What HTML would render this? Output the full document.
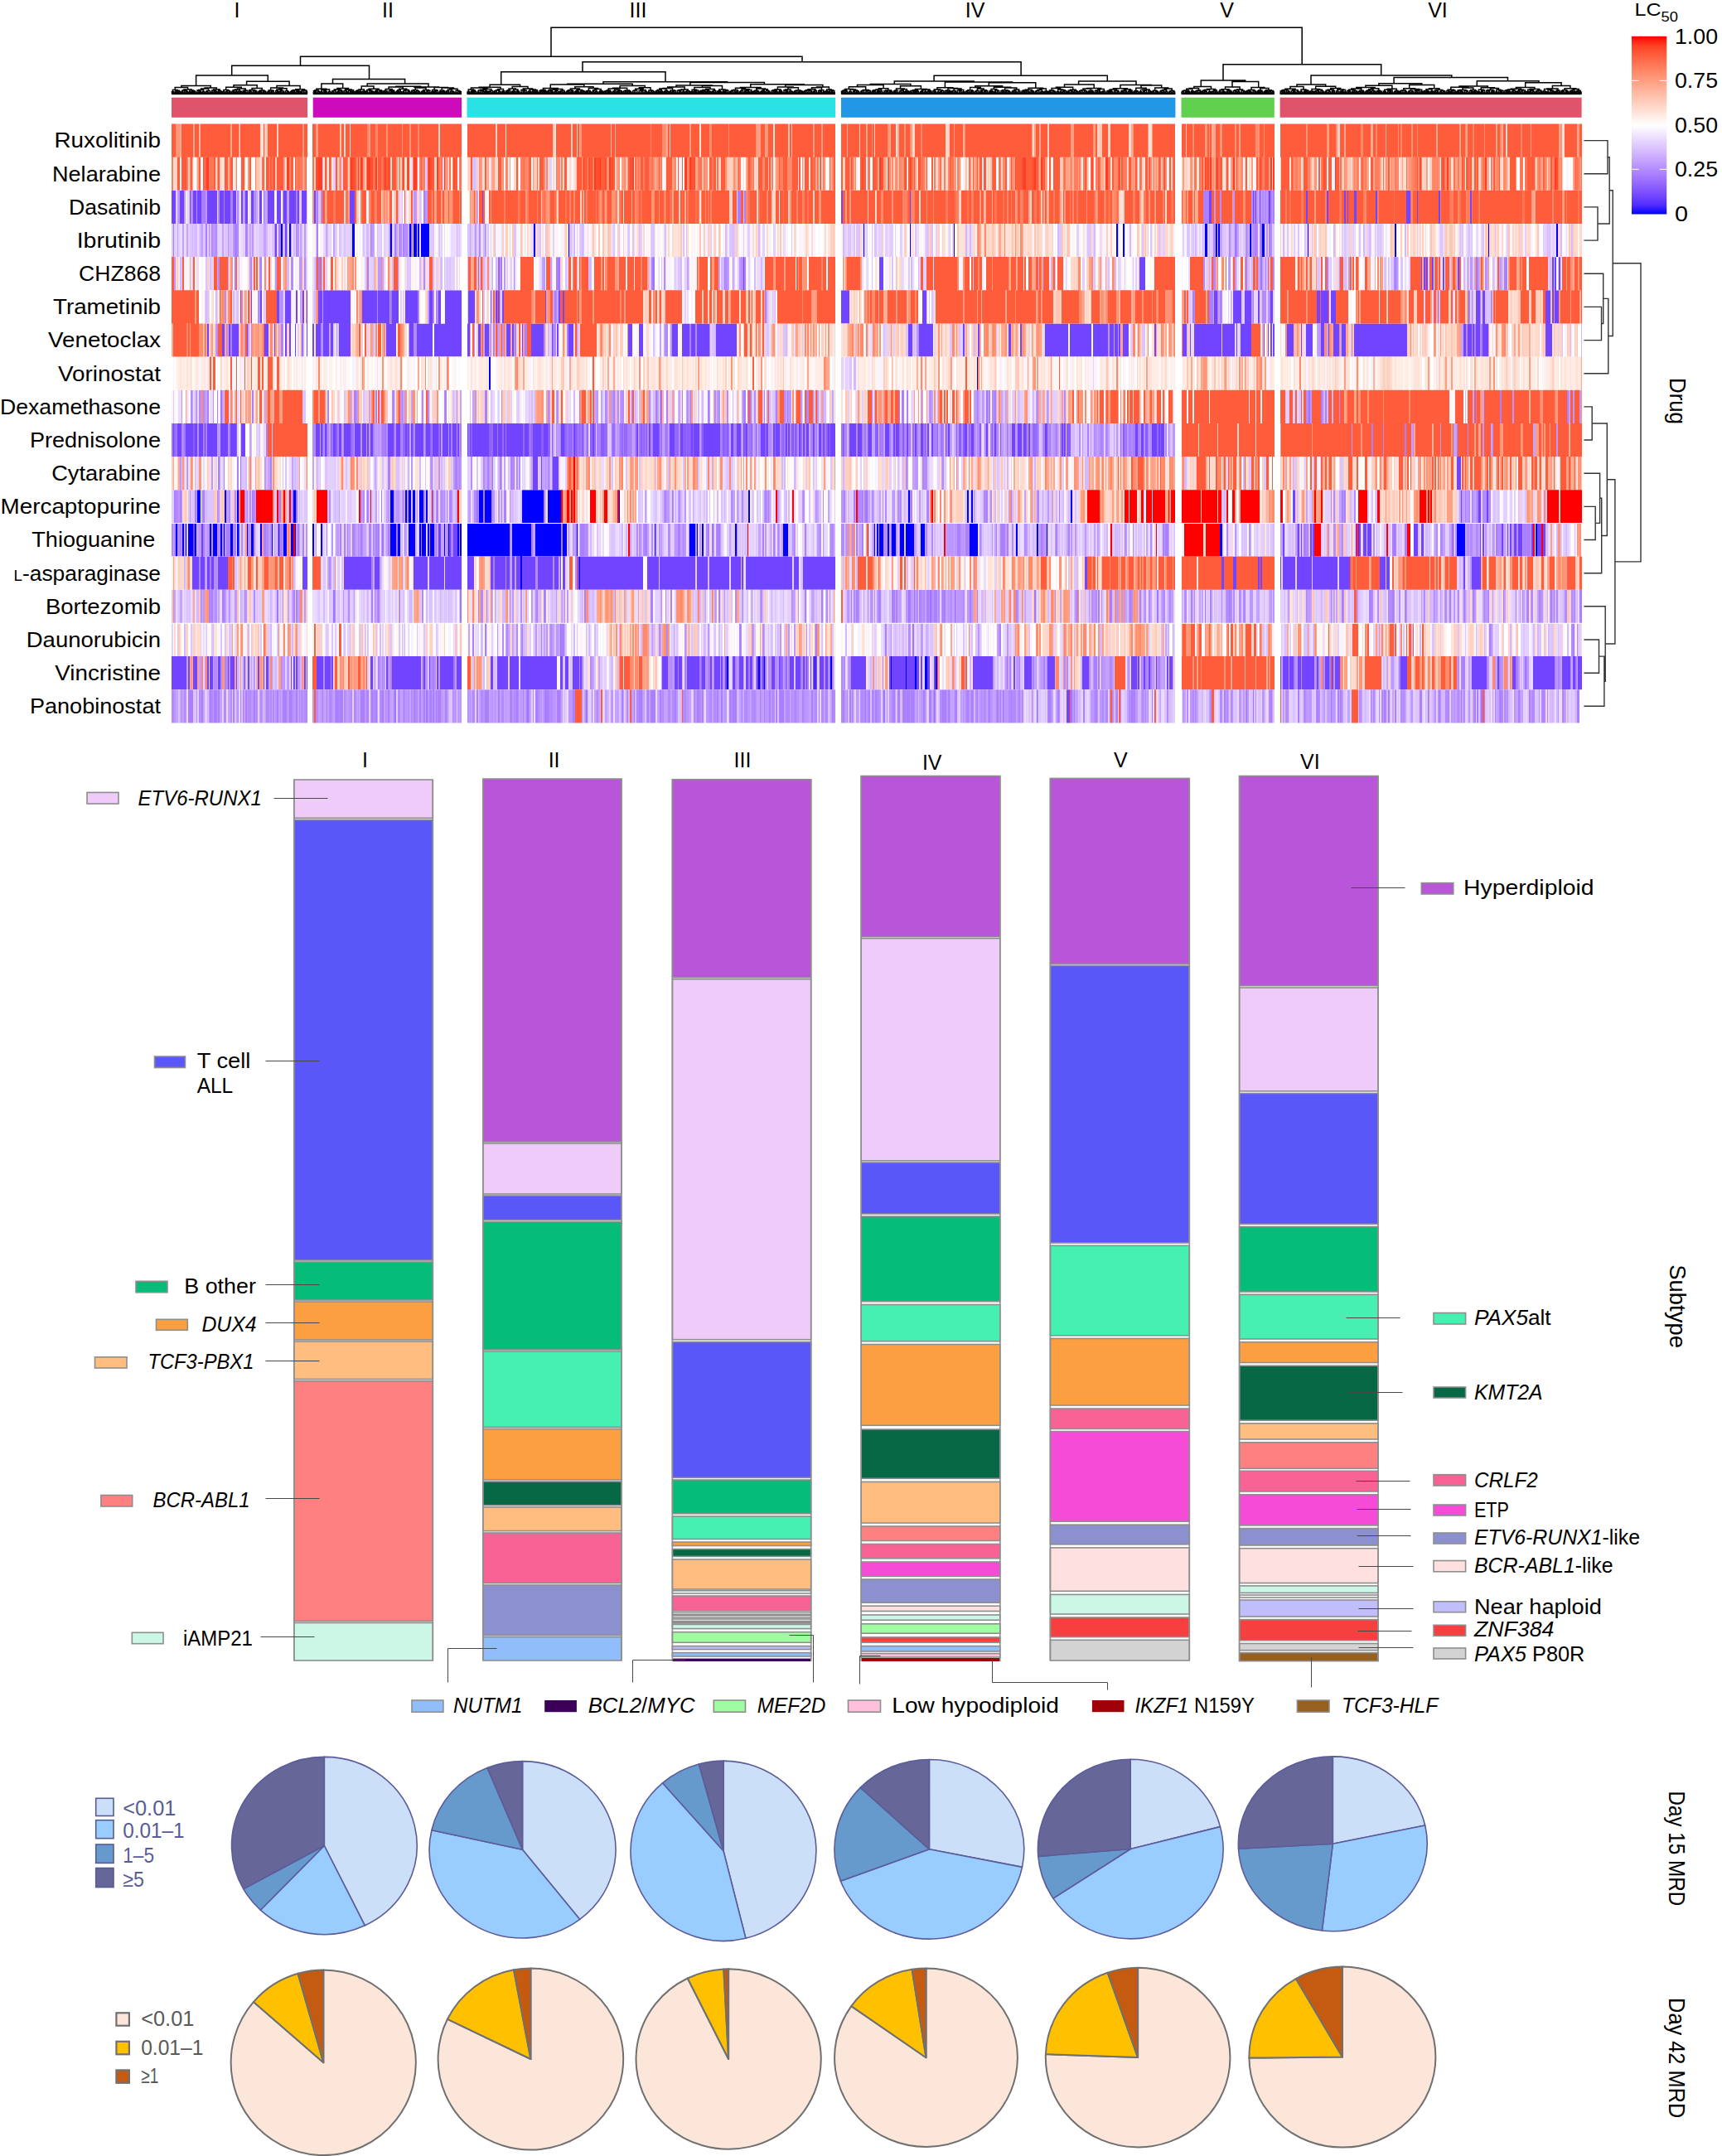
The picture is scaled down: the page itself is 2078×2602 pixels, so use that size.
<!DOCTYPE html>
<html lang="en"><head><meta charset="utf-8"><title>Drug response clusters</title>
<style>html,body{margin:0;padding:0;background:#fff}svg{display:block}text{font-family:'Liberation Sans', sans-serif}</style></head><body>
<svg width="2078" height="2602" viewBox="0 0 2078 2602">
<rect width="2078" height="2602" fill="#fff"/>
<defs><filter id="hb" x="200" y="140" width="1716" height="740" filterUnits="userSpaceOnUse"><feGaussianBlur stdDeviation="0.55 0"/></filter></defs><g fill="none" stroke-width="40.16" filter="url(#hb)">
<path stroke="#0000FF" d="M339 290.1h2m8 0h2m74 0h3m43 0h2m21 0h2m3 0h4m1 0h2m2 0h10m126 0h2m40 0h1m355 0h1m55 0h1m52 0h1m195 0h2m6 0h2m97 0h3m10 0h2m1 0h2m36 0h2m13 0h3m52 0h1m104 0h2m111 0h1m81 0h2M590 450.7h2m587 0h1M238 611.3h4m29 0h2m13 0h2m66 0h3m114 0h4m14 0h2m2 0h3m2 0h3m5 0h5m3 0h2m62 0h5m2 0h8m37 0h26m5 0h16m70 0h1m155 0h2m191 0h2m69 0h2m3 0h2m118 0h2M212 651.5h2m6 0h2m2 0h1m2 0h6m2 0h2m16 0h2m2 0h5m4 0h2m2 0h1m7 0h3m5 0h4m8 0h1m4 0h3m8 0h2m12 0h1m7 0h1m5 0h4m5 0h3m2 0h1m20 0h2m8 0h2m82 0h7m2 0h3m10 0h8m5 0h2m1 0h5m2 0h2m1 0h5m12 0h1m4 0h1m10 0h2m1 0h2m7 0h51m3 0h23m5 0h31m2 0h5m12 0h1m93 0h1m41 0h7m2 0h1m5 0h2m38 0h2m56 0h6m104 0h1m2 0h2m1 0h5m5 0h2m3 0h5m5 0h5m2 0h10m8 0h5m54 0h10m46 0h2m23 0h2m10 0h1m208 0h3m283 0h10m85 0h2M628 691.7h2m69 0h1M877 812.1h2m36 0h2m5 0h1m60 0h1m18 0h2m71 0h1m17 0h1m10 0h2m10 0h3m10 0h2"/>
<path stroke="#7145FF" d="M207 249.9h5m5 0h5m7 0h1m3 0h4m1 0h5m7 0h12m3 0h5m1 0h7m3 0h4m6 0h2m3 0h3m4 0h3m7 0h3m7 0h8m3 0h5m3 0h4m3 0h8m2 0h2m3 0h6m9 0h2m41 0h6m154 0h1m432 0h2m81 0h1m360 0h3m50 0h1m2 0h1m4 0h1m10 0h2m43 0h2m23 0h2m19 0h2m2 0h1m7 0h3m23 0h2m35 0h5m8 0h1m25 0h2m36 0h2M332 290.1h2m10 0h2M897 330.2h1m163 0h5m309 0h7m333 0h1m2 0h2m1 0h2m5 0h2m11 0h2m16 0h2m112 0h2m1 0h2m3 0h2M290 370.4h1m12 0h1m10 0h2m18 0h3m7 0h7m6 0h2m6 0h2m3 0h1m13 0h5m1 0h33m14 0h18m1 0h14m3 0h8m8 0h15m14 0h4m7 0h3m5 0h20m8 0h8m19 0h1m5 0h2m1 0h2m3 0h2m50 0h1m15 0h2m3 0h2m334 0h10m88 0h5m347 0h4m19 0h10m4 0h8m8 0h2m13 0h3m53 0h4m1 0h9m3 0h6m169 0h5m3 0h3m73 0h6m2 0h2m1 0h5M250 410.5h2m16 0h3m5 0h2m2 0h8m10 0h1m20 0h5m7 0h1m12 0h2m3 0h2m5 0h1m7 0h1m5 0h1m6 0h2m2 0h6m3 0h7m2 0h3m7 0h14m43 0h12m16 0h5m4 0h19m2 0h33m7 0h3m10 0h3m5 0h5m21 0h5m2 0h2m10 0h1m10 0h15m10 0h1m5 0h2m12 0h6m66 0h5m8 0h5m35 0h7m5 0h9m2 0h5m2 0h15m8 0h25m207 0h5m8 0h17m36 0h2m16 0h2m35 0h3m11 0h2m28 0h28m2 0h26m2 0h18m2 0h5m1 0h4m1 0h2m3 0h7m31 0h2m32 0h5m4 0h1m4 0h33m1 0h15m2 0h1m4 0h13m15 0h1m4 0h1m2 0h2m1 0h2m15 0h8m9 0h1m5 0h8m10 0h4m5 0h1m5 0h7m3 0h5m10 0h64m68 0h3m2 0h5m1 0h2m2 0h5m3 0h7m69 0h8M209 531.0h1m4 0h5m5 0h9m2 0h3m2 0h5m2 0h1m2 0h12m4 0h9m3 0h7m6 0h5m85 0h5m1 0h2m3 0h2m8 0h3m4 0h3m3 0h8m5 0h7m2 0h5m1 0h2m2 0h3m18 0h7m3 0h5m6 0h2m2 0h1m2 0h2m3 0h10m3 0h5m3 0h7m2 0h1m2 0h7m1 0h2m2 0h5m1 0h2m10 0h1m2 0h1m2 0h20m5 0h5m1 0h5m2 0h2m1 0h20m2 0h5m5 0h10m3 0h5m16 0h4m11 0h2m21 0h2m51 0h2m13 0h2m3 0h7m13 0h6m7 0h3m10 0h2m1 0h7m5 0h20m13 0h3m4 0h5m3 0h1m2 0h2m16 0h5m2 0h2m6 0h2m1 0h5m7 0h2m1 0h2m7 0h1m3 0h2m3 0h2m2 0h3m5 0h2m5 0h3m2 0h1m5 0h2m1 0h6m17 0h8m2 0h5m8 0h4m16 0h5m5 0h2m1 0h4m9 0h2m8 0h2m5 0h3m5 0h2m3 0h2m15 0h1m2 0h2m18 0h3m5 0h3m15 0h2m8 0h2m19 0h4m3 0h5m2 0h3m3 0h2m18 0h3m17 0h2m1 0h2m84 0h3m4 0h3m10 0h6m2 0h2m1 0h4M643 571.2h6m4 0h1m13 0h7m1084 0h5M1560 611.3h3m200 0h1m20 0h3m7 0h2M233 651.5h2m8 0h2m284 0h3m10 0h2m3 0h5m996 0h2m16 0h2m2 0h1m10 0h2m1 0h2m51 0h2m1 0h2m3 0h4m1 0h5m51 0h5m4 0h3m35 0h1m32 0h1m2 0h2m21 0h2m5 0h1m2 0h2m3 0h3m2 0h5m11 0h2m5 0h5m2 0h3M232 691.7h8m2 0h5m3 0h3m2 0h3m5 0h12m90 0h6m44 0h33m4 0h6m41 0h17m2 0h18m1 0h20m7 0h8m20 0h3m2 0h13m1 0h4m3 0h3m2 0h5m2 0h16m3 0h18m2 0h5m2 0h1m2 0h3m15 0h2m1 0h76m5 0h14m1 0h43m2 0h13m2 0h24m2 0h12m1 0h2m3 0h56m2 0h6m5 0h39m301 0h3m162 0h3m11 0h4m26 0h2m1 0h2m22 0h1m2 0h15m2 0h18m1 0h30m2 0h13m36 0h7m1 0h4m89 0h2m8 0h11M207 812.1h18m2 0h2m4 0h5m12 0h2m1 0h4m6 0h3m9 0h1m2 0h5m2 0h1m9 0h1m3 0h2m10 0h2m5 0h1m2 0h3m27 0h1m2 0h2m1 0h2m8 0h2m1 0h1m11 0h8m2 0h7m1 0h2m45 0h3m16 0h2m5 0h35m3 0h2m5 0h1m8 0h2m2 0h16m4 0h6m35 0h3m5 0h13m2 0h11m2 0h44m4 0h3m3 0h4m5 0h8m1 0h2m97 0h7m8 0h4m1 0h4m6 0h15m3 0h4m6 0h2m3 0h7m1 0h2m3 0h2m7 0h3m5 0h5m3 0h3m2 0h3m5 0h2m5 0h2m9 0h4m5 0h1m12 0h5m2 0h6m3 0h2m2 0h1m4 0h1m2 0h2m1 0h2m3 0h5m2 0h3m28 0h18m28 0h2m1 0h17m1 0h10m2 0h3m2 0h2m6 0h3m5 0h2m45 0h24m25 0h2m11 0h9m19 0h9m33 0h8m51 0h7m1 0h2m5 0h2m4 0h2m7 0h1m12 0h2m1 0h4m130 0h1m2 0h7m1 0h5m5 0h4m1 0h15m3 0h2m8 0h5m3 0h2m2 0h6m73 0h8m78 0h18m13 0h2m16 0h4m21 0h26m9 0h10m3 0h3m3 0h5M1287 852.3h4"/>
<path stroke="#8A5DFF" d="M233 531.0h2m50 0h1m113 0h1m5 0h2m84 0h2m75 0h2m20 0h2m61 0h3m5 0h2m3 0h1m14 0h1m12 0h2m6 0h2m5 0h1m2 0h2m11 0h4m44 0h2m5 0h1m14 0h1m28 0h4m1 0h2m1 0h2m13 0h2m23 0h2m3 0h2m19 0h2m7 0h1m4 0h1m10 0h2m30 0h3m36 0h2m1 0h2m18 0h2m28 0h1m8 0h4m29 0h2m63 0h1m2 0h3m2 0h2m5 0h1m12 0h2m13 0h1m9 0h1m79 0h5m63 0h2m25 0h3m15 0h1M917 812.1h1m23 0h2"/>
<path stroke="#9569FF" d="M601 330.2h2m2 0h1M210 531.0h2m177 0h1m4 0h1m28 0h2m50 0h1m10 0h3m9 0h1m20 0h2m8 0h2m61 0h3m11 0h2m23 0h2m5 0h1m2 0h2m20 0h1m18 0h2m2 0h5m5 0h1m2 0h1m14 0h1m2 0h2m10 0h4m7 0h2m8 0h2m1 0h4m19 0h2m20 0h1m4 0h1m10 0h5m9 0h1m2 0h1m4 0h1m37 0h3m58 0h1m7 0h3m20 0h2m33 0h1m99 0h2m13 0h2m13 0h1m4 0h1m101 0h2m6 0h5m101 0h1m43 0h2M846 812.1h1m96 0h2m3 0h2"/>
<path stroke="#A074FF" d="M318 249.9h1M496 290.1h2m992 0h2m23 0h1m5 0h2M674 330.2h2m112 0h2m731 0h2M471 370.4h2m986 0h1M266 490.9h2m207 0h1m714 0h2m387 0h2M207 531.0h2m3 0h2m8 0h2m176 0h2m23 0h2m38 0h1m47 0h1m51 0h2m33 0h1m9 0h1m28 0h2m43 0h2m11 0h2m1 0h2m2 0h1m33 0h2m8 0h2m21 0h2m2 0h1m2 0h2m66 0h1m32 0h1m23 0h4m39 0h2m10 0h2m55 0h2m26 0h2m16 0h2m2 0h1m19 0h1m12 0h1m15 0h2m54 0h2m79 0h2m30 0h1m74 0h2M290 571.2h1M357 611.3h2m101 0h1m114 0h2m468 0h2M461 651.5h2m15 0h2m379 0h2m821 0h1M334 731.8h2m66 0h2m151 0h2m539 0h2m5 0h1m18 0h2m124 0h2m89 0h1m56 0h2m56 0h1m359 0h1M676 772.0h1m424 0h2M547 812.1h2m1055 0h2m234 0h2M476 852.3h2m36 0h2m120 0h2m20 0h1m48 0h2m357 0h2m59 0h2m163 0h2m218 0h1m93 0h1m180 0h2"/>
<path stroke="#AA80FF" d="M243 249.9h5m22 0h1m7 0h3m76 0h2m23 0h2m127 0h2m377 0h4m4 0h2m552 0h7m54 0h2m15 0h1m2 0h2m1 0h2M209 290.1h1m38 0h2m33 0h3m10 0h2m38 0h3m43 0h2m63 0h1m22 0h1m5 0h2m8 0h2m1043 0h2M283 330.2h2m18 0h1m10 0h2m68 0h2m57 0h2m175 0h1m50 0h3m112 0h2m86 0h1m23 0h2m564 0h1m38 0h2m96 0h2m80 0h2m86 0h1m10 0h2m31 0h4M504 370.4h2m16 0h2m2 0h1m142 0h2m252 0h2m514 0h2m19 0h4m5 0h1m2 0h2m38 0h1m259 0h2m2 0h1M278 410.5h2m59 0h2m254 0h2m24 0h2m10 0h3m31 0h2m15 0h2m117 0h1m28 0h2m797 0h1m147 0h2m6 0h2M237 490.9h1m12 0h2m10 0h1m41 0h2m89 0h2m30 0h3m23 0h2m30 0h1m51 0h2m46 0h3m111 0h1m40 0h2m49 0h2m3 0h2m6 0h2m17 0h1m30 0h2m41 0h3m2 0h1m2 0h2m29 0h2m12 0h1m22 0h1m111 0h1m2 0h3m3 0h2m83 0h1m13 0h2m5 0h2m392 0h2m3 0h2m180 0h1m28 0h2m79 0h2M245 531.0h2m1 0h2m26 0h2m43 0h2m84 0h2m41 0h2m9 0h4m18 0h2m36 0h1m22 0h2m9 0h2m119 0h1m30 0h2m11 0h5m27 0h1m4 0h5m4 0h2m18 0h2m8 0h2m6 0h2m64 0h2m13 0h4m72 0h2m8 0h2m5 0h3m3 0h2m5 0h2m27 0h2m18 0h2m21 0h2m8 0h2m5 0h1m5 0h2m3 0h2m3 0h2m8 0h2m18 0h5m6 0h2m36 0h2m18 0h2m5 0h1m12 0h2m42 0h2m5 0h2m6 0h2m3 0h2m31 0h2m15 0h1m4 0h1m22 0h1m4 0h3m2 0h3m3 0h2m10 0h1m24 0h1m244 0h2m38 0h2m61 0h1M263 571.2h2m5 0h1m15 0h2m38 0h2m140 0h3m50 0h1m27 0h3m2 0h1m33 0h2m3 0h2m8 0h2m11 0h2m2 0h1m45 0h1m426 0h1m19 0h1M210 611.3h2m5 0h2m16 0h2m8 0h2m48 0h1m8 0h2m31 0h2m104 0h2m82 0h2m13 0h2m39 0h2m20 0h1m2 0h3m45 0h2m145 0h1m7 0h2m110 0h2m2 0h1m91 0h1m10 0h2m3 0h2m3 0h2m1 0h2m7 0h1m46 0h2m18 0h2m66 0h1m2 0h2m28 0h1m32 0h1m24 0h1m340 0h2m1 0h2m144 0h1m7 0h1m5 0h2M217 651.5h2m26 0h2m26 0h5m5 0h2m33 0h3m16 0h4m18 0h2m4 0h2m27 0h1m15 0h2m3 0h2m2 0h1m5 0h3m7 0h2m8 0h3m5 0h2m1 0h2m10 0h2m18 0h1m19 0h1m17 0h1m17 0h3m7 0h1m86 0h2m34 0h2m21 0h5m73 0h3m37 0h3m33 0h2m9 0h4m51 0h2m11 0h2m36 0h2m60 0h2m5 0h2m33 0h1m42 0h1m36 0h4m6 0h5m32 0h1m4 0h6m2 0h2m39 0h2m16 0h2m13 0h2m66 0h1m45 0h2m1 0h4m97 0h1m57 0h1m7 0h3m2 0h1m101 0h2m1 0h2m10 0h3m40 0h1m32 0h1m33 0h2m31 0h9M240 691.7h2m11 0h2m193 0h2m145 0h2M242 731.8h1m9 0h1m2 0h2m11 0h3m24 0h1m58 0h2m1 0h2m89 0h2m6 0h2m129 0h1m27 0h1m32 0h1m7 0h2m47 0h2m78 0h3m21 0h2m56 0h2m38 0h1m63 0h2m18 0h2m34 0h1m5 0h2m17 0h1m7 0h3m13 0h4m1 0h2m15 0h1m10 0h2m7 0h3m6 0h4m6 0h4m11 0h2m16 0h2m7 0h1m46 0h2m71 0h2m24 0h2m13 0h2m21 0h2m10 0h2m60 0h2m21 0h2m21 0h2m17 0h1m52 0h1m50 0h1m12 0h2m31 0h3m25 0h2m13 0h2m33 0h1m18 0h2m15 0h2m9 0h2m12 0h1m4 0h1m32 0h1m13 0h2m12 0h1m13 0h2m2 0h1m24 0h1m5 0h3M570 772.0h2m13 0h2m43 0h1m22 0h1m23 0h4m114 0h1m96 0h2m90 0h2m82 0h2m137 0h1m589 0h2m99 0h2M271 812.1h2m183 0h2m13 0h2m49 0h2m294 0h1m7 0h2m16 0h2m8 0h3m30 0h2m14 0h2m13 0h2m3 0h2m26 0h2m13 0h2m3 0h2m1 0h2m25 0h1m17 0h1m45 0h1m149 0h2m1 0h2m10 0h1m15 0h2m11 0h2m59 0h4m1 0h2m2 0h1m9 0h1m22 0h1m14 0h1m4 0h3m3 0h2m8 0h2m161 0h2m33 0h2m90 0h2m74 0h4m41 0h1m19 0h3m48 0h1m20 0h2M227 852.3h6m10 0h2m8 0h2m3 0h4m1 0h2m16 0h2m7 0h1m5 0h2m8 0h2m15 0h1m10 0h2m5 0h5m3 0h3m5 0h2m5 0h1m5 0h1m18 0h1m4 0h1m4 0h1m5 0h4m1 0h4m21 0h5m3 0h2m3 0h2m3 0h2m6 0h2m5 0h2m29 0h2m5 0h2m3 0h2m6 0h2m1 0h2m2 0h1m2 0h3m5 0h2m36 0h2m8 0h5m11 0h2m13 0h2m5 0h2m21 0h3m10 0h4m9 0h4m15 0h3m20 0h1m35 0h2m5 0h1m7 0h1m5 0h4m6 0h2m2 0h6m5 0h2m16 0h2m25 0h3m3 0h2m16 0h2m3 0h2m8 0h2m2 0h5m28 0h1m4 0h1m5 0h2m6 0h2m2 0h6m14 0h1m7 0h1m10 0h2m7 0h1m7 0h1m7 0h2m1 0h1m9 0h2m6 0h2m16 0h2m3 0h2m2 0h1m3 0h2m20 0h2m3 0h3m3 0h4m1 0h4m1 0h4m11 0h2m5 0h3m13 0h5m2 0h2m6 0h3m12 0h2m3 0h2m5 0h1m13 0h2m8 0h2m2 0h1m2 0h2m8 0h1m9 0h1m14 0h1m5 0h2m11 0h4m8 0h2m18 0h1m10 0h2m13 0h2m23 0h2m16 0h5m20 0h1m86 0h2m24 0h2m28 0h2m31 0h2m21 0h2m23 0h2m1 0h2m35 0h1m15 0h2m3 0h2m6 0h2m28 0h3m7 0h2m11 0h2m10 0h1m14 0h1m15 0h2m1 0h2m7 0h1m17 0h3m20 0h2m11 0h2m15 0h1m40 0h3"/>
<path stroke="#B38BFF" d="M230 249.9h3m30 0h2m21 0h2m7 0h1m10 0h3m32 0h1m45 0h2m1083 0h2m36 0h2m11 0h2m1 0h2M252 290.1h1m2 0h2m3 0h2m24 0h2m10 0h1m32 0h1m25 0h2m35 0h1m86 0h4m4 0h2m87 0h2m884 0h3m16 0h2m7 0h1m10 0h2m7 0h3m1 0h2m15 0h2M263 330.2h2m48 0h1m37 0h3m13 0h2m12 0h1m5 0h2m91 0h1m30 0h2m288 0h2m72 0h2m7 0h1m9 0h3m555 0h2m11 0h2m69 0h2m144 0h1m109 0h2M271 370.4h2m38 0h2m26 0h2m114 0h1m71 0h2m142 0h1m769 0h1m32 0h1m48 0h5m3 0h2m253 0h1m12 0h2M262 410.5h1m10 0h2m28 0h1m37 0h1m45 0h2m110 0h4m89 0h1m7 0h1m55 0h2m11 0h2m133 0h2m33 0h2m15 0h1m251 0h1m660 0h2m5 0h1m9 0h1M230 490.9h2m8 0h2m3 0h2m226 0h2m34 0h2m5 0h2m18 0h1m14 0h1m53 0h1m55 0h2m9 0h2m56 0h3m12 0h2m3 0h3m9 0h1m20 0h2m44 0h2m1 0h2m28 0h2m3 0h2m8 0h2m31 0h2m10 0h1m23 0h2m26 0h2m76 0h1m69 0h2m73 0h3m51 0h2m10 0h1m20 0h2m290 0h3m37 0h1M219 531.0h3m16 0h2m137 0h4m9 0h2m3 0h2m17 0h1m45 0h1m5 0h2m8 0h2m7 0h1m13 0h2m53 0h1m116 0h1m75 0h1m14 0h1m18 0h2m36 0h2m48 0h1m24 0h1m7 0h1m12 0h3m10 0h3m10 0h2m7 0h1m2 0h2m41 0h1m36 0h2m53 0h1m14 0h1m30 0h2m6 0h2m2 0h1m13 0h2m17 0h3m6 0h2m8 0h2m3 0h2m53 0h1m5 0h2m7 0h1m28 0h2m16 0h2m5 0h2m1 0h2m3 0h2m28 0h2m8 0h2m3 0h2m6 0h2m16 0h2m261 0h1m35 0h1m65 0h1m29 0h1M568 571.2h2m13 0h2m33 0h2m3 0h2m1 0h2m33 0h2m451 0h5m18 0h2M212 611.3h3m47 0h1m13 0h2m5 0h2m13 0h1m2 0h2m3 0h2m28 0h1m15 0h2m43 0h2m36 0h2m1 0h2m40 0h1m5 0h2m3 0h2m18 0h2m9 0h2m2 0h1m5 0h2m2 0h1m7 0h2m5 0h1m20 0h3m2 0h1m15 0h2m206 0h2m16 0h2m61 0h2m11 0h2m72 0h2m22 0h1m23 0h2m18 0h3m25 0h1m2 0h2m13 0h2m1 0h2m10 0h1m19 0h1m69 0h2m5 0h2m54 0h2m353 0h1m2 0h2m23 0h2m136 0h2m15 0h5m2 0h3M207 651.5h2m1 0h2m2 0h3m45 0h3m3 0h2m11 0h2m8 0h2m6 0h2m5 0h2m13 0h3m2 0h2m42 0h1m61 0h1m4 0h1m12 0h2m3 0h1m14 0h1m53 0h2m13 0h2m74 0h1m70 0h1m4 0h1m2 0h2m9 0h4m59 0h2m1 0h2m3 0h2m8 0h2m7 0h1m10 0h3m15 0h2m5 0h1m20 0h2m10 0h1m24 0h1m40 0h1m7 0h2m18 0h2m29 0h2m11 0h4m9 0h4m9 0h2m36 0h4m15 0h1m38 0h2m56 0h2m37 0h2m13 0h2m20 0h1m108 0h1m20 0h2m90 0h2m94 0h2m25 0h1m5 0h2m8 0h2m36 0h2m74 0h2m4 0h2m10 0h2m21 0h3m4 0h3m17 0h1m5 0h5m18 0h2M258 691.7h4m135 0h2m211 0h1m35 0h3m18 0h2m25 0h2M253 731.8h2m5 0h2m44 0h2m33 0h1m62 0h1m15 0h2m30 0h1m2 0h1m25 0h2m26 0h2m66 0h1m2 0h3m45 0h2m16 0h2m10 0h1m22 0h1m116 0h1m4 0h1m83 0h2m29 0h2m35 0h1m41 0h2m2 0h1m28 0h2m3 0h2m10 0h1m58 0h2m3 0h2m1 0h2m5 0h1m2 0h2m6 0h2m13 0h2m13 0h2m109 0h1m43 0h2m3 0h2m5 0h1m35 0h2m15 0h1m3 0h2m15 0h3m5 0h2m16 0h3m9 0h1m32 0h1m5 0h3m2 0h2m1 0h2m5 0h2m3 0h2m74 0h2m43 0h1m33 0h2m5 0h2m11 0h5m2 0h1m5 0h2m28 0h2m24 0h2m13 0h2m76 0h1m4 0h1m5 0h2m8 0h2m18 0h2m8 0h3m5 0h2M606 772.0h2m3 0h2m10 0h2m39 0h2m138 0h2m88 0h1m25 0h2m51 0h1m122 0h2m107 0h2m689 0h2m5 0h1M258 812.1h4m4 0h2m5 0h2m1 0h2m10 0h2m49 0h2m49 0h2m7 0h1m52 0h1m8 0h2m5 0h2m39 0h2m2 0h1m5 0h3m2 0h2m173 0h1m2 0h2m8 0h2m92 0h2m1 0h2m50 0h1m12 0h1m15 0h2m20 0h1m14 0h3m5 0h3m8 0h2m20 0h1m25 0h2m3 0h2m3 0h2m9 0h2m8 0h2m236 0h1m20 0h2m1 0h2m25 0h2m24 0h2m30 0h1m5 0h2m16 0h2m172 0h1m17 0h1m170 0h2m2 0h1m30 0h2m14 0h2m30 0h1m33 0h2m3 0h2M207 852.3h3m9 0h1m2 0h2m16 0h2m13 0h2m13 0h3m5 0h2m13 0h2m4 0h4m6 0h2m3 0h2m5 0h2m3 0h2m1 0h2m21 0h2m7 0h1m5 0h3m11 0h3m13 0h2m5 0h1m4 0h1m5 0h2m6 0h2m2 0h3m12 0h1m7 0h3m5 0h3m4 0h1m9 0h1m4 0h3m3 0h3m4 0h1m2 0h2m3 0h3m14 0h1m8 0h2m17 0h1m17 0h1m5 0h3m7 0h3m14 0h1m7 0h3m7 0h1m4 0h3m2 0h1m5 0h2m1 0h2m2 0h1m4 0h1m5 0h2m5 0h2m6 0h3m9 0h1m43 0h2m46 0h3m28 0h2m5 0h3m2 0h3m10 0h4m9 0h2m5 0h2m10 0h3m2 0h3m18 0h2m10 0h1m3 0h4m5 0h5m19 0h4m13 0h5m2 0h1m2 0h2m3 0h1m5 0h2m12 0h3m5 0h3m3 0h2m16 0h2m5 0h1m5 0h2m8 0h4m5 0h1m5 0h2m3 0h3m15 0h2m15 0h1m4 0h1m4 0h1m22 0h1m7 0h3m28 0h2m7 0h1m2 0h2m5 0h1m2 0h3m2 0h1m9 0h1m14 0h3m1 0h5m2 0h2m3 0h2m33 0h1m9 0h1m41 0h2m8 0h2m2 0h3m2 0h1m2 0h2m8 0h1m9 0h3m13 0h2m2 0h1m2 0h1m22 0h2m22 0h2m5 0h2m1 0h2m16 0h2m10 0h3m5 0h2m3 0h2m44 0h2m18 0h4m18 0h3m12 0h1m2 0h2m47 0h2m15 0h2m5 0h1m2 0h2m3 0h1m17 0h2m1 0h2m49 0h4m11 0h2m5 0h2m36 0h1m7 0h2m1 0h2m2 0h1m28 0h4m8 0h2m1 0h2m2 0h1m17 0h3"/>
<path stroke="#BC97FF" d="M215 249.9h2m5 0h2m13 0h1m10 0h2m96 0h1m152 0h4m10 0h3m949 0h2m21 0h2m26 0h2m3 0h2m2 0h1m2 0h2m5 0h1M257 290.1h3m15 0h1m5 0h2m21 0h2m40 0h1m12 0h2m6 0h2m79 0h2m38 0h1m2 0h2m80 0h2m10 0h2m918 0h2m3 0h2m8 0h1m7 0h2M210 330.2h2m68 0h1m20 0h2m29 0h2m27 0h3m92 0h4m143 0h2m3 0h2m46 0h2m219 0h2m13 0h2m589 0h2m5 0h2m34 0h2m88 0h1m10 0h2m56 0h2m87 0h3m33 0h2M313 370.4h1m23 0h2m131 0h1m1039 0h2m18 0h1M260 410.5h2m33 0h1m40 0h1m52 0h1m103 0h1m78 0h1m33 0h2m88 0h1m112 0h2m295 0h2m229 0h2m10 0h1m241 0h3M219 490.9h1m22 0h1m4 0h1m9 0h1m172 0h2m51 0h2m3 0h1m84 0h2m88 0h1m7 0h1m48 0h2m15 0h3m8 0h2m43 0h2m61 0h1m8 0h2m58 0h2m24 0h4m11 0h2m18 0h2m123 0h2m8 0h1m55 0h2m1 0h2m3 0h2m394 0h2m242 0h2m71 0h2m6 0h2M262 531.0h3m10 0h1m136 0h2m13 0h1m7 0h2m8 0h2m6 0h2m1 0h2m53 0h2m19 0h2m7 0h1m9 0h1m120 0h4m15 0h1m50 0h1m2 0h2m38 0h1m15 0h2m3 0h2m36 0h2m64 0h2m15 0h1m35 0h1m4 0h1m50 0h1m22 0h1m2 0h2m29 0h2m15 0h1m14 0h3m44 0h2m10 0h2m39 0h2m8 0h2m5 0h3m5 0h2m8 0h3m7 0h1m17 0h2m33 0h1m9 0h1m5 0h2m1 0h2m20 0h2m11 0h2m24 0h2m27 0h3m213 0h1m106 0h1m50 0h2m87 0h2M217 571.2h2m6 0h2m28 0h2m62 0h2m131 0h1m40 0h1m2 0h2m21 0h2m8 0h2m16 0h2m3 0h2m1 0h2m33 0h2m13 0h1m52 0h1m4 0h1m430 0h2m8 0h4M215 611.3h2m2 0h1m9 0h1m13 0h2m18 0h2m43 0h1m159 0h2m5 0h1m2 0h2m5 0h1m17 0h1m27 0h1m2 0h2m31 0h1m27 0h2m4 0h2m12 0h1m188 0h4m18 0h2m56 0h1m4 0h1m32 0h1m2 0h2m11 0h2m28 0h1m15 0h2m29 0h2m36 0h2m23 0h2m5 0h1m23 0h2m153 0h2m355 0h1m142 0h2m3 0h3m5 0h2m2 0h1M240 651.5h3m7 0h3m2 0h2m8 0h1m5 0h2m28 0h2m38 0h1m27 0h1m11 0h1m18 0h2m5 0h2m13 0h1m5 0h2m3 0h2m25 0h1m57 0h1m190 0h1m88 0h1m15 0h4m5 0h1m2 0h2m11 0h2m3 0h2m15 0h1m7 0h1m53 0h2m15 0h1m15 0h2m28 0h3m4 0h1m26 0h2m1 0h2m12 0h1m15 0h2m15 0h1m32 0h1m12 0h2m24 0h9m1 0h3m4 0h5m33 0h1m40 0h2m14 0h2m3 0h4m10 0h1m18 0h2m3 0h2m10 0h2m13 0h1m33 0h2m45 0h1m84 0h2m53 0h1m37 0h1m27 0h1m144 0h2m11 0h2m1 0h2m18 0h2m20 0h1m10 0h2m10 0h1M247 691.7h1m14 0h1m352 0h1m1158 0h2M245 731.8h2m11 0h2m11 0h2m3 0h2m5 0h3m10 0h2m63 0h1m5 0h2m45 0h1m12 0h1m169 0h1m20 0h2m21 0h2m28 0h1m12 0h2m176 0h2m10 0h1m20 0h2m20 0h1m38 0h2m5 0h1m58 0h3m25 0h2m3 0h1m2 0h2m25 0h1m7 0h3m3 0h2m3 0h2m7 0h1m12 0h1m9 0h1m7 0h3m4 0h1m3 0h7m5 0h3m2 0h2m123 0h2m20 0h3m25 0h3m3 0h2m2 0h1m4 0h1m9 0h1m7 0h2m28 0h1m4 0h1m63 0h1m17 0h1m10 0h4m21 0h2m1 0h2m41 0h2m56 0h2m58 0h1m40 0h1m4 0h1m10 0h2m12 0h1m10 0h2m11 0h4m5 0h1m45 0h1m12 0h2m36 0h2M600 772.0h1m27 0h2m16 0h2m11 0h2m5 0h1m4 0h3m122 0h2m28 0h2m26 0h2m52 0h2m31 0h2m8 0h2m5 0h2m115 0h1m22 0h1m12 0h2m67 0h2m33 0h2m582 0h2M242 812.1h1m50 0h2m11 0h2m20 0h1m13 0h2m3 0h2m10 0h3m96 0h2m3 0h2m49 0h2m13 0h2m18 0h2m163 0h1m93 0h1m2 0h2m15 0h1m22 0h3m18 0h2m64 0h2m77 0h2m4 0h2m173 0h2m13 0h2m11 0h4m20 0h1m5 0h2m61 0h1m10 0h4m8 0h2m41 0h1m4 0h3m7 0h1m4 0h1m149 0h1m7 0h3m20 0h2m3 0h2m5 0h1m10 0h2m69 0h2m114 0h1m7 0h1m7 0h2m18 0h2m9 0h2m33 0h2m15 0h1M210 852.3h2m12 0h1m12 0h1m4 0h1m9 0h1m4 0h1m4 0h1m23 0h2m10 0h1m4 0h3m2 0h1m15 0h2m6 0h2m3 0h2m7 0h3m5 0h3m5 0h2m1 0h2m10 0h2m8 0h2m11 0h2m15 0h2m1 0h3m9 0h1m7 0h2m5 0h1m18 0h2m2 0h1m18 0h4m16 0h2m5 0h2m3 0h1m2 0h2m6 0h2m5 0h2m6 0h4m1 0h2m1 0h2m8 0h3m15 0h2m7 0h3m15 0h1m7 0h2m8 0h2m21 0h3m9 0h1m3 0h4m15 0h5m14 0h2m12 0h1m17 0h3m22 0h1m12 0h1m4 0h1m17 0h1m17 0h2m10 0h3m8 0h2m5 0h1m5 0h4m8 0h1m9 0h3m18 0h2m5 0h3m7 0h1m5 0h2m3 0h5m28 0h2m3 0h2m8 0h5m5 0h2m23 0h1m12 0h1m13 0h2m7 0h1m2 0h2m14 0h2m2 0h1m4 0h1m2 0h3m30 0h2m3 0h3m2 0h2m24 0h2m2 0h1m12 0h1m2 0h2m5 0h3m10 0h2m1 0h2m8 0h3m7 0h2m6 0h4m77 0h2m20 0h4m4 0h1m2 0h3m40 0h3m4 0h1m2 0h2m45 0h2m7 0h3m48 0h1m7 0h3m2 0h2m3 0h2m8 0h1m7 0h3m22 0h2m26 0h2m1 0h4m15 0h1m4 0h1m3 0h4m8 0h2m21 0h2m25 0h1m22 0h1m10 0h2m26 0h2m2 0h1m2 0h1m12 0h2m1 0h2m2 0h1m13 0h2m3 0h2m7 0h1m30 0h2m8 0h2m5 0h1m22 0h1m22 0h1"/>
<path stroke="#C4A2FF" d="M214 249.9h1m73 0h2m3 0h2m14 0h2m8 0h4m24 0h2m32 0h1m98 0h1m94 0h2m941 0h2M214 290.1h1m5 0h2m3 0h2m15 0h3m23 0h2m31 0h2m15 0h3m30 0h1m10 0h2m38 0h2m46 0h2m26 0h2m87 0h1m904 0h3m18 0h2M262 330.2h1m12 0h1m12 0h2m171 0h2m191 0h2m8 0h2m163 0h2m36 0h2m10 0h1m602 0h1m35 0h3m2 0h2m254 0h2m3 0h2m8 0h2m13 0h1M341 370.4h1m20 0h2m25 0h1m126 0h2m149 0h2m3 0h2m790 0h1m5 0h2M299 410.5h2m64 0h2m30 0h2m184 0h2m5 0h2m9 0h2m17 0h1m175 0h2m3 0h2m541 0h1m244 0h2m10 0h2m14 0h2m144 0h3M232 490.9h1m15 0h2m18 0h2m49 0h2m102 0h2m20 0h2m39 0h2m8 0h2m57 0h2m13 0h2m145 0h3m5 0h2m86 0h1m5 0h2m7 0h1m66 0h2m51 0h2m31 0h2m10 0h1m10 0h2m49 0h1m68 0h2m49 0h2m10 0h1m4 0h1m15 0h2m3 0h2m35 0h1m13 0h2m330 0h2m179 0h2m10 0h2m102 0h2M265 531.0h1m35 0h2m83 0h1m10 0h2m43 0h1m9 0h1m2 0h1m2 0h2m34 0h2m171 0h2m36 0h2m36 0h2m18 0h3m4 0h1m28 0h2m79 0h2m13 0h2m11 0h2m3 0h2m16 0h2m43 0h2m5 0h1m2 0h2m35 0h2m27 0h4m10 0h2m7 0h1m42 0h1m13 0h2m13 0h2m3 0h2m23 0h2m13 0h1m17 0h2m1 0h2m5 0h1m19 0h1m27 0h3m5 0h2m46 0h1m12 0h2m5 0h1m8 0h2m348 0h2m49 0h4m41 0h2m49 0h3M265 571.2h1m57 0h3m26 0h2m23 0h2m206 0h3m20 0h2m31 0h2m11 0h4m1 0h2m440 0h3m32 0h1M237 611.3h1m35 0h3m20 0h2m53 0h1m57 0h1m27 0h1m4 0h1m10 0h2m11 0h2m8 0h2m3 0h2m56 0h2m24 0h2m211 0h2m38 0h1m17 0h1m48 0h2m3 0h2m36 0h2m56 0h2m11 0h2m31 0h1m14 0h3m11 0h2m13 0h2m97 0h2m40 0h1m18 0h2m20 0h1m10 0h2m305 0h2m5 0h1m32 0h3m142 0h2m3 0h2m11 0h2M209 651.5h1m9 0h1m2 0h2m14 0h2m7 0h3m74 0h2m5 0h1m2 0h2m21 0h2m2 0h1m43 0h2m13 0h2m8 0h2m6 0h4m10 0h1m13 0h2m21 0h2m36 0h2m3 0h4m1 0h2m77 0h2m25 0h3m46 0h2m66 0h2m11 0h2m6 0h2m8 0h2m3 0h2m23 0h2m57 0h2m33 0h3m17 0h1m7 0h2m56 0h1m4 0h1m31 0h2m20 0h1m12 0h2m6 0h2m21 0h2m35 0h1m9 0h1m12 0h1m19 0h1m15 0h2m11 0h2m72 0h2m31 0h2m3 0h2m35 0h1m20 0h2m25 0h1m97 0h2m36 0h2m15 0h2m51 0h3m112 0h2m8 0h3m5 0h2m17 0h1m8 0h4m3 0h2m16 0h2m11 0h2m7 0h1m22 0h1M248 691.7h2m145 0h2m2 0h1m50 0h2m6 0h2m156 0h2m3 0h2m51 0h2M210 731.8h2m5 0h3m23 0h2m12 0h1m5 0h2m25 0h1m56 0h2m3 0h2m5 0h2m92 0h2m138 0h2m82 0h2m172 0h1m12 0h1m93 0h2m19 0h4m49 0h1m9 0h1m37 0h1m2 0h2m1 0h2m13 0h2m13 0h2m13 0h1m9 0h3m5 0h2m3 0h1m19 0h1m53 0h2m6 0h2m41 0h2m33 0h2m42 0h2m28 0h2m11 0h2m10 0h2m11 0h1m20 0h2m1 0h2m64 0h4m11 0h2m45 0h1m2 0h2m26 0h2m1 0h2m101 0h1m15 0h4m54 0h2m24 0h2m17 0h1m3 0h2m15 0h2m13 0h1m2 0h2M565 772.0h2m43 0h1m2 0h2m3 0h2m36 0h2m5 0h1m3 0h2m5 0h2m5 0h1m104 0h2m25 0h1m108 0h1m190 0h1m4 0h1m84 0h2m201 0h2m2 0h1m4 0h1M225 812.1h2m13 0h2m5 0h1m9 0h1m4 0h1m40 0h1m20 0h2m15 0h1m4 0h1m113 0h1m9 0h1m244 0h2m5 0h2m74 0h1m14 0h1m45 0h2m8 0h1m9 0h1m9 0h1m7 0h1m10 0h2m20 0h1m14 0h1m4 0h1m294 0h1m2 0h2m4 0h2m2 0h1m2 0h2m71 0h5m21 0h2m39 0h4m10 0h1m130 0h2m45 0h1m79 0h2m3 0h2m78 0h1m13 0h2m31 0h2m12 0h1m18 0h2m43 0h2m11 0h2m5 0h1M212 852.3h3m2 0h2m1 0h2m23 0h2m18 0h3m7 0h3m7 0h1m2 0h2m23 0h1m2 0h2m1 0h2m7 0h1m2 0h1m4 0h1m2 0h2m18 0h2m23 0h3m3 0h4m1 0h2m5 0h2m15 0h1m10 0h2m1 0h2m20 0h1m7 0h2m6 0h4m8 0h3m8 0h2m2 0h1m5 0h2m2 0h1m4 0h1m20 0h3m17 0h1m13 0h2m8 0h2m10 0h2m3 0h2m1 0h3m2 0h2m3 0h2m1 0h4m11 0h2m2 0h1m8 0h2m13 0h2m15 0h1m5 0h2m23 0h2m13 0h2m3 0h2m6 0h3m9 0h5m5 0h1m2 0h2m6 0h2m11 0h2m5 0h2m8 0h3m5 0h5m3 0h2m20 0h3m25 0h2m6 0h3m2 0h2m18 0h2m11 0h2m6 0h4m3 0h2m8 0h1m15 0h2m5 0h2m9 0h4m8 0h3m15 0h2m6 0h2m16 0h2m5 0h1m7 0h2m18 0h1m24 0h1m23 0h2m3 0h2m13 0h2m21 0h5m8 0h2m2 0h1m15 0h2m8 0h2m6 0h4m6 0h2m2 0h1m13 0h2m3 0h2m36 0h2m3 0h2m21 0h4m31 0h2m11 0h2m13 0h2m21 0h2m15 0h1m28 0h2m10 0h1m2 0h2m13 0h1m19 0h1m2 0h1m52 0h1m42 0h1m17 0h2m3 0h2m1 0h2m5 0h1m4 0h1m9 0h3m26 0h2m2 0h1m20 0h2m13 0h2m5 0h1m27 0h1m22 0h1m2 0h2m3 0h2m1 0h2m35 0h1m3 0h4m20 0h3m3 0h3m9 0h1m40 0h2"/>
<path stroke="#D4B9FF" d="M572 209.7h1M232 290.1h1m2 0h3m38 0h4m8 0h2m31 0h2m19 0h2m10 0h2m8 0h1m77 0h3m106 0h1m31 0h2m12 0h1m94 0h2m8 0h2m99 0h1m71 0h2m7 0h1m30 0h2m100 0h2m99 0h1m46 0h2m3 0h2m104 0h2m42 0h2m41 0h2m77 0h2m15 0h1m25 0h2m1 0h2m58 0h2m59 0h2m34 0h2m5 0h2m41 0h2m170 0h1m2 0h1m12 0h2m11 0h2M217 330.2h2m127 0h3m124 0h2m31 0h2m14 0h2m8 0h2m44 0h2m3 0h2m8 0h2m3 0h2m96 0h1m13 0h4m107 0h2m47 0h4m36 0h2m6 0h2m179 0h2m7 0h1m144 0h1m14 0h1m76 0h2m158 0h3m2 0h2m3 0h1m12 0h2m1 0h2m89 0h2m48 0h1m85 0h1m7 0h2m33 0h1m10 0h2m56 0h1m4 0h1M248 370.4h2m10 0h2m19 0h2m96 0h2m222 0h2m320 0h2m8 0h1m549 0h2m246 0h2m1 0h2m54 0h2M405 410.5h2m43 0h2m209 0h2m199 0h2m84 0h2m82 0h1m70 0h1m71 0h2m718 0h1m12 0h1M1030 450.7h3M235 490.9h2m221 0h2m86 0h1m45 0h1m45 0h1m2 0h2m49 0h2m39 0h2m8 0h2m21 0h2m3 0h2m15 0h2m9 0h2m17 0h1m28 0h2m15 0h1m19 0h1m4 0h1m38 0h2m5 0h1m58 0h3m134 0h1m50 0h2m44 0h2m16 0h2m353 0h2m4 0h2m159 0h1M290 531.0h1m12 0h1m9 0h1m837 0h1m60 0h1m4 0h1m38 0h2m34 0h5m22 0h1m85 0h1m5 0h2M296 571.2h2m23 0h2m33 0h1m25 0h2m69 0h2m25 0h1m25 0h2m24 0h2m67 0h2m203 0h2m135 0h2m1 0h2m10 0h2m57 0h2m70 0h2m64 0h2m58 0h2m31 0h2m59 0h5m115 0h3m68 0h2M248 611.3h2m97 0h2m12 0h1m8 0h1m33 0h1m65 0h1m12 0h2m3 0h1m7 0h2m15 0h1m23 0h2m10 0h2m13 0h1m5 0h2m44 0h4m179 0h2m13 0h2m5 0h2m29 0h2m11 0h2m7 0h1m19 0h1m2 0h1m42 0h1m7 0h2m1 0h2m30 0h1m36 0h2m1 0h2m17 0h1m17 0h1m30 0h2m107 0h2m19 0h2m51 0h2m7 0h1m5 0h2m186 0h2m150 0h2m29 0h2M332 651.5h2m75 0h1m55 0h1m19 0h1m15 0h2m196 0h1m12 0h2m36 0h2m3 0h2m42 0h2m12 0h1m86 0h2m53 0h1m51 0h1m27 0h2m15 0h1m74 0h2m76 0h2m34 0h2m3 0h2m2 0h1m17 0h1m7 0h3m37 0h1m18 0h2m8 0h4m1 0h2m184 0h2m17 0h1m4 0h1m7 0h2m100 0h2m5 0h1m9 0h1m32 0h3m2 0h1m4 0h1m66 0h2m21 0h2m45 0h1m10 0h2m10 0h1M222 691.7h2m130 0h2m46 0h2m450 0h2m38 0h1m73 0h1m48 0h2m14 0h2m59 0h2m68 0h1m9 0h1m124 0h2m460 0h2m1 0h2m5 0h3M237 731.8h3m35 0h1m15 0h2m33 0h2m62 0h2m17 0h1m9 0h1m23 0h2m13 0h2m34 0h4m16 0h2m2 0h1m12 0h1m9 0h1m64 0h4m39 0h4m13 0h1m12 0h2m21 0h2m6 0h2m3 0h2m23 0h2m54 0h2m38 0h1m4 0h1m2 0h2m3 0h2m5 0h1m45 0h1m27 0h1m14 0h1m38 0h2m10 0h1m28 0h2m10 0h1m35 0h2m109 0h3m1 0h2m60 0h1m13 0h2m30 0h1m12 0h2m13 0h1m17 0h2m16 0h2m15 0h1m30 0h2m29 0h2m21 0h2m61 0h1m24 0h1m2 0h2m10 0h1m28 0h2m8 0h2m1 0h2m18 0h2m43 0h1m43 0h2m7 0h5m9 0h2m7 0h1m9 0h1m10 0h2m1 0h2m93 0h1m8 0h2m8 0h2m15 0h1M222 772.0h2m33 0h1m41 0h2m25 0h2m24 0h2m40 0h1m27 0h1m35 0h2m28 0h1m91 0h2m49 0h3m58 0h2m16 0h2m5 0h2m28 0h1m25 0h2m13 0h2m59 0h2m16 0h2m61 0h1m7 0h2m10 0h1m69 0h2m51 0h2m5 0h1m4 0h1m3 0h2m2 0h1m25 0h2m175 0h1m30 0h3m71 0h2m147 0h1m33 0h2m117 0h2m8 0h2m66 0h1m9 0h1m9 0h1m20 0h2m26 0h2m3 0h2m11 0h2m21 0h2M286 812.1h2m44 0h2m28 0h2m144 0h1m74 0h2m12 0h1m139 0h3m5 0h2m76 0h1m226 0h2m112 0h1m5 0h2m31 0h2m7 0h1m7 0h1m83 0h2m10 0h3m5 0h1m68 0h2m274 0h1m12 0h1m4 0h1m86 0h2m59 0h2M250 852.3h2m43 0h1m118 0h1m126 0h1m139 0h1m27 0h1m14 0h1m8 0h2m13 0h2m8 0h2m6 0h2m53 0h2m66 0h3m5 0h1m103 0h1m84 0h2m20 0h1m66 0h2m69 0h2m54 0h2m69 0h4m21 0h2m11 0h2m37 0h2m46 0h2m20 0h1m73 0h2m51 0h2m24 0h2m45 0h1m7 0h2m9 0h5m27 0h1m48 0h2m48 0h5m3 0h2m11 0h2m7 0h3"/>
<path stroke="#DCC4FF" d="M404 209.7h1m109 0h2m54 0h2m1 0h2m83 0h1M361 249.9h1m22 0h2m99 0h1m20 0h2m389 0h1M207 290.1h2m20 0h3m1 0h2m5 0h2m3 0h3m5 0h2m7 0h1m8 0h4m5 0h1m18 0h2m2 0h1m9 0h5m10 0h3m10 0h1m39 0h1m10 0h2m10 0h1m4 0h3m3 0h2m6 0h2m13 0h2m15 0h1m4 0h1m7 0h2m15 0h1m33 0h2m1 0h2m5 0h2m23 0h1m9 0h3m1 0h2m2 0h1m4 0h1m10 0h2m30 0h3m28 0h2m5 0h1m28 0h4m9 0h2m2 0h1m35 0h2m5 0h1m10 0h2m3 0h2m6 0h2m13 0h4m34 0h2m2 0h1m51 0h4m1 0h2m2 0h1m12 0h1m52 0h1m67 0h4m3 0h2m1 0h5m14 0h1m2 0h3m17 0h1m28 0h2m13 0h2m3 0h2m20 0h1m131 0h3m31 0h4m33 0h1m28 0h2m8 0h2m8 0h2m32 0h4m3 0h2m9 0h4m8 0h2m11 0h4m3 0h1m4 0h1m9 0h1m2 0h2m24 0h2m8 0h2m15 0h2m11 0h2m6 0h2m7 0h1m38 0h2m16 0h2m17 0h1m2 0h2m1 0h2m71 0h3m20 0h2m1 0h2m5 0h3m2 0h1m12 0h2m13 0h1m14 0h1m48 0h2M219 330.2h1m28 0h2m3 0h2m114 0h1m9 0h2m69 0h2m39 0h2m1 0h2m35 0h1m4 0h1m2 0h2m1 0h2m7 0h1m12 0h1m10 0h2m105 0h2m99 0h2m13 0h1m19 0h3m10 0h1m53 0h2m165 0h1m23 0h2m18 0h2m76 0h1m83 0h1m14 0h1m12 0h1m33 0h2m15 0h2m28 0h1m89 0h2m1 0h2m30 0h1m96 0h4m13 0h1m17 0h2m44 0h2m3 0h2m1 0h4m5 0h1m2 0h3m56 0h2m51 0h2m67 0h2m7 0h1M250 370.4h2m33 0h3m30 0h1m264 0h2m533 0h1m5 0h2m305 0h1m2 0h3m61 0h2m21 0h2m254 0h2m8 0h2m5 0h5M402 410.5h2m3 0h2m56 0h1m198 0h2m31 0h2m89 0h2m69 0h3m63 0h3m17 0h3m20 0h1m78 0h1m18 0h2m25 0h3m5 0h2m1 0h2m40 0h3m8 0h2m43 0h1m162 0h2m11 0h4m50 0h2m40 0h1m410 0h1M1025 450.7h3M270 490.9h1m17 0h2m75 0h4m46 0h2m21 0h2m107 0h2m18 0h1m57 0h1m18 0h2m114 0h2m3 0h1m19 0h1m4 0h1m51 0h2m76 0h2m11 0h2m54 0h2m10 0h1m182 0h1m25 0h3m10 0h2m5 0h1m25 0h2m11 0h2m8 0h2m2 0h1m271 0h1m5 0h2m5 0h2m28 0h1M328 531.0h1m335 0h2m69 0h3m284 0h1m37 0h1m38 0h2m20 0h3m15 0h2m43 0h1m2 0h1m17 0h2m47 0h2m30 0h1m12 0h2m6 0h5m2 0h2m1 0h2m20 0h1m9 0h1m63 0h2M219 571.2h1m15 0h2m54 0h5m7 0h1m37 0h1m2 0h2m8 0h2m1 0h4m25 0h1m5 0h3m9 0h1m12 0h2m42 0h2m15 0h2m33 0h1m10 0h3m9 0h1m7 0h2m29 0h2m5 0h1m9 0h1m20 0h2m24 0h2m10 0h2m11 0h2m72 0h2m15 0h2m14 0h2m51 0h2m16 0h2m33 0h3m2 0h2m76 0h1m12 0h1m7 0h2m19 0h2m79 0h2m34 0h2m20 0h1m56 0h2m3 0h2m7 0h1m294 0h3m15 0h3m33 0h4m19 0h2m31 0h4M227 611.3h2m1 0h5m12 0h1m2 0h8m27 0h1m13 0h2m31 0h2m30 0h1m2 0h2m26 0h2m5 0h2m1 0h4m10 0h1m2 0h1m22 0h2m1 0h2m2 0h1m12 0h1m35 0h2m15 0h3m25 0h3m54 0h2m16 0h2m5 0h2m28 0h1m111 0h3m2 0h1m4 0h1m9 0h3m5 0h1m9 0h3m12 0h1m7 0h3m10 0h2m3 0h2m5 0h1m4 0h1m8 0h2m26 0h5m4 0h3m3 0h2m2 0h1m2 0h2m8 0h1m15 0h2m28 0h2m10 0h3m36 0h1m22 0h2m6 0h2m34 0h2m17 0h1m51 0h2m3 0h2m2 0h1m10 0h2m6 0h2m30 0h1m20 0h2m2 0h1m10 0h3m2 0h3m12 0h2m8 0h1m5 0h2m91 0h1m83 0h3m104 0h2m28 0h1m38 0h2m3 0h2m145 0h3m2 0h2m23 0h2m6 0h2m23 0h2M237 651.5h1m57 0h1m12 0h1m53 0h3m24 0h1m27 0h2m23 0h1m5 0h2m13 0h2m18 0h2m199 0h2m34 0h2m15 0h5m23 0h3m78 0h1m23 0h2m10 0h2m1 0h2m3 0h4m1 0h2m1 0h2m12 0h1m5 0h2m8 0h2m11 0h2m8 0h4m26 0h2m73 0h2m25 0h2m21 0h2m1 0h2m8 0h5m7 0h1m2 0h2m49 0h2m5 0h1m2 0h2m28 0h1m4 0h1m9 0h1m7 0h2m3 0h1m10 0h2m15 0h2m1 0h3m7 0h2m3 0h2m5 0h3m2 0h3m18 0h2m8 0h2m5 0h1m3 0h2m15 0h2m1 0h5m2 0h2m8 0h1m25 0h2m74 0h1m5 0h7m11 0h2m7 0h1m4 0h1m2 0h3m14 0h1m5 0h4m11 0h2m6 0h2m13 0h2m2 0h1m25 0h2m23 0h1m10 0h2m2 0h1m7 0h1m15 0h4m19 0h2m10 0h2m23 0h1m5 0h2m38 0h2m21 0h2m46 0h2m16 0h2m3 0h2m10 0h1M283 691.7h3m104 0h2m17 0h1m2 0h2m46 0h1m9 0h1m324 0h1m101 0h1m68 0h2m133 0h2m186 0h2m5 0h3m373 0h1M207 731.8h2m6 0h2m8 0h5m2 0h1m29 0h1m10 0h2m3 0h2m13 0h2m14 0h2m2 0h1m14 0h1m3 0h2m3 0h2m45 0h2m11 0h2m1 0h2m5 0h2m6 0h4m3 0h1m2 0h2m11 0h2m2 0h1m4 0h1m22 0h1m15 0h2m5 0h1m12 0h2m11 0h3m2 0h2m6 0h2m2 0h3m3 0h4m3 0h2m3 0h1m33 0h2m26 0h2m5 0h2m6 0h2m11 0h2m18 0h2m1 0h4m29 0h2m10 0h3m32 0h1m7 0h2m18 0h1m2 0h2m59 0h2m16 0h2m13 0h2m3 0h2m3 0h2m8 0h2m26 0h2m9 0h2m2 0h1m33 0h2m7 0h1m9 0h1m4 0h1m26 0h2m6 0h2m8 0h2m8 0h2m3 0h2m8 0h2m1 0h4m38 0h1m88 0h1m4 0h5m13 0h1m10 0h2m5 0h7m8 0h1m38 0h2m10 0h2m6 0h2m16 0h2m46 0h2m13 0h3m2 0h3m26 0h2m5 0h3m12 0h1m7 0h2m6 0h4m1 0h4m1 0h4m8 0h1m4 0h1m5 0h2m35 0h1m52 0h1m4 0h1m4 0h1m17 0h3m12 0h3m5 0h3m15 0h2m10 0h3m13 0h2m11 0h5m3 0h5m10 0h2m23 0h2m3 0h2m11 0h2m10 0h1m4 0h1m27 0h1m17 0h2m3 0h2m6 0h2m20 0h1m17 0h1m2 0h3m15 0h2M214 772.0h1m15 0h2m23 0h2m9 0h2m3 0h2m3 0h4m5 0h1m17 0h1m10 0h2m7 0h1m10 0h2m64 0h2m2 0h1m10 0h2m10 0h1m5 0h2m2 0h1m2 0h2m1 0h2m8 0h2m15 0h3m8 0h2m2 0h1m7 0h1m9 0h1m7 0h2m13 0h1m24 0h1m30 0h1m32 0h1m4 0h3m11 0h2m8 0h2m3 0h4m1 0h2m2 0h1m10 0h2m11 0h2m12 0h1m10 0h2m74 0h2m5 0h1m7 0h1m17 0h2m16 0h2m6 0h2m7 0h1m10 0h2m46 0h2m15 0h1m3 0h2m2 0h1m10 0h2m28 0h2m13 0h2m11 0h2m60 0h2m3 0h2m5 0h2m1 0h2m5 0h1m17 0h3m7 0h2m4 0h4m36 0h2m8 0h2m3 0h3m2 0h2m34 0h2m3 0h2m16 0h2m165 0h2m113 0h3m2 0h2m21 0h2m20 0h5m1 0h2m45 0h1m35 0h2m1 0h2m15 0h1m10 0h2m33 0h3m28 0h2m7 0h1m69 0h2m17 0h3m11 0h4m5 0h1m23 0h2M296 812.1h3m2 0h2m1 0h2m23 0h3m24 0h1m93 0h2m64 0h2m52 0h2m15 0h1m7 0h2m1 0h2m79 0h3m5 0h4m26 0h2m5 0h3m198 0h2m31 0h2m28 0h1m66 0h3m2 0h1m91 0h2m46 0h2m6 0h2m15 0h1m5 0h4m18 0h1m27 0h2m92 0h2m293 0h2m11 0h2M215 852.3h2m16 0h4m46 0h2m6 0h2m249 0h4m31 0h1m55 0h1m113 0h1m30 0h2m38 0h3m58 0h1m58 0h2m59 0h2m22 0h2m5 0h2m18 0h2m16 0h2m11 0h2m5 0h1m40 0h2m1 0h2m21 0h2m84 0h2m7 0h1m3 0h2m5 0h2m20 0h1m17 0h1m12 0h2m9 0h2m30 0h3m45 0h3m2 0h1m2 0h3m30 0h4m5 0h4m16 0h2m6 0h2m3 0h5m9 0h1m5 0h4m1 0h2m3 0h2m6 0h2m8 0h2m8 0h2m7 0h1m4 0h3m5 0h2m1 0h2m11 0h2m7 0h1m5 0h2m20 0h3m15 0h1m5 0h2m3 0h2m25 0h1m9 0h1m9 0h1m2 0h2m6 0h5m8 0h2m3 0h2m46 0h2m8 0h2m6 0h2m3 0h2m15 0h1m7 0h3m18 0h2m7 0h5m18 0h1m20 0h2"/>
<path stroke="#E3D0FF" d="M389 209.7h1m12 0h2m8 0h2m99 0h1m20 0h2m127 0h3M212 249.9h2m13 0h2m33 0h1m22 0h1m25 0h2m49 0h2m6 0h1m15 0h1m111 0h1m9 0h1M210 290.1h4m1 0h2m10 0h2m21 0h2m11 0h2m1 0h2m2 0h1m22 0h3m10 0h2m1 0h4m11 0h2m8 0h2m20 0h1m4 0h1m7 0h1m25 0h2m2 0h1m5 0h2m7 0h1m2 0h6m22 0h2m9 0h4m3 0h3m7 0h3m17 0h1m9 0h1m17 0h1m10 0h2m18 0h2m16 0h2m3 0h2m15 0h1m50 0h1m5 0h2m16 0h2m27 0h1m2 0h1m57 0h1m15 0h2m10 0h1m15 0h2m54 0h2m38 0h1m5 0h2m15 0h3m10 0h3m83 0h3m23 0h2m13 0h5m3 0h3m2 0h2m1 0h2m2 0h1m5 0h3m27 0h2m11 0h2m168 0h3m17 0h1m65 0h1m14 0h1m2 0h3m21 0h2m8 0h2m8 0h2m8 0h2m1 0h2m7 0h1m9 0h3m13 0h2m5 0h1m32 0h1m25 0h2m13 0h2m10 0h1m30 0h2m3 0h2m1 0h2m3 0h2m16 0h2m2 0h1m9 0h1m2 0h2m41 0h1m52 0h1m10 0h2m11 0h2m45 0h1m5 0h2m20 0h5m6 0h3M232 330.2h1m22 0h2m47 0h2m35 0h1m28 0h1m21 0h3m45 0h2m3 0h5m43 0h1m14 0h1m4 0h1m12 0h3m8 0h2m2 0h1m2 0h5m36 0h2m3 0h2m8 0h1m10 0h2m3 0h2m35 0h1m30 0h2m99 0h1m9 0h1m18 0h2m10 0h3m61 0h2m11 0h2m142 0h1m40 0h1m20 0h2m3 0h4m188 0h3m10 0h1m9 0h1m5 0h2m12 0h3m5 0h1m12 0h2m83 0h2m30 0h1m20 0h2m83 0h1m9 0h3m8 0h2m84 0h2m21 0h2m10 0h1m2 0h1m33 0h2m3 0h2m35 0h1m53 0h2M247 370.4h1m71 0h2m21 0h2m7 0h1m25 0h2m104 0h2m1 0h2m76 0h1m28 0h2m231 0h2m99 0h1m3 0h4m186 0h1m4 0h1m310 0h2m43 0h1m17 0h2m13 0h1m4 0h1m7 0h2m6 0h2m180 0h2m8 0h2m23 0h1m20 0h2m95 0h2M359 410.5h2m76 0h1m5 0h2m165 0h1m246 0h2m64 0h2m127 0h1m15 0h3m2 0h2m3 0h2m47 0h2m30 0h3m7 0h1m89 0h2m229 0h2m3 0h2m383 0h1M1015 450.7h2m3 0h3M209 490.9h1m66 0h2m131 0h1m30 0h3m65 0h1m9 0h1m7 0h1m22 0h2m31 0h1m10 0h2m6 0h2m8 0h2m3 0h2m5 0h2m9 0h2m3 0h2m43 0h2m41 0h2m39 0h2m38 0h3m20 0h1m5 0h2m7 0h1m27 0h1m32 0h3m21 0h2m35 0h1m38 0h1m15 0h2m8 0h2m5 0h2m59 0h2m16 0h2m67 0h2m13 0h2m16 0h2m8 0h4m5 0h1m30 0h5m275 0h4m5 0h1m5 0h2M286 531.0h2m21 0h4m5 0h1m350 0h2m48 0h1m13 0h2m414 0h2m127 0h1m18 0h2m2 0h1m30 0h2m6 0h4m1 0h2m3 0h2M222 571.2h2m14 0h2m20 0h2m6 0h2m114 0h2m9 0h9m3 0h2m24 0h2m10 0h2m19 0h2m13 0h2m2 0h1m5 0h2m29 0h2m7 0h1m2 0h2m10 0h1m17 0h3m13 0h2m13 0h2m3 0h1m14 0h1m9 0h1m4 0h1m2 0h1m15 0h2m23 0h2m6 0h2m53 0h1m114 0h2m2 0h1m4 0h1m13 0h2m7 0h1m4 0h1m94 0h2m33 0h1m18 0h2m25 0h1m7 0h3m9 0h1m2 0h1m32 0h1m9 0h3m5 0h2m19 0h2m43 0h2m74 0h3m18 0h2m176 0h2m68 0h1m23 0h2m17 0h1M207 611.3h3m55 0h1m12 0h3m22 0h1m27 0h1m27 0h2m1 0h2m5 0h1m42 0h5m3 0h2m1 0h2m2 0h1m22 0h2m4 0h2m5 0h2m51 0h2m6 0h2m71 0h3m6 0h2m12 0h1m2 0h2m148 0h2m13 0h2m6 0h2m18 0h2m6 0h2m11 0h2m3 0h2m28 0h2m1 0h2m2 0h1m12 0h2m47 0h2m12 0h1m8 0h4m33 0h1m5 0h1m17 0h2m1 0h2m25 0h3m23 0h2m6 0h2m2 0h1m12 0h2m3 0h2m1 0h2m5 0h1m42 0h1m12 0h2m3 0h3m20 0h2m1 0h2m2 0h1m41 0h4m1 0h2m12 0h1m5 0h2m6 0h2m274 0h2m1 0h2m11 0h2m18 0h7m8 0h2m15 0h3m25 0h1m99 0h2m26 0h2m12 0h1m3 0h2m2 0h1m4 0h5m3 0h3m2 0h2m6 0h2m13 0h2m10 0h1M293 651.5h2m14 0h2m2 0h1m15 0h2m48 0h2m9 0h2m20 0h2m9 0h2m18 0h2m46 0h2m11 0h2m8 0h2m171 0h2m35 0h1m10 0h2m5 0h1m4 0h3m12 0h3m5 0h1m4 0h1m7 0h2m3 0h2m11 0h3m5 0h4m29 0h2m7 0h1m25 0h3m14 0h1m2 0h1m7 0h2m1 0h2m3 0h2m12 0h1m33 0h2m5 0h3m2 0h3m3 0h2m3 0h2m8 0h2m54 0h2m39 0h2m15 0h1m17 0h1m2 0h2m1 0h2m2 0h3m48 0h5m1 0h2m3 0h2m3 0h2m12 0h4m2 0h2m3 0h2m5 0h1m7 0h3m23 0h2m8 0h2m10 0h1m4 0h1m5 0h2m15 0h1m2 0h2m10 0h1m9 0h1m23 0h2m15 0h1m7 0h2m3 0h2m1 0h2m10 0h2m67 0h1m30 0h2m6 0h4m3 0h2m23 0h2m6 0h2m36 0h2m3 0h2m20 0h3m5 0h2m8 0h1m17 0h2m11 0h2m8 0h2m6 0h2m23 0h2m24 0h4m43 0h1m4 0h1m2 0h2m85 0h2m3 0h2M392 691.7h2m6 0h2m5 0h2m77 0h2m28 0h2m164 0h2m155 0h2m39 0h2m74 0h2m69 0h1m55 0h2m14 0h2m18 0h2m10 0h1m22 0h1m45 0h2m5 0h1m338 0h2m15 0h2m18 0h1m30 0h2m142 0h3m2 0h1m4 0h1M214 731.8h1m7 0h3m55 0h3m5 0h2m8 0h1m5 0h2m2 0h1m2 0h2m1 0h2m7 0h3m5 0h1m7 0h2m8 0h3m4 0h1m8 0h2m15 0h2m10 0h1m4 0h1m5 0h2m5 0h2m9 0h2m10 0h3m12 0h2m8 0h5m3 0h2m3 0h2m1 0h4m3 0h3m22 0h1m17 0h1m2 0h2m3 0h2m3 0h2m5 0h1m51 0h2m1 0h2m22 0h1m7 0h1m2 0h2m23 0h2m9 0h2m2 0h1m12 0h2m8 0h1m17 0h3m71 0h4m9 0h4m6 0h2m12 0h1m8 0h2m7 0h1m22 0h1m5 0h2m2 0h1m14 0h1m2 0h1m2 0h2m3 0h2m3 0h2m1 0h4m5 0h1m13 0h2m3 0h4m5 0h5m13 0h1m17 0h2m1 0h2m13 0h2m11 0h3m23 0h4m9 0h2m17 0h1m15 0h2m41 0h2m28 0h1m15 0h2m25 0h1m5 0h4m13 0h1m35 0h2m23 0h1m14 0h1m9 0h1m27 0h1m40 0h1m4 0h1m15 0h2m34 0h2m2 0h1m8 0h2m12 0h1m20 0h2m11 0h5m4 0h4m4 0h5m1 0h5m14 0h5m10 0h1m2 0h2m3 0h3m3 0h2m10 0h2m1 0h4m3 0h2m5 0h1m22 0h1m2 0h2m11 0h3m4 0h1m14 0h1m2 0h2m18 0h1m4 0h1m12 0h1m7 0h2m5 0h1m14 0h3m3 0h2m13 0h2m44 0h2m3 0h2m1 0h2m7 0h1m4 0h3m8 0h2m16 0h2m10 0h2m14 0h2m12 0h1M207 772.0h2m33 0h1m5 0h2m74 0h2m33 0h3m24 0h1m8 0h2m17 0h1m4 0h3m39 0h2m2 0h1m61 0h2m48 0h1m9 0h1m5 0h2m44 0h2m78 0h3m10 0h1m60 0h2m14 0h4m1 0h2m13 0h2m5 0h1m9 0h1m9 0h1m4 0h1m8 0h2m3 0h4m26 0h2m29 0h2m2 0h1m114 0h3m12 0h1m12 0h2m1 0h2m3 0h2m1 0h2m7 0h1m5 0h2m15 0h1m24 0h1m2 0h1m15 0h2m41 0h2m2 0h1m2 0h1m50 0h3m7 0h2m28 0h1m27 0h1m46 0h2m28 0h2m128 0h2m8 0h2m3 0h2m51 0h2m15 0h1m25 0h2m29 0h2m48 0h1m53 0h2m2 0h1m7 0h5m5 0h1m14 0h1m5 0h2m3 0h5m25 0h1m10 0h4m21 0h2M245 812.1h2m5 0h1m38 0h2m26 0h2m13 0h2m8 0h2m6 0h2m89 0h2m10 0h1m70 0h1m86 0h2m89 0h1m2 0h2m20 0h3m3 0h2m145 0h2m14 0h2m10 0h2m74 0h2m18 0h2m14 0h1m25 0h2m2 0h1m56 0h2m3 0h2m8 0h3m20 0h2m53 0h1m4 0h1m9 0h1m33 0h2m25 0h3m8 0h3m35 0h2m15 0h1m18 0h2m41 0h2m2 0h1m5 0h2m267 0h2m81 0h4m25 0h4m19 0h2m12 0h1m10 0h2M238 852.3h2m7 0h3m18 0h2m10 0h1m30 0h2m5 0h1m106 0h2m18 0h2m31 0h2m71 0h1m21 0h2m66 0h2m36 0h2m1 0h2m20 0h1m5 0h4m15 0h1m5 0h2m16 0h2m79 0h3m12 0h2m84 0h1m50 0h2m75 0h2m6 0h2m45 0h3m36 0h2m76 0h1m2 0h2m3 0h2m11 0h5m12 0h1m5 0h2m3 0h2m18 0h2m3 0h3m25 0h2m5 0h1m8 0h4m31 0h2m26 0h2m34 0h2m11 0h2m3 0h2m35 0h1m8 0h2m3 0h2m7 0h1m19 0h1m5 0h4m3 0h2m5 0h1m12 0h1m2 0h2m24 0h2m10 0h2m3 0h2m13 0h1m4 0h1m10 0h2m16 0h2m2 0h1m2 0h2m1 0h2m8 0h2m5 0h3m8 0h2m15 0h2m14 0h2m17 0h3m23 0h3m5 0h2m34 0h4m16 0h2m8 0h2m20 0h1m2 0h3m2 0h2"/>
<path stroke="#EBDCFF" d="M496 209.7h2m79 0h1m14 0h1M225 249.9h2m63 0h1m10 0h2m180 0h2m4 0h2m398 0h1M217 290.1h3m2 0h3m13 0h2m25 0h1m24 0h3m15 0h1m14 0h1m2 0h2m19 0h2m3 0h2m11 0h2m3 0h1m19 0h2m5 0h2m13 0h2m23 0h1m2 0h2m24 0h2m12 0h1m17 0h1m7 0h2m10 0h1m12 0h1m4 0h1m7 0h7m4 0h2m23 0h3m22 0h1m35 0h2m95 0h2m137 0h2m38 0h1m28 0h2m74 0h1m4 0h3m10 0h2m1 0h2m13 0h2m11 0h2m33 0h3m35 0h2m21 0h2m3 0h2m137 0h1m5 0h2m8 0h2m28 0h1m83 0h1m2 0h2m52 0h2m7 0h1m10 0h2m10 0h1m90 0h1m4 0h1m4 0h1m2 0h2m11 0h2m11 0h2m7 0h1m2 0h1m52 0h1m10 0h2m3 0h2m26 0h2m10 0h3m33 0h2m52 0h2m3 0h2m12 0h1M230 330.2h2m6 0h2m12 0h1m68 0h2m42 0h2m10 0h2m84 0h2m24 0h2m25 0h2m36 0h1m32 0h1m27 0h1m5 0h2m28 0h2m13 0h1m136 0h1m9 0h1m2 0h2m95 0h5m2 0h2m118 0h2m3 0h2m42 0h2m10 0h2m23 0h1m139 0h2m84 0h1m20 0h2m59 0h2m18 0h1m38 0h2m30 0h1m83 0h3m9 0h1m73 0h2m42 0h2m27 0h3m34 0h2m76 0h2M283 370.4h2m8 0h2m137 0h1m154 0h1m241 0h2m97 0h2m583 0h2m1 0h2m86 0h2m148 0h2m23 0h2M452 410.5h1m175 0h2m33 0h1m126 0h1m17 0h1m119 0h2m8 0h2m18 0h2m90 0h2m13 0h1m174 0h1m122 0h2m72 0h4m52 0h2m79 0h2M1017 450.7h2m4 0h2M215 490.9h4m6 0h2m6 0h2m3 0h2m13 0h4m29 0h2m188 0h2m117 0h2m3 0h1m9 0h1m15 0h2m8 0h2m5 0h1m43 0h2m40 0h1m56 0h2m33 0h2m89 0h1m17 0h1m57 0h1m64 0h2m10 0h1m33 0h2m25 0h1m2 0h2m87 0h2m21 0h2m2 0h1m2 0h2m11 0h2m302 0h1m5 0h2M319 531.0h2m389 0h2m473 0h2m6 0h2m109 0h2m102 0h2M227 571.2h2m16 0h2m6 0h2m11 0h2m81 0h3m15 0h2m36 0h2m8 0h2m2 0h3m28 0h2m3 0h1m4 0h1m2 0h2m21 0h2m79 0h1m29 0h1m23 0h2m8 0h2m86 0h1m5 0h4m62 0h2m64 0h2m13 0h3m10 0h2m25 0h1m17 0h1m14 0h1m47 0h1m2 0h1m46 0h2m21 0h2m10 0h2m31 0h2m9 0h4m49 0h2m25 0h1m7 0h2m34 0h2m184 0h2m7 0h1m116 0h2M346 611.3h1m18 0h2m32 0h3m8 0h2m13 0h2m1 0h2m74 0h2m23 0h2m37 0h2m55 0h3m31 0h2m124 0h3m5 0h2m44 0h3m4 0h3m2 0h1m28 0h2m33 0h2m16 0h2m23 0h2m3 0h1m17 0h2m19 0h2m18 0h1m40 0h2m1 0h2m2 0h5m5 0h1m7 0h1m14 0h1m4 0h1m7 0h2m51 0h1m9 0h3m10 0h1m22 0h2m9 0h2m48 0h2m18 0h1m2 0h3m78 0h2m97 0h1m118 0h1m55 0h1m103 0h1m15 0h2m61 0h3m12 0h1m7 0h2M225 651.5h2m58 0h1m4 0h1m20 0h2m54 0h2m23 0h2m5 0h1m4 0h1m9 0h1m43 0h2m26 0h2m15 0h1m185 0h2m6 0h2m11 0h2m2 0h3m5 0h2m3 0h2m14 0h4m6 0h2m2 0h1m27 0h1m7 0h2m9 0h2m22 0h3m18 0h2m5 0h3m3 0h2m8 0h2m10 0h1m18 0h2m2 0h1m2 0h2m10 0h1m2 0h2m4 0h2m3 0h2m38 0h3m17 0h3m20 0h1m28 0h2m130 0h2m49 0h4m31 0h2m3 0h2m10 0h1m17 0h1m2 0h2m8 0h2m1 0h2m8 0h2m1 0h2m7 0h1m12 0h1m2 0h2m3 0h2m10 0h1m5 0h2m6 0h2m8 0h2m2 0h1m10 0h2m62 0h2m6 0h4m6 0h2m20 0h1m2 0h2m11 0h2m18 0h2m43 0h2m8 0h1m22 0h2m11 0h2m11 0h2m10 0h3m8 0h2m12 0h1m20 0h2m11 0h2m59 0h2m15 0h1m63 0h3m2 0h3m17 0h2M286 691.7h2m68 0h1m30 0h3m71 0h2m5 0h2m66 0h1m147 0h2m212 0h2m64 0h2m59 0h2m48 0h1m45 0h1m58 0h2m5 0h3m579 0h2M212 731.8h2m6 0h2m8 0h2m3 0h2m28 0h3m35 0h1m15 0h4m6 0h2m5 0h1m40 0h5m4 0h4m2 0h2m16 0h2m16 0h2m3 0h2m5 0h2m3 0h2m19 0h2m3 0h2m15 0h1m2 0h2m23 0h2m9 0h2m18 0h2m2 0h1m16 0h2m30 0h1m12 0h2m11 0h2m2 0h1m12 0h1m53 0h2m5 0h1m47 0h1m5 0h2m6 0h4m1 0h2m10 0h2m5 0h1m4 0h1m56 0h2m44 0h2m8 0h2m15 0h2m1 0h2m3 0h2m3 0h3m5 0h4m16 0h2m5 0h1m2 0h2m5 0h1m15 0h2m1 0h2m36 0h2m23 0h1m4 0h3m15 0h3m74 0h2m15 0h2m6 0h2m1 0h4m1 0h2m21 0h2m12 0h1m15 0h2m41 0h2m15 0h1m15 0h2m3 0h3m48 0h2m6 0h2m23 0h2m14 0h2m10 0h2m6 0h2m5 0h1m4 0h1m28 0h2m56 0h2m8 0h2m61 0h2m19 0h4m1 0h2m8 0h2m11 0h2m8 0h2m5 0h2m1 0h2m8 0h2m6 0h2m40 0h1m7 0h2m21 0h5m8 0h2m5 0h1m17 0h2m6 0h2m18 0h2m52 0h2M232 772.0h1m12 0h2m104 0h1m40 0h2m11 0h2m79 0h2m25 0h1m33 0h2m24 0h4m61 0h1m4 0h1m4 0h1m12 0h2m26 0h2m21 0h2m31 0h2m24 0h2m12 0h1m32 0h1m28 0h2m3 0h2m15 0h1m30 0h3m20 0h4m1 0h2m38 0h1m58 0h1m25 0h2m8 0h3m10 0h2m21 0h2m3 0h2m8 0h2m5 0h1m43 0h2m17 0h1m7 0h1m17 0h3m8 0h2m56 0h2m235 0h2m8 0h2m20 0h2m31 0h2m13 0h2m13 0h1m170 0h2m18 0h2m33 0h1m10 0h2m15 0h2m11 0h2M308 812.1h1m40 0h2m18 0h1m75 0h2m6 0h2m10 0h1m116 0h1m43 0h2m58 0h1m18 0h2m20 0h2m95 0h2m54 0h2m94 0h2m1 0h2m39 0h2m49 0h2m40 0h1m8 0h2m13 0h2m66 0h2m3 0h2m9 0h2m12 0h1m58 0h2m62 0h2m307 0h2m3 0h1m4 0h1m83 0h2m74 0h1m9 0h3M225 852.3h2m46 0h2m181 0h2m186 0h2m38 0h2m29 0h2m10 0h2m11 0h2m49 0h2m58 0h1m25 0h2m110 0h2m41 0h1m4 0h1m93 0h1m104 0h2m2 0h1m7 0h2m3 0h1m9 0h1m7 0h2m8 0h2m3 0h1m19 0h1m5 0h2m35 0h1m36 0h2m3 0h2m2 0h3m3 0h4m21 0h1m4 0h1m2 0h2m18 0h1m12 0h3m23 0h2m33 0h2m35 0h1m86 0h2m8 0h2m1 0h2m51 0h2m5 0h1m50 0h1m4 0h1m17 0h2m24 0h2m15 0h1m22 0h2m9 0h2m3 0h4"/>
<path stroke="#F8F3FF" d="M243 209.7h2m45 0h1m213 0h2m46 0h2m54 0h2m59 0h2m18 0h2m110 0h2m16 0h4m72 0h2m66 0h1m2 0h2m77 0h2m74 0h1m40 0h2m21 0h2m15 0h1m12 0h2m156 0h2m33 0h2m73 0h2m15 0h2m11 0h2m74 0h2m2 0h1m15 0h2m127 0h1m58 0h2m91 0h1M299 249.9h2m15 0h2m13 0h1m101 0h2m7 0h3m140 0h2M377 290.1h4m6 0h2m41 0h2m92 0h2m1 0h2m13 0h2m46 0h2m6 0h2m1 0h4m3 0h2m13 0h2m1 0h2m6 0h2m20 0h2m8 0h1m9 0h3m18 0h2m6 0h4m1 0h4m5 0h1m12 0h1m9 0h1m5 0h2m3 0h4m23 0h1m12 0h2m28 0h1m13 0h2m8 0h2m2 0h3m10 0h1m7 0h2m21 0h2m3 0h2m3 0h2m3 0h2m16 0h2m13 0h2m3 0h3m13 0h2m2 0h1m7 0h2m3 0h3m4 0h1m64 0h2m34 0h2m3 0h2m18 0h2m11 0h2m7 0h1m40 0h2m67 0h2m11 0h2m12 0h1m17 0h1m10 0h2m2 0h1m2 0h2m19 0h5m4 0h1m4 0h1m5 0h2m8 0h2m3 0h2m49 0h2m8 0h1m2 0h2m5 0h1m9 0h1m104 0h2m3 0h2m2 0h1m2 0h2m5 0h1m2 0h1m27 0h2m1 0h2m51 0h2m14 0h2m22 0h1m37 0h1m32 0h1m17 0h1m23 0h2m2 0h1m9 0h1m13 0h2m7 0h3m7 0h1m30 0h2M215 330.2h2m5 0h2m1 0h2m54 0h2m8 0h2m30 0h1m25 0h2m5 0h5m48 0h1m4 0h1m2 0h2m19 0h2m61 0h2m115 0h2m29 0h2m38 0h2m102 0h2m4 0h2m3 0h5m15 0h2m8 0h2m3 0h2m48 0h1m10 0h2m3 0h2m151 0h2m8 0h5m7 0h1m10 0h2m10 0h1m55 0h3m23 0h3m95 0h1m3 0h2m33 0h2m6 0h2m26 0h2m5 0h2m1 0h2m56 0h1m58 0h2m13 0h2m94 0h2m28 0h1m13 0h2m2 0h3m7 0h5m14 0h2m23 0h2m97 0h2m5 0h1M263 370.4h2m43 0h1m7 0h2m34 0h5m66 0h2m2 0h1m60 0h1m17 0h2m28 0h1m287 0h2m2 0h1m5 0h2m94 0h1m544 0h4m4 0h2m144 0h2M352 410.5h2m7 0h1m7 0h1m9 0h2m97 0h2m258 0h2m25 0h1m2 0h2m6 0h4m3 0h2m14 0h2m18 0h2m73 0h1m58 0h2m51 0h1m78 0h1m40 0h1m103 0h1m290 0h2m25 0h2m165 0h1m7 0h2m72 0h4m1 0h2m16 0h2m7 0h1m28 0h2m28 0h3m5 0h2M240 450.7h2m6 0h2m30 0h5m6 0h4m64 0h2m4 0h2m10 0h4m33 0h1m2 0h2m6 0h5m22 0h3m3 0h2m20 0h1m12 0h3m3 0h2m21 0h2m13 0h2m15 0h1m15 0h2m26 0h2m6 0h2m31 0h2m20 0h2m21 0h3m56 0h2m111 0h1m60 0h1m9 0h1m3 0h2m15 0h2m14 0h2m17 0h1m20 0h2m27 0h2m15 0h2m9 0h4m10 0h1m9 0h1m7 0h1m20 0h2m35 0h1m40 0h1m12 0h2m1 0h2m2 0h1m10 0h2m13 0h2m39 0h2m3 0h2m5 0h3m17 0h1m2 0h5m1 0h4m16 0h2m13 0h2m6 0h2m3 0h2m41 0h2m72 0h2m43 0h3m43 0h3m20 0h2m18 0h2m10 0h1m23 0h2m45 0h1m32 0h1m35 0h1m37 0h1m53 0h2M207 490.9h2m1 0h2m40 0h1m12 0h1m15 0h2m12 0h1m103 0h1m5 0h2m3 0h2m2 0h1m53 0h3m48 0h2m76 0h1m20 0h2m11 0h3m22 0h3m38 0h2m15 0h1m80 0h1m7 0h1m22 0h2m13 0h1m7 0h5m26 0h2m5 0h2m3 0h2m29 0h2m33 0h2m37 0h2m7 0h1m99 0h2m39 0h2m10 0h1m35 0h2m46 0h2m52 0h2m15 0h2m3 0h1m12 0h2m19 0h2m22 0h1m38 0h2m14 0h2m73 0h1m246 0h2M288 531.0h2m26 0h2M247 571.2h1m33 0h2m2 0h1m20 0h2m10 0h1m28 0h2m16 0h2m23 0h2m64 0h2m114 0h1m33 0h2m3 0h2m21 0h2m41 0h4m31 0h2m87 0h3m45 0h2m47 0h2m3 0h2m8 0h2m48 0h1m4 0h1m28 0h2m7 0h1m45 0h1m3 0h4m26 0h2m41 0h2m56 0h1m30 0h2m18 0h2m18 0h1m14 0h3m13 0h2m1 0h2m180 0h1m95 0h3m10 0h1m5 0h4m59 0h2m54 0h3m93 0h1m73 0h2m23 0h1M417 611.3h2m13 0h1m7 0h2m158 0h1m10 0h4m82 0h2m6 0h2m88 0h1m17 0h1m15 0h2m3 0h2m26 0h2m23 0h2m42 0h2m12 0h1m14 0h1m30 0h2m3 0h1m9 0h1m97 0h2m31 0h2m5 0h2m64 0h2m29 0h2m43 0h1m206 0h2m142 0h2m160 0h2m11 0h2m6 0h2M384 651.5h2m339 0h2m25 0h1m290 0h2m292 0h2m24 0h2m62 0h2m50 0h1m8 0h2m7 0h1m12 0h2m193 0h1m29 0h1m116 0h1m42 0h1m5 0h2m5 0h1M229 691.7h1m175 0h2m3 0h2m661 0h2m3 0h2m9 0h2m177 0h1m5 0h2m26 0h2M395 731.8h2m116 0h1m8 0h2m28 0h2m105 0h2m25 0h1m9 0h1m91 0h2m23 0h1M243 772.0h2m51 0h2m15 0h1m15 0h2m8 0h2m3 0h2m21 0h3m47 0h2m28 0h1m12 0h1m14 0h1m15 0h2m3 0h3m5 0h4m1 0h2m11 0h2m5 0h3m9 0h3m2 0h1m5 0h2m10 0h1m7 0h1m19 0h1m2 0h2m6 0h2m95 0h2m22 0h1m2 0h2m79 0h1m14 0h1m33 0h4m19 0h2m3 0h2m2 0h3m6 0h2m12 0h1m32 0h1m7 0h2m26 0h2m6 0h2m2 0h1m25 0h1m3 0h2m10 0h3m9 0h3m82 0h2m7 0h1m4 0h1m8 0h7m28 0h2m6 0h2m2 0h1m75 0h1m71 0h2m15 0h1m74 0h2m8 0h2m39 0h2m41 0h2m7 0h1m37 0h1m23 0h2m8 0h4m31 0h3m32 0h1m38 0h2m25 0h1m10 0h4m1 0h2m39 0h2m7 0h1m5 0h2m18 0h2m39 0h2m5 0h2M672 812.1h2m59 0h2m5 0h2m51 0h2m372 0h2"/>
<path stroke="#FFFFFF" d="M217 209.7h2m16 0h2m44 0h2m3 0h4m8 0h1m4 0h5m233 0h1m74 0h4m6 0h2m13 0h2m23 0h1m81 0h2m15 0h1m33 0h2m97 0h2m88 0h1m8 0h2m36 0h2m13 0h2m18 0h1m51 0h2m30 0h1m5 0h2m41 0h2m12 0h1m46 0h2m3 0h2m35 0h1m7 0h2m189 0h2m5 0h1m94 0h2m22 0h1m20 0h2m69 0h2m107 0h2m4 0h2m46 0h4m3 0h2m1 0h2M224 249.9h1m114 0h2m132 0h2m34 0h2m53 0h1m12 0h1M384 290.1h2m46 0h1m2 0h2m15 0h1m8 0h2m63 0h1m7 0h2m1 0h2m2 0h1m45 0h1m25 0h2m16 0h2m20 0h1m20 0h2m15 0h1m28 0h2m2 0h3m16 0h2m5 0h2m10 0h1m15 0h2m11 0h2m5 0h1m10 0h2m20 0h3m2 0h1m2 0h2m5 0h1m18 0h2m3 0h2m7 0h1m12 0h2m29 0h2m6 0h2m7 0h1m10 0h4m1 0h2m3 0h3m14 0h1m5 0h4m1 0h5m3 0h2m51 0h2m26 0h2m3 0h2m11 0h2m5 0h1m9 0h1m12 0h1m7 0h2m5 0h1m5 0h2m3 0h3m80 0h1m22 0h1m12 0h2m1 0h2m10 0h1m5 0h2m3 0h2m5 0h2m18 0h1m20 0h2m6 0h2m3 0h2m7 0h5m3 0h2m9 0h2m3 0h2m17 0h1m20 0h1m17 0h1m121 0h2m16 0h2m12 0h1m2 0h3m5 0h2m21 0h2m5 0h1m25 0h2m3 0h2m8 0h2m1 0h2m3 0h2m20 0h1m7 0h2m52 0h4m10 0h1m23 0h2m33 0h2m6 0h4m23 0h3M240 330.2h3m2 0h3m45 0h5m18 0h2m10 0h3m8 0h2m13 0h2m77 0h2m31 0h2m17 0h3m15 0h1m30 0h2m19 0h2m35 0h1m2 0h3m25 0h3m18 0h2m2 0h1m9 0h1m20 0h3m32 0h1m75 0h3m3 0h2m13 0h2m10 0h1m30 0h3m12 0h1m37 0h3m50 0h1m13 0h2m21 0h2m16 0h2m2 0h1m22 0h3m3 0h4m1 0h3m4 0h1m5 0h2m7 0h1m2 0h2m13 0h1m4 0h1m5 0h4m49 0h2m11 0h2m16 0h2m48 0h3m43 0h2m3 0h3m17 0h2m28 0h1m7 0h2m11 0h5m17 0h6m2 0h1m36 0h4m1 0h2m36 0h2m8 0h2m81 0h2m66 0h1m10 0h2m16 0h2m2 0h1m4 0h1m7 0h1m10 0h2m3 0h2m68 0h3m25 0h1m7 0h2m41 0h3m33 0h2M240 370.4h3m10 0h2m3 0h2m38 0h1m10 0h2m50 0h1m63 0h2m54 0h2m25 0h5m21 0h2m44 0h2m3 0h2m236 0h1m7 0h3m2 0h3m201 0h2m69 0h2m6 0h2m1 0h2m356 0h2m145 0h2m2 0h5M351 410.5h1m2 0h2m48 0h1m33 0h2m51 0h2m75 0h2m3 0h2m50 0h1m50 0h1m55 0h1m14 0h1m4 0h1m2 0h2m9 0h2m2 0h1m15 0h2m5 0h3m10 0h2m87 0h2m92 0h2m51 0h1m17 0h1m2 0h2m105 0h2m12 0h3m71 0h1m58 0h2m43 0h1m23 0h4m25 0h1m110 0h2m22 0h1m37 0h1m122 0h2m13 0h4m3 0h2m87 0h2m62 0h2m10 0h2m4 0h4M207 450.7h2m1 0h2m20 0h1m27 0h2m1 0h2m21 0h2m53 0h1m2 0h2m6 0h2m15 0h2m18 0h1m5 0h2m5 0h3m2 0h3m9 0h1m2 0h3m20 0h2m3 0h2m13 0h1m20 0h5m7 0h1m2 0h2m3 0h2m6 0h2m11 0h2m2 0h1m10 0h4m5 0h3m1 0h2m38 0h3m22 0h1m20 0h2m38 0h1m27 0h1m2 0h2m5 0h5m26 0h2m8 0h2m11 0h3m35 0h2m28 0h1m17 0h2m26 0h2m14 0h2m2 0h1m2 0h2m8 0h2m3 0h2m1 0h2m33 0h1m7 0h2m29 0h2m69 0h2m3 0h2m11 0h2m6 0h2m33 0h2m16 0h2m33 0h1m15 0h2m5 0h2m9 0h2m27 0h1m12 0h1m17 0h2m6 0h2m6 0h2m7 0h3m15 0h3m12 0h1m13 0h2m3 0h4m8 0h2m38 0h1m4 0h1m26 0h2m71 0h1m42 0h3m27 0h1m40 0h2m11 0h2m8 0h2m62 0h2m8 0h4m42 0h2m30 0h1m2 0h2m15 0h1m9 0h1m22 0h3m21 0h2M212 490.9h2m6 0h4m5 0h1m30 0h2m107 0h2m26 0h2m13 0h2m23 0h1m66 0h4m5 0h1m15 0h5m5 0h2m23 0h3m23 0h2m6 0h2m3 0h2m15 0h3m7 0h1m50 0h1m7 0h3m32 0h1m45 0h1m45 0h2m26 0h2m11 0h2m10 0h1m12 0h2m16 0h2m53 0h1m13 0h2m12 0h1m15 0h2m16 0h3m8 0h4m61 0h1m4 0h1m10 0h2m3 0h2m25 0h1m2 0h2m14 0h2m7 0h1m2 0h2m43 0h1m2 0h1m75 0h1m10 0h2m2 0h1m38 0h2m6 0h2m18 0h2m21 0h2m5 0h2m339 0h2m2 0h1m12 0h2M296 531.0h5m3 0h2m2 0h1M243 571.2h2m17 0h1m8 0h4m8 0h2m3 0h2m8 0h1m40 0h2m1 0h2m18 0h3m22 0h3m57 0h3m25 0h1m13 0h2m3 0h2m3 0h2m7 0h1m2 0h2m3 0h2m55 0h2m2 0h1m20 0h2m10 0h1m17 0h2m6 0h2m114 0h1m75 0h1m22 0h1m13 0h2m50 0h3m8 0h2m18 0h2m3 0h2m1 0h2m8 0h2m10 0h1m9 0h3m39 0h2m3 0h2m3 0h2m8 0h2m1 0h3m25 0h2m13 0h3m9 0h1m18 0h2m15 0h2m6 0h2m3 0h3m7 0h2m28 0h1m23 0h2m17 0h1m43 0h2m5 0h1m228 0h3m10 0h2m1 0h2m40 0h1m33 0h4m23 0h3m2 0h3m15 0h2m16 0h2m18 0h2m13 0h1m164 0h1M242 611.3h1m187 0h2m26 0h2m81 0h1m168 0h2m36 0h2m2 0h1m15 0h2m11 0h4m72 0h4m49 0h3m5 0h2m15 0h1m7 0h2m16 0h2m10 0h3m18 0h2m1 0h2m5 0h2m126 0h2m2 0h1m70 0h1m174 0h1m100 0h2m7 0h1m55 0h3m7 0h2m76 0h1m20 0h2m28 0h1m14 0h1m107 0h2m7 0h1m9 0h1M386 651.5h1m8 0h4m3 0h2m315 0h1m9 0h4m142 0h2m86 0h3m17 0h1m7 0h2m6 0h2m41 0h1m286 0h1m35 0h2m15 0h1m112 0h2m8 0h2m5 0h1m146 0h1m42 0h3m23 0h2m155 0h1m10 0h2M359 691.7h2m3 0h1m29 0h1m180 0h2m100 0h2m12 0h1m84 0h2m288 0h2m78 0h1m18 0h2m2 0h1m14 0h1m86 0h3m2 0h2m3 0h2m4 0h2m388 0h3M432 731.8h1m32 0h1m23 0h2m7 0h1m12 0h2m82 0h2m41 0h3m53 0h2m105 0h2m51 0h2m28 0h3m16 0h2m22 0h1m46 0h2m18 0h2M209 772.0h1m2 0h2m5 0h3m5 0h3m17 0h1m4 0h1m9 0h1m5 0h2m11 0h2m18 0h2m13 0h2m14 0h2m31 0h2m23 0h2m7 0h1m7 0h2m3 0h2m16 0h3m9 0h1m2 0h2m29 0h2m2 0h1m8 0h2m3 0h2m3 0h4m21 0h2m11 0h4m3 0h2m32 0h2m3 0h2m12 0h3m5 0h1m19 0h1m15 0h2m41 0h2m1 0h2m2 0h1m2 0h2m3 0h1m4 0h1m4 0h1m4 0h3m5 0h2m1 0h2m2 0h1m142 0h2m10 0h1m2 0h2m6 0h2m18 0h2m16 0h2m21 0h2m36 0h2m10 0h1m10 0h2m3 0h1m7 0h5m15 0h2m8 0h3m68 0h1m5 0h2m3 0h4m6 0h2m13 0h2m5 0h1m10 0h2m1 0h2m7 0h1m2 0h2m6 0h2m25 0h1m10 0h4m26 0h2m46 0h1m86 0h4m35 0h2m12 0h1m10 0h4m4 0h2m33 0h2m35 0h1m2 0h2m11 0h2m16 0h2m49 0h2m3 0h2m8 0h2m35 0h1m13 0h2m35 0h1m2 0h5m28 0h2m28 0h1m5 0h4m13 0h3m12 0h1m19 0h1m20 0h3m4 0h1M585 812.1h2m132 0h1m66 0h2m7 0h1m338 0h2m491 0h2m10 0h1"/>
<path stroke="#FFF5F2" d="M233 209.7h2m7 0h1m53 0h2m21 0h2m33 0h2m14 0h1m24 0h2m83 0h1m63 0h2m67 0h2m71 0h1m4 0h1m124 0h2m6 0h2m68 0h1m38 0h2m64 0h2m32 0h2m2 0h1m14 0h1m66 0h2m5 0h1m40 0h2m151 0h2m193 0h1m85 0h2m165 0h1m61 0h2m59 0h2m2 0h1M332 249.9h2m152 0h2m3 0h2m72 0h2m20 0h3M386 290.1h1m2 0h1m10 0h2m5 0h2m19 0h2m3 0h2m18 0h2m84 0h2m52 0h2m5 0h1m15 0h2m7 0h1m12 0h1m25 0h2m3 0h5m5 0h2m13 0h2m64 0h2m4 0h2m7 0h1m5 0h4m10 0h3m1 0h2m3 0h2m2 0h1m17 0h2m6 0h2m5 0h3m15 0h2m13 0h1m19 0h1m3 0h2m7 0h1m10 0h2m7 0h1m2 0h1m5 0h2m28 0h2m1 0h2m44 0h2m15 0h1m14 0h3m16 0h2m13 0h2m2 0h1m23 0h4m29 0h2m58 0h1m80 0h1m10 0h3m25 0h2m1 0h2m10 0h2m3 0h2m8 0h1m9 0h1m32 0h1m150 0h2m7 0h1m9 0h1m2 0h2m42 0h2m3 0h2m17 0h1m5 0h2m11 0h2m30 0h1m4 0h1m7 0h2m16 0h2m1 0h2m10 0h2m21 0h3m7 0h2m16 0h2m23 0h1m12 0h2m28 0h1m38 0h2m11 0h2M224 330.2h1m2 0h2m6 0h2m6 0h2m45 0h1m7 0h1m19 0h1m70 0h1m5 0h4m3 0h2m6 0h2m15 0h1m2 0h3m2 0h3m27 0h1m17 0h2m11 0h5m3 0h2m43 0h2m1 0h2m52 0h2m2 0h1m2 0h2m11 0h2m18 0h2m19 0h4m44 0h2m12 0h1m25 0h2m8 0h1m43 0h2m21 0h2m2 0h3m41 0h4m3 0h2m13 0h1m9 0h1m9 0h1m160 0h2m9 0h2m139 0h1m38 0h2m28 0h2m18 0h1m7 0h2m6 0h2m11 0h4m15 0h1m15 0h2m1 0h2m38 0h1m40 0h2m3 0h2m16 0h2m101 0h1m8 0h2m25 0h2m61 0h1m32 0h1m12 0h1m75 0h1M243 370.4h4m57 0h4m51 0h2m6 0h2m59 0h2m55 0h1m38 0h2m6 0h2m56 0h2m344 0h2m97 0h2m71 0h3m368 0h1m7 0h1M342 410.5h2m13 0h2m8 0h2m86 0h1m4 0h1m61 0h2m147 0h1m5 0h2m58 0h1m15 0h2m8 0h2m20 0h1m5 0h2m5 0h1m19 0h1m2 0h2m113 0h2m13 0h2m33 0h2m9 0h2m44 0h2m162 0h1m35 0h2m44 0h2m79 0h2m10 0h1m25 0h2m121 0h2m2 0h1m10 0h2m36 0h4m137 0h1m17 0h1m103 0h1M209 450.7h1m2 0h2m19 0h2m27 0h1m2 0h1m2 0h2m6 0h2m54 0h2m22 0h1m4 0h3m33 0h2m1 0h2m10 0h2m6 0h2m11 0h2m5 0h3m4 0h3m6 0h2m2 0h1m2 0h2m1 0h2m7 0h1m20 0h2m5 0h1m20 0h2m8 0h2m10 0h5m14 0h3m7 0h2m16 0h2m5 0h1m17 0h2m13 0h1m4 0h1m7 0h2m8 0h2m14 0h2m36 0h2m20 0h1m2 0h3m9 0h1m22 0h1m50 0h2m34 0h2m3 0h3m12 0h2m5 0h1m4 0h1m40 0h1m2 0h2m15 0h3m5 0h3m17 0h5m23 0h1m12 0h1m8 0h2m15 0h2m9 0h5m4 0h1m17 0h2m1 0h2m31 0h2m10 0h1m4 0h1m12 0h2m37 0h4m21 0h2m20 0h3m5 0h2m8 0h1m17 0h7m18 0h1m4 0h1m43 0h2m3 0h2m5 0h1m19 0h1m20 0h3m25 0h1m33 0h2m45 0h1m20 0h2m25 0h1m14 0h1m35 0h1m25 0h4m4 0h2m2 0h1m2 0h2m11 0h2m31 0h2m5 0h2m16 0h2m11 0h2m35 0h1m8 0h2m74 0h2m5 0h3M214 490.9h1m12 0h2m29 0h2m3 0h2m38 0h1m7 0h2m81 0h1m9 0h1m50 0h1m15 0h2m18 0h2m8 0h2m8 0h2m21 0h2m6 0h2m24 0h2m58 0h2m39 0h2m8 0h2m13 0h3m25 0h2m29 0h2m46 0h2m11 0h2m8 0h2m33 0h2m18 0h1m5 0h2m7 0h1m191 0h2m3 0h2m3 0h2m6 0h2m10 0h2m56 0h1m137 0h2m92 0h2m31 0h2m18 0h1m55 0h1m5 0h2m228 0h2m16 0h2M306 531.0h2m6 0h2M210 571.2h4m10 0h1m8 0h2m13 0h2m7 0h1m22 0h1m23 0h2m10 0h2m18 0h1m9 0h1m32 0h2m117 0h1m10 0h2m3 0h2m23 0h2m29 0h2m6 0h2m58 0h1m37 0h1m4 0h1m47 0h1m10 0h2m11 0h2m10 0h1m4 0h1m52 0h1m23 0h2m38 0h2m6 0h2m5 0h1m5 0h2m10 0h2m3 0h2m4 0h2m18 0h2m2 0h1m8 0h2m13 0h2m2 0h1m2 0h2m11 0h3m26 0h2m7 0h1m9 0h3m26 0h2m21 0h2m8 0h2m15 0h1m15 0h2m86 0h1m25 0h2m36 0h2m202 0h2m31 0h2m35 0h2m9 0h2m61 0h2m10 0h1m108 0h1m32 0h1m33 0h2m15 0h1M455 611.3h1m5 0h2m237 0h2m7 0h1m40 0h2m24 0h2m50 0h1m25 0h2m8 0h1m2 0h3m7 0h2m26 0h2m43 0h1m2 0h2m16 0h2m5 0h3m94 0h1m25 0h2m94 0h1m4 0h1m32 0h1m4 0h1m43 0h2m196 0h1m2 0h2m165 0h2m49 0h3m119 0h2m3 0h2M382 651.5h2m333 0h2m14 0h2m139 0h1m85 0h1m5 0h2m64 0h1m358 0h2m22 0h1m10 0h1m50 0h2m186 0h2m69 0h2m138 0h2m20 0h2M207 691.7h2m3 0h2m143 0h2m2 0h3m99 0h5m26 0h4m79 0h1m108 0h1m5 0h2m84 0h3m284 0h1m14 0h3m35 0h1m10 0h2m3 0h2m24 0h2m5 0h2m16 0h2m3 0h2m77 0h2m12 0h1m20 0h2M430 731.8h2m43 0h1m4 0h1m211 0h2m105 0h2m7 0h1m2 0h2m52 0h2m97 0h2M237 772.0h1m12 0h2m1 0h2m8 0h3m4 0h1m4 0h1m17 0h3m32 0h1m2 0h1m5 0h2m7 0h1m17 0h1m12 0h2m2 0h1m7 0h1m7 0h2m3 0h2m24 0h2m18 0h2m6 0h2m5 0h2m13 0h2m3 0h2m23 0h1m7 0h2m14 0h4m18 0h1m12 0h3m18 0h4m16 0h2m16 0h2m58 0h1m10 0h2m3 0h2m1 0h2m23 0h2m87 0h4m1 0h2m18 0h2m18 0h3m12 0h1m2 0h2m13 0h1m15 0h2m28 0h2m29 0h2m39 0h2m8 0h2m11 0h2m3 0h4m11 0h2m89 0h2m13 0h1m10 0h2m10 0h1m5 0h4m34 0h4m8 0h3m10 0h2m54 0h2m8 0h2m81 0h1m73 0h1m55 0h1m29 0h1m25 0h5m3 0h4m13 0h1m4 0h3m15 0h1m2 0h2m41 0h2m8 0h2m14 0h2m2 0h1m28 0h2m48 0h2m31 0h2m31 0h3m38 0h2M674 812.1h2m56 0h1m52 0h1m10 0h2m338 0h1m2 0h2m14 0h2m12 0h1m451 0h1m4 0h1"/>
<path stroke="#FFECE5" d="M214 450.7h3m2 0h6m2 0h2m6 0h2m1 0h2m2 0h5m8 0h2m13 0h3m2 0h1m20 0h2m6 0h4m1 0h2m7 0h5m8 0h1m7 0h2m1 0h2m5 0h3m2 0h2m1 0h2m8 0h2m13 0h2m2 0h3m1 0h5m4 0h1m5 0h2m3 0h2m3 0h2m15 0h1m10 0h2m23 0h3m2 0h2m6 0h2m8 0h2m18 0h2m5 0h1m2 0h1m10 0h2m2 0h1m27 0h1m7 0h3m2 0h10m1 0h2m2 0h1m8 0h4m5 0h3m2 0h3m16 0h4m6 0h2m2 0h1m4 0h3m2 0h3m2 0h1m3 0h5m2 0h3m5 0h2m7 0h5m9 0h2m7 0h1m2 0h2m5 0h3m2 0h1m8 0h2m5 0h2m1 0h2m3 0h2m2 0h3m2 0h3m3 0h2m8 0h2m3 0h3m5 0h4m3 0h1m2 0h3m2 0h5m2 0h1m4 0h3m5 0h2m3 0h5m1 0h2m8 0h4m1 0h4m5 0h1m5 0h5m2 0h1m5 0h2m13 0h5m2 0h1m2 0h2m5 0h3m21 0h2m2 0h1m5 0h2m7 0h3m3 0h2m3 0h5m2 0h1m2 0h2m6 0h10m7 0h1m35 0h5m1 0h2m2 0h3m21 0h2m7 0h1m7 0h1m7 0h2m3 0h5m2 0h3m7 0h1m2 0h5m13 0h3m13 0h9m3 0h2m1 0h5m2 0h2m6 0h2m6 0h2m2 0h1m9 0h1m9 0h4m9 0h3m8 0h2m2 0h1m8 0h2m2 0h1m2 0h2m6 0h2m12 0h1m10 0h2m6 0h2m5 0h2m1 0h2m13 0h2m1 0h4m28 0h1m2 0h3m5 0h2m3 0h2m2 0h1m2 0h1m4 0h8m5 0h2m3 0h2m3 0h2m1 0h2m9 0h5m7 0h3m15 0h3m7 0h3m2 0h2m14 0h2m3 0h2m5 0h2m6 0h4m23 0h3m7 0h1m2 0h7m1 0h2m5 0h5m3 0h3m7 0h2m3 0h2m1 0h2m2 0h5m5 0h1m12 0h3m20 0h1m10 0h2m2 0h1m7 0h3m15 0h3m2 0h8m2 0h5m3 0h3m7 0h3m5 0h2m7 0h1m7 0h3m7 0h1m4 0h8m3 0h2m18 0h3m4 0h1m4 0h1m4 0h1m8 0h2m2 0h1m7 0h2m11 0h3m2 0h5m3 0h5m12 0h5m6 0h4m5 0h3m2 0h5m1 0h5m3 0h2M1063 691.7h2m31 0h2m15 0h3m6 0h2m15 0h2m1 0h2m8 0h2m5 0h1m2 0h2m8 0h2m8 0h2m13 0h3m8 0h2m8 0h2"/>
<path stroke="#FFE2D8" d="M316 169.6h2m97 0h2m193 0h1m58 0h2m173 0h2m87 0h2m120 0h1m25 0h2m58 0h1m244 0h2m429 0h2m66 0h3M209 209.7h1m58 0h2m44 0h2m74 0h2m8 0h2m69 0h2m16 0h2m3 0h2m30 0h1m63 0h2m8 0h1m48 0h2m33 0h2m6 0h2m48 0h1m60 0h1m50 0h2m33 0h1m7 0h1m98 0h1m97 0h2m41 0h2m20 0h1m30 0h2m76 0h1m71 0h2m38 0h2m28 0h1m23 0h2m8 0h3m28 0h4m29 0h2m25 0h1m20 0h2m25 0h1m56 0h2m25 0h2m19 0h2m5 0h2m54 0h2m59 0h2m53 0h1M415 249.9h2m328 0h2m5 0h1m91 0h2m94 0h1m218 0h1m192 0h3M633 290.1h1m5 0h2m13 0h2m28 0h2m28 0h1m2 0h2m10 0h3m5 0h1m30 0h2m20 0h1m22 0h5m1 0h2m69 0h2m79 0h2m1 0h2m18 0h2m3 0h3m97 0h4m36 0h2m16 0h7m21 0h2m16 0h2m8 0h4m1 0h2m3 0h2m5 0h1m7 0h2m5 0h1m4 0h1m15 0h3m38 0h2m74 0h2m5 0h1m159 0h1m30 0h2m33 0h1m22 0h1m37 0h1m25 0h2m3 0h2m1 0h2m18 0h2m15 0h1m4 0h1m5 0h2m40 0h1m25 0h2m1 0h2m10 0h1m10 0h2M308 330.2h1m2 0h2m94 0h2m79 0h1m25 0h2m8 0h2m171 0h2m357 0h2m15 0h2m503 0h1m4 0h1M255 370.4h2m23 0h1m505 0h2m5 0h2m64 0h2m3 0h1m14 0h1m145 0h2m1 0h2m2 0h1m5 0h2m87 0h2m180 0h2m3 0h2m504 0h2m3 0h2M257 410.5h1m169 0h1m231 0h2m13 0h2m6 0h2m36 0h2m23 0h2m142 0h3m10 0h1m5 0h2m30 0h1m32 0h1m20 0h2m5 0h1m2 0h2m9 0h2m3 0h2m26 0h2m87 0h4m1 0h4m33 0h1m23 0h2m43 0h2m133 0h2m5 0h1m7 0h3m4 0h1m167 0h1m129 0h2m31 0h2m1 0h2m63 0h1m4 0h3m23 0h2m13 0h2m21 0h2M217 450.7h2m6 0h2m2 0h3m5 0h1m9 0h1m2 0h3m20 0h2m13 0h3m10 0h2m5 0h1m5 0h2m13 0h2m6 0h2m7 0h3m15 0h1m16 0h1m48 0h2m3 0h2m18 0h1m15 0h2m3 0h4m5 0h1m22 0h3m5 0h2m1 0h2m5 0h1m41 0h2m17 0h1m17 0h1m2 0h2m3 0h2m13 0h3m12 0h1m5 0h4m11 0h2m23 0h2m8 0h6m2 0h2m21 0h2m10 0h1m12 0h2m9 0h2m12 0h1m5 0h5m8 0h2m13 0h4m6 0h2m2 0h3m5 0h1m7 0h2m5 0h1m13 0h2m5 0h2m5 0h1m5 0h2m5 0h3m5 0h2m20 0h3m10 0h1m2 0h2m1 0h4m8 0h2m52 0h1m27 0h2m5 0h1m10 0h3m25 0h2m6 0h2m3 0h2m2 0h1m14 0h1m12 0h1m2 0h2m6 0h2m3 0h2m10 0h1m9 0h1m4 0h1m5 0h2m5 0h2m11 0h2m1 0h2m2 0h1m12 0h2m16 0h2m21 0h2m1 0h2m3 0h4m18 0h3m10 0h2m3 0h2m23 0h1m4 0h1m2 0h2m3 0h3m4 0h1m2 0h1m22 0h2m3 0h2m4 0h4m11 0h2m2 0h1m28 0h3m9 0h3m13 0h3m10 0h2m6 0h2m2 0h1m2 0h2m5 0h1m14 0h1m10 0h3m7 0h2m11 0h2m13 0h2m11 0h2m3 0h2m10 0h2m5 0h1m2 0h2m1 0h2m1 0h4m3 0h2m5 0h1m2 0h5m7 0h1m8 0h2m2 0h1m9 0h1m5 0h2m5 0h1m10 0h2m21 0h7m7 0h1m4 0h1m7 0h2m6 0h2m3 0h2m1 0h2m10 0h3m2 0h2m1 0h2m3 0h2m5 0h3m3 0h4m1 0h4m3 0h2m4 0h2m5 0h2m1 0h2m3 0h2m7 0h5m4 0h2m7 0h1m22 0h3m2 0h1m4 0h1m2 0h2m3 0h2m5 0h1m5 0h3m2 0h2M306 490.9h2m8 0h2m223 0h1m2 0h2m8 0h1m23 0h2m106 0h1m60 0h1m88 0h1m178 0h2m8 0h2m11 0h2m5 0h2m90 0h2m148 0h2m104 0h2M237 571.2h1m14 0h1m23 0h2m36 0h2m18 0h2m1 0h2m89 0h2m7 0h1m2 0h2m16 0h2m5 0h1m17 0h2m16 0h5m12 0h1m18 0h2m160 0h3m3 0h2m13 0h2m8 0h2m13 0h2m29 0h2m3 0h4m14 0h2m8 0h2m10 0h2m21 0h2m46 0h2m21 0h2m5 0h1m4 0h1m12 0h1m9 0h1m10 0h2m6 0h2m20 0h2m39 0h1m28 0h2m84 0h2m21 0h2m13 0h2m8 0h2m16 0h2m2 0h1m7 0h1m10 0h2m21 0h2m15 0h2m29 0h2m11 0h2m5 0h2m6 0h2m8 0h2m16 0h2m17 0h1m12 0h1m10 0h5m23 0h2m21 0h2m34 0h2m8 0h2m48 0h3m17 0h1m76 0h2m31 0h5m45 0h2m9 0h2m56 0h2m39 0h2m10 0h2m6 0h2m16 0h2M225 611.3h2m154 0h1m325 0h2m13 0h2m11 0h3m17 0h2m372 0h3m19 0h1m10 0h2m69 0h2m76 0h1m33 0h2m25 0h1m96 0h1m51 0h2m2 0h1m42 0h2m54 0h2m64 0h2m61 0h1M1520 651.5h1m5 0h2m104 0h2M214 691.7h1m9 0h1m68 0h2m11 0h2m28 0h1m5 0h2m127 0h2m7 0h1m7 0h1m83 0h1m12 0h2m445 0h1m38 0h2m25 0h1m10 0h2m68 0h1m12 0h5m6 0h2m8 0h5m2 0h1m19 0h1m43 0h2m8 0h2m5 0h1m25 0h2m115 0h2m236 0h1m111 0h2m21 0h3m37 0h1m7 0h2m9 0h2M342 731.8h4m221 0h1m5 0h4m28 0h1m48 0h2m7 0h1m18 0h2m3 0h2m172 0h1m50 0h1m47 0h1m284 0h1m56 0h2m252 0h4m6 0h2m5 0h1m85 0h1m103 0h1m18 0h2m21 0h2m13 0h2m46 0h2M217 772.0h2m39 0h4m44 0h2m130 0h2m12 0h1m13 0h2m5 0h2m43 0h1m82 0h2m130 0h2m17 0h1m2 0h2m5 0h1m2 0h1m233 0h2m6 0h1m32 0h2m97 0h2m112 0h1m40 0h2m6 0h2m2 0h1m25 0h2m11 0h2m11 0h2m22 0h1m5 0h2m6 0h2m2 0h1m111 0h1m85 0h1m7 0h1m63 0h2m36 0h2m11 0h5m7 0h2m6 0h2m8 0h2m18 0h1m17 0h2m62 0h2M709 812.1h3m71 0h2m260 0h2m19 0h2m78 0h1m7 0h1m4 0h1m141 0h3m327 0h1m12 0h1m75 0h1"/>
<path stroke="#FFD9CB" d="M314 169.6h2m106 0h1m106 0h2m506 0h1m63 0h3m38 0h2m102 0h2m89 0h3m23 0h2m23 0h2m226 0h1M210 209.7h2m54 0h2m2 0h1m12 0h2m10 0h1m48 0h2m142 0h1m75 0h1m17 0h3m2 0h1m10 0h2m20 0h3m2 0h1m35 0h2m4 0h2m7 0h1m2 0h2m6 0h2m175 0h1m4 0h1m40 0h2m1 0h2m54 0h2m5 0h2m39 0h2m56 0h1m30 0h2m21 0h2m10 0h3m20 0h1m28 0h2m195 0h1m35 0h1m2 0h2m1 0h2m5 0h2m129 0h1m122 0h2m21 0h2m35 0h1m32 0h1m33 0h2M493 249.9h3m8 0h2m376 0h2m29 0h2m18 0h3m45 0h2m64 0h1m8 0h2m51 0h2m132 0h2m161 0h2M630 290.1h1m5 0h2m8 0h2m15 0h1m17 0h1m27 0h1m55 0h1m10 0h2m28 0h2m3 0h2m5 0h1m10 0h2m25 0h1m4 0h1m7 0h1m38 0h2m3 0h2m10 0h2m11 0h2m5 0h1m12 0h3m18 0h2m15 0h1m10 0h1m30 0h2m81 0h1m9 0h1m5 0h2m25 0h1m4 0h1m4 0h3m7 0h1m5 0h2m1 0h4m3 0h2m8 0h2m5 0h1m2 0h1m15 0h2m2 0h5m9 0h4m3 0h2m1 0h2m3 0h2m13 0h2m43 0h1m47 0h1m15 0h2m6 0h2m3 0h4m1 0h2m2 0h1m142 0h2m19 0h2m3 0h2m5 0h2m1 0h5m83 0h1m30 0h2m5 0h1m7 0h2m16 0h2m49 0h4m1 0h2m1 0h2m5 0h2m11 0h2m10 0h1m5 0h4m34 0h2m12 0h1m4 0h4m2 0h3M212 330.2h2m23 0h1m19 0h1m28 0h2m11 0h2m25 0h2m3 0h1m83 0h2m54 0h2m8 0h2m26 0h2m18 0h2m146 0h2m406 0h3m204 0h4m1 0h2m12 0h1m272 0h4m24 0h2M257 370.4h1m255 0h1m59 0h2m13 0h2m15 0h1m170 0h2m3 0h2m16 0h2m73 0h1m17 0h2m8 0h1m15 0h2m113 0h2m7 0h1m228 0h3m38 0h2m350 0h1m33 0h2m48 0h1m78 0h5m25 0h1m2 0h2M258 410.5h2m41 0h2m26 0h2m16 0h2m74 0h2m17 0h1m2 0h2m41 0h3m102 0h2m97 0h2m5 0h1m22 0h2m5 0h1m12 0h1m37 0h3m127 0h2m6 0h2m2 0h1m7 0h1m10 0h4m5 0h1m15 0h2m1 0h2m12 0h1m18 0h2m13 0h3m60 0h1m5 0h2m1 0h4m36 0h3m2 0h2m31 0h2m3 0h2m41 0h2m11 0h2m8 0h2m132 0h1m4 0h1m13 0h2m3 0h2m147 0h1m81 0h2m77 0h4m3 0h2m6 0h2m12 0h1m5 0h2m3 0h2m1 0h2m2 0h1m2 0h2m43 0h1m5 0h2m15 0h1m5 0h2m2 0h1m8 0h2m3 0h2m2 0h6m2 0h2m14 0h4m1 0h2m18 0h2M266 450.7h2m358 0h2m124 0h1m51 0h2m33 0h2m5 0h1m43 0h2m23 0h2m135 0h1m15 0h3m73 0h2m226 0h1m33 0h2m62 0h2m8 0h2m101 0h3m26 0h2m53 0h2m8 0h3m96 0h1m42 0h1m5 0h2m28 0h2M402 490.9h2m48 0h1m68 0h1m30 0h2m21 0h2m11 0h2m25 0h1m58 0h3m5 0h2m23 0h2m48 0h1m81 0h2m29 0h2m160 0h1m9 0h1m183 0h2m7 0h1m30 0h2m8 0h2m89 0h1M1446 531.0h1m46 0h2m20 0h1M258 571.2h2m18 0h2m29 0h2m17 0h1m3 0h2m75 0h1m32 0h1m259 0h2m18 0h2m9 0h2m8 0h2m12 0h3m15 0h1m2 0h3m4 0h5m28 0h3m11 0h4m10 0h1m20 0h2m67 0h4m1 0h2m28 0h2m1 0h2m51 0h1m35 0h2m6 0h2m61 0h2m13 0h2m42 0h2m12 0h1m18 0h2m3 0h5m14 0h1m81 0h2m10 0h1m8 0h2m7 0h1m23 0h2m49 0h2m21 0h7m20 0h1m17 0h2m39 0h2m18 0h2m39 0h2m7 0h1m5 0h5m7 0h3m27 0h1m12 0h1m19 0h1m5 0h2m11 0h2m2 0h1m33 0h4m14 0h2m35 0h1m10 0h2m5 0h2m8 0h1m7 0h2m13 0h3m10 0h2M220 611.3h2m155 0h2m320 0h1m2 0h3m15 0h2m3 0h2m6 0h2m27 0h1m378 0h3m5 0h2m1 0h2m140 0h2m13 0h2m24 0h4m13 0h1m2 0h2m16 0h2m74 0h1m70 0h1m57 0h1m17 0h2m9 0h2m17 0h1m38 0h5m8 0h2m3 0h2m13 0h2m41 0h2m1 0h2m8 0h2m97 0h2M1454 651.5h1m32 0h1m119 0h2M210 691.7h2m5 0h5m8 0h2m64 0h3m9 0h1m42 0h1m62 0h1m83 0h1m74 0h2m12 0h3m455 0h2m21 0h3m22 0h1m17 0h2m113 0h2m8 0h2m69 0h2m16 0h2m69 0h2m337 0h1m3 0h2m79 0h2m10 0h2m3 0h3m2 0h1m7 0h3m10 0h2M299 731.8h2m264 0h2m23 0h2m11 0h2m15 0h3m51 0h2m15 0h1m35 0h2m14 0h2m5 0h2m5 0h1m23 0h2m87 0h2m89 0h2m44 0h1m184 0h1m61 0h2m18 0h2m2 0h1m292 0h2m38 0h1m162 0h2m36 0h2m31 0h2m16 0h2M210 772.0h2m12 0h1m10 0h2m1 0h4m31 0h2m8 0h2m3 0h2m19 0h2m30 0h1m12 0h2m6 0h2m6 0h1m52 0h2m30 0h1m180 0h2m100 0h2m2 0h1m15 0h2m31 0h2m39 0h2m84 0h2m40 0h1m2 0h1m7 0h2m5 0h3m20 0h1m40 0h1m215 0h5m1 0h2m8 0h2m25 0h1m38 0h4m9 0h4m3 0h2m28 0h3m5 0h2m62 0h2m1 0h2m25 0h1m7 0h2m58 0h1m48 0h2m1 0h2m13 0h4m13 0h1m28 0h2m23 0h2m10 0h1m24 0h3m1 0h2m20 0h3m8 0h2m3 0h2m5 0h2m34 0h2m30 0h1m23 0h2m22 0h1m7 0h1M407 812.1h2m10 0h1m300 0h2m20 0h1m9 0h1m12 0h1m22 0h2m257 0h1m15 0h2m76 0h1m30 0h2m125 0h2m331 0h5m66 0h3"/>
<path stroke="#FFCFBF" d="M319 169.6h2m13 0h2m262 0h2m89 0h2m5 0h1m111 0h1m335 0h2m118 0h2m58 0h3m35 0h1m68 0h1m182 0h2M212 209.7h2m13 0h2m8 0h1m22 0h2m3 0h1m47 0h1m65 0h2m26 0h2m11 0h2m61 0h2m80 0h2m8 0h2m20 0h1m96 0h2m59 0h2m110 0h2m10 0h5m28 0h1m17 0h1m4 0h1m55 0h2m85 0h2m51 0h1m40 0h2m34 0h2m69 0h2m23 0h2m6 0h2m46 0h2m16 0h2m33 0h2m16 0h1m70 0h1m4 0h1m63 0h2m11 0h2m33 0h3m48 0h2m5 0h1m12 0h2m26 0h3m4 0h3m48 0h3m5 0h2m15 0h1m8 0h2m7 0h1m33 0h2m30 0h1M432 249.9h1m27 0h1m14 0h1m5 0h2m20 0h1m149 0h1m18 0h2m26 0h2m117 0h2m59 0h2m49 0h2m18 0h2m204 0h2m28 0h1m93 0h2m67 0h2m3 0h2m20 0h3M595 290.1h2m9 0h2m3 0h2m2 0h1m32 0h1m12 0h2m19 0h2m61 0h2m5 0h1m17 0h1m78 0h2m3 0h2m6 0h2m23 0h2m23 0h1m60 0h1m28 0h4m59 0h1m25 0h3m38 0h2m15 0h2m36 0h1m4 0h1m15 0h2m18 0h2m21 0h3m81 0h2m3 0h2m31 0h2m5 0h2m14 0h2m15 0h2m130 0h1m83 0h2m18 0h1m30 0h2m8 0h2m10 0h1m2 0h3m8 0h2m12 0h1m12 0h1m10 0h2m51 0h2m20 0h1m2 0h2m1 0h2m43 0h1m17 0h2M250 330.2h2m24 0h2m134 0h2m39 0h3m220 0h1m619 0h1m2 0h2m11 0h2M252 370.4h1m9 0h1m10 0h2m13 0h2m224 0h2m62 0h2m17 0h1m180 0h3m17 0h1m48 0h2m5 0h2m16 0h2m34 0h2m117 0h1m2 0h2m247 0h2m30 0h1m4 0h1m356 0h2m31 0h4m59 0h2m30 0h1m20 0h3m20 0h3m5 0h4M252 410.5h1m71 0h2m8 0h2m26 0h2m61 0h2m8 0h2m138 0h2m20 0h1m25 0h2m105 0h2m8 0h2m6 0h4m145 0h1m5 0h2m8 0h2m20 0h1m19 0h1m7 0h3m10 0h2m1 0h2m10 0h3m13 0h1m29 0h1m33 0h2m3 0h2m3 0h2m69 0h2m10 0h1m28 0h2m10 0h2m16 0h2m16 0h2m191 0h2m92 0h2m38 0h2m1 0h2m56 0h2m67 0h4m8 0h1m5 0h4m28 0h1m5 0h2m61 0h2m6 0h2m11 0h5m20 0h2m18 0h2m6 0h4M298 450.7h3m324 0h1m51 0h2m17 0h3m28 0h2m36 0h1m10 0h2m97 0h2m68 0h1m120 0h2m59 0h2m17 0h1m53 0h2m23 0h3m91 0h1m154 0h1m7 0h1m9 0h1m10 0h4m6 0h2m96 0h1m57 0h3m1 0h4m59 0h2m79 0h2m8 0h2m44 0h2M291 490.9h4m23 0h1m88 0h2m8 0h2m6 0h2m6 0h4m6 0h2m49 0h2m26 0h4m54 0h2m1 0h2m23 0h2m54 0h2m89 0h2m21 0h2m26 0h2m105 0h2m87 0h2m18 0h1m4 0h1m9 0h1m5 0h2m101 0h1m10 0h2m119 0h1m83 0h1m22 0h1m9 0h1m19 0h1M1469 531.0h1M207 571.2h2m5 0h1m14 0h1m20 0h2m23 0h1m23 0h2m12 0h1m17 0h1m49 0h1m28 0h2m2 0h1m7 0h1m9 0h1m5 0h2m31 0h2m3 0h2m10 0h1m53 0h2m170 0h3m7 0h1m48 0h2m23 0h1m12 0h3m2 0h2m13 0h1m30 0h2m43 0h1m96 0h2m9 0h2m3 0h5m8 0h2m10 0h2m13 0h1m7 0h2m95 0h2m7 0h1m2 0h2m5 0h1m3 0h4m28 0h1m7 0h2m21 0h5m10 0h2m1 0h2m33 0h2m10 0h1m33 0h2m8 0h2m36 0h2m36 0h1m2 0h2m1 0h2m35 0h1m12 0h1m30 0h2m40 0h1m45 0h1m9 0h1m10 0h2m21 0h4m8 0h2m9 0h2m2 0h1m10 0h2m10 0h3m22 0h1m8 0h2m36 0h2m10 0h2m10 0h1m12 0h1m9 0h1m13 0h2m36 0h2m23 0h2M222 611.3h2m36 0h2m4 0h2m2 0h1m283 0h3m162 0h1m18 0h2m13 0h2m3 0h2m5 0h1m360 0h1m27 0h8m36 0h2m3 0h2m8 0h2m8 0h2m13 0h2m31 0h2m29 0h2m30 0h1m4 0h3m8 0h2m10 0h1m160 0h2m1 0h2m42 0h1m3 0h2m36 0h2m13 0h2m41 0h2m1 0h2m2 0h1m2 0h2m3 0h2m6 0h4m3 0h2m31 0h3m3 0h2m15 0h2m76 0h1m46 0h2M1452 651.5h2M215 691.7h2m74 0h2m18 0h5m177 0h1m525 0h1m38 0h2m25 0h1m18 0h2m2 0h1m46 0h2m45 0h1m2 0h2m31 0h2m6 0h5m40 0h1m30 0h2m81 0h1m279 0h2m38 0h1m86 0h2m44 0h2m41 0h5M346 731.8h1m22 0h1m213 0h4m66 0h1m91 0h2m13 0h2m3 0h1m7 0h2m1 0h2m48 0h2m52 0h2m41 0h2m262 0h1m58 0h2m15 0h1m12 0h2m3 0h2m300 0h1m17 0h2m11 0h2m107 0h2m46 0h1m27 0h2m16 0h2m33 0h1m40 0h2M225 772.0h2m6 0h2m69 0h2m2 0h1m12 0h2m59 0h4m1 0h2m36 0h2m41 0h2m44 0h2m3 0h3m14 0h1m79 0h2m135 0h2m84 0h2m62 0h2m50 0h1m5 0h2m6 0h2m26 0h2m29 0h2m22 0h1m74 0h2m101 0h1m9 0h1m22 0h1m23 0h2m28 0h3m17 0h2m5 0h1m2 0h2m3 0h1m9 0h1m30 0h2m72 0h2m19 0h2m12 0h1m7 0h2m58 0h1m33 0h2m53 0h1m9 0h1m48 0h3m10 0h2m21 0h5m15 0h3m9 0h3m23 0h2m10 0h1m50 0h1m9 0h1M402 812.1h2m5 0h1m7 0h2m154 0h2m13 0h4m198 0h1m267 0h2m1 0h2m79 0h2m13 0h2m138 0h2m330 0h2m14 0h2m28 0h2m44 0h2m3 0h2m5 0h2m16 0h2"/>
<path stroke="#FFC6B2" d="M321 169.6h2m87 0h2m255 0h2m68 0h1m213 0h2m2 0h1m371 0h3M275 209.7h1m33 0h4m19 0h2m106 0h2m82 0h2m41 0h1m76 0h4m199 0h2m28 0h2m5 0h1m42 0h1m91 0h1m40 0h1m22 0h2m51 0h1m28 0h2m25 0h1m2 0h2m84 0h2m46 0h1m2 0h2m51 0h1m15 0h2m142 0h1m80 0h5M430 249.9h2m44 0h2m226 0h1m551 0h2m5 0h1M610 290.1h1m7 0h2m8 0h2m29 0h2m54 0h2m5 0h2m3 0h2m4 0h4m84 0h2m21 0h2m21 0h2m72 0h2m63 0h1m115 0h2m31 0h2m40 0h3m21 0h2m3 0h2m20 0h2m13 0h1m17 0h2m4 0h4m25 0h1m55 0h1m9 0h1m203 0h2m5 0h1m5 0h2m10 0h1m66 0h2m18 0h2m26 0h2m16 0h2m3 0h4m39 0h4m24 0h2m33 0h2m36 0h2M214 330.2h1m190 0h2m63 0h1m610 0h2m242 0h2m238 0h1m8 0h2M801 370.4h2m97 0h2m3 0h2m3 0h2m362 0h5m470 0h2m7 0h1m9 0h1m63 0h3m23 0h2M245 410.5h2m6 0h2m91 0h1m81 0h2m2 0h1m225 0h1m22 0h1m45 0h2m4 0h2m8 0h2m211 0h2m64 0h1m7 0h2m51 0h2m3 0h1m52 0h1m13 0h2m17 0h1m2 0h2m16 0h2m49 0h2m127 0h2m186 0h2m67 0h2m71 0h1m14 0h1m23 0h2m5 0h2m66 0h1m17 0h1m24 0h1m12 0h1m24 0h1m2 0h1M679 450.7h2m100 0h2m40 0h1m252 0h2m150 0h2m105 0h2m95 0h2m10 0h2m19 0h2m276 0h1M298 490.9h1m9 0h1m91 0h2m17 0h1m27 0h1m17 0h3m25 0h1m83 0h1m28 0h2m5 0h2m260 0h2m13 0h2m128 0h2m130 0h2m132 0h1m38 0h2m48 0h2m28 0h1M311 571.2h2m56 0h1m65 0h2m6 0h2m28 0h2m52 0h2m12 0h1m162 0h1m12 0h2m13 0h1m9 0h1m61 0h2m58 0h1m25 0h2m84 0h2m47 0h2m15 0h1m27 0h1m9 0h1m10 0h2m107 0h2m6 0h2m68 0h1m68 0h2m164 0h2m30 0h1m55 0h2m72 0h2m71 0h3m40 0h1m33 0h2m81 0h1M224 611.3h1m33 0h2m8 0h2m11 0h2m96 0h2m343 0h1m506 0h2m99 0h2m10 0h1m30 0h2m153 0h1m20 0h2m3 0h2m117 0h2m5 0h1m45 0h2m6 0h3m4 0h1m103 0h1M1612 651.5h2m7 0h3M590 691.7h2m423 0h2m38 0h3m58 0h2m107 0h1m28 0h2m7 0h3m40 0h1m376 0h2m56 0h2m62 0h2m46 0h4M240 731.8h2m44 0h2m13 0h2m67 0h1m201 0h1m156 0h1m18 0h2m30 0h1m53 0h2m11 0h2m412 0h2m44 0h2m275 0h2m13 0h2m21 0h2m41 0h2m224 0h2M215 772.0h2m81 0h1m12 0h2m122 0h2m13 0h2m97 0h2m4 0h2m178 0h2m3 0h2m8 0h2m5 0h1m79 0h2m2 0h1m287 0h2m107 0h2m57 0h2m35 0h3m12 0h1m7 0h1m10 0h2m25 0h1m76 0h2m89 0h2m59 0h2m204 0h2m31 0h2M415 812.1h2m151 0h2m173 0h2m46 0h2m351 0h2"/>
<path stroke="#FFB299" d="M240 169.6h2m457 0h1m1203 0h1M743 209.7h2m45 0h1m503 0h2M465 249.9h1m2 0h2m718 0h2m7 0h1m241 0h2M862 370.4h2m204 0h2m280 0h2m13 0h2m326 0h2M313 410.5h1m23 0h2m694 0h2m190 0h1m30 0h2m303 0h2M1106 450.7h2m549 0h2M1845 490.9h2M1728 531.0h2m163 0h2M1179 571.2h1m716 0h2M740 611.3h2m506 0h2m278 0h2m25 0h1m9 0h1M225 691.7h2m900 0h2m678 0h2M1373 731.8h2M356 772.0h1m1113 0h2M1814 812.1h1"/>
<path stroke="#FFA88D" d="M217 169.6h2m14 0h2m43 0h2m462 0h1m61 0h2m111 0h1m104 0h1m22 0h2m26 0h2m8 0h2m77 0h2m90 0h2m109 0h2m95 0h5m28 0h2m125 0h2m30 0h3m15 0h1m60 0h2m26 0h2m6 0h2m34 0h2m5 0h2m33 0h1m33 0h2M232 209.7h1m132 0h2m88 0h1m132 0h2m3 0h2m10 0h1m205 0h2m26 0h3m45 0h2m11 0h2m82 0h2m16 0h2m26 0h2m36 0h2m46 0h2m57 0h2m3 0h2m36 0h2m34 0h2m7 0h1m22 0h1m2 0h2m39 0h2m20 0h1m19 0h1m20 0h2m1 0h2m67 0h2m12 0h1m2 0h1m7 0h2m3 0h2m84 0h2m33 0h1m33 0h2m5 0h2m6 0h2m15 0h1m9 0h1m5 0h2m61 0h2m31 0h3m63 0h2m8 0h1m27 0h2M461 249.9h2m58 0h1m46 0h2m192 0h1m48 0h2m13 0h2m397 0h1m15 0h2m16 0h2m3 0h2m13 0h2m94 0h2m65 0h4m404 0h3M1182 290.1h2m21 0h3M229 330.2h1m112 0h2m76 0h3m145 0h4m173 0h2m34 0h2m152 0h1m32 0h1m249 0h2m6 0h2m17 0h3m68 0h1m142 0h1m7 0h2m104 0h1m5 0h2m69 0h4m5 0h1m56 0h2m33 0h2m33 0h1m2 0h2m39 0h2m66 0h2M296 370.4h2m3 0h2m78 0h1m51 0h2m209 0h2m144 0h1m246 0h1m22 0h1m5 0h2m2 0h1m23 0h2m83 0h1m4 0h1m28 0h2m35 0h1m55 0h3m18 0h2m3 0h2m92 0h1m28 0h2m183 0h2m55 0h1m197 0h1m10 0h2M207 410.5h2m20 0h1m41 0h2m20 0h2m11 0h2m6 0h2m114 0h2m29 0h2m23 0h2m79 0h1m48 0h2m289 0h1m23 0h2m28 0h2m21 0h2m37 0h2m31 0h2m78 0h1m28 0h2m15 0h2m24 0h5m7 0h1m15 0h2m12 0h1m101 0h1m53 0h2m2 0h1m2 0h2m108 0h2m41 0h2m56 0h2m132 0h3m66 0h2m16 0h2M438 450.7h2m64 0h2m125 0h2m33 0h1m20 0h2m44 0h2m5 0h2m54 0h2m176 0h2m21 0h4m115 0h2m66 0h1m252 0h2m11 0h2m25 0h2m19 0h2m18 0h2m259 0h2m127 0h1M280 490.9h1m2 0h2m24 0h2m18 0h2m61 0h2m84 0h2m23 0h1m142 0h2m61 0h3m30 0h1m30 0h2m5 0h1m80 0h1m10 0h2m184 0h2m11 0h4m3 0h2m75 0h2m45 0h1m4 0h1m7 0h2m37 0h2m2 0h3m31 0h2m23 0h2m20 0h1m42 0h3m5 0h1m231 0h2m10 0h2M1706 531.0h2m71 0h2m3 0h2M209 571.2h1m5 0h2m15 0h1m75 0h1m454 0h2m28 0h2m31 0h2m11 0h2m18 0h2m33 0h1m256 0h1m10 0h3m7 0h2m8 0h2m39 0h2m16 0h2m20 0h3m2 0h1m2 0h2m28 0h1m15 0h3m9 0h1m7 0h2m3 0h2m14 0h2m12 0h1m15 0h2m3 0h2m21 0h2m8 0h1m28 0h2m18 0h2m83 0h1m35 0h3m10 0h2m48 0h1m9 0h1m3 0h2m48 0h2m1 0h2m13 0h2m23 0h2m51 0h1m48 0h3M339 611.3h2m338 0h3m60 0h3m21 0h2m475 0h2m61 0h1m22 0h1m17 0h2m57 0h2m87 0h2m92 0h2m120 0h2m12 0h1m4 0h1m17 0h1m93 0h1M346 651.5h1m678 0h2m587 0h2M295 691.7h1m20 0h2m155 0h2m14 0h2m531 0h3m36 0h2m63 0h1m10 0h2m2 0h1m2 0h2m85 0h4m18 0h1m38 0h2m35 0h1m22 0h1m5 0h2m8 0h2m13 0h2m246 0h1m20 0h2m33 0h1m60 0h1m38 0h2m7 0h1m12 0h1m57 0h1m10 0h2m3 0h2M233 731.8h2m264 0h4m1 0h2m214 0h4m1 0h2m8 0h2m87 0h2m6 0h2m56 0h2m285 0h2m21 0h2m8 0h2m5 0h1m40 0h1m12 0h2m10 0h1m53 0h2m13 0h1M760 772.0h2m6 0h2m58 0h1m45 0h1m42 0h1m30 0h2m16 0h2m34 0h2m143 0h2m77 0h2m61 0h3m22 0h3m46 0h2m12 0h1m2 0h2m3 0h1m17 0h2m39 0h2m9 0h2m17 0h1m58 0h2m18 0h2m94 0h1m25 0h2M229 812.1h1m2 0h1m76 0h2m2 0h1m2 0h2m18 0h1m85 0h1m2 0h2m10 0h1m2 0h2m135 0h1m2 0h2m188 0h1m4 0h1m2 0h2m493 0h1m12 0h1m198 0h2m15 0h1m12 0h1m12 0h2m176 0h2m23 0h2m3 0h2m15 0h1m70 0h1"/>
<path stroke="#FF9E81" d="M214 169.6h1m150 0h2m14 0h3m61 0h2m385 0h2m79 0h4m6 0h2m56 0h2m8 0h2m106 0h2m50 0h1m93 0h1m2 0h2m42 0h4m24 0h2m63 0h1m4 0h1m124 0h1m9 0h1m75 0h3m300 0h2M238 209.7h2m102 0h2m50 0h1m14 0h1m129 0h2m39 0h2m13 0h2m18 0h1m27 0h1m65 0h1m40 0h3m4 0h1m33 0h2m58 0h1m55 0h1m28 0h2m166 0h2m26 0h2m17 0h1m71 0h2m62 0h2m12 0h1m63 0h2m1 0h2m57 0h2m7 0h1m12 0h1m35 0h2m23 0h2m19 0h2m91 0h2m6 0h2m2 0h1m36 0h2m5 0h2m20 0h1m18 0h2m13 0h2m18 0h3m4 0h1m53 0h2m33 0h1m15 0h2M392 249.9h2m26 0h2m102 0h3m5 0h2m3 0h4m29 0h2m1 0h2m17 0h1m68 0h2m61 0h1m5 0h2m63 0h1m224 0h2m3 0h2m155 0h2m127 0h1m10 0h2m69 0h2m34 0h2m56 0h1m98 0h2m260 0h2m36 0h2M1233 290.1h2M364 330.2h1m54 0h1m3 0h2m17 0h1m9 0h1m272 0h2m132 0h2m85 0h2m15 0h1m53 0h2m19 0h2m157 0h1m50 0h2m19 0h2m43 0h2m11 0h2m5 0h1m9 0h1m294 0h1m27 0h2m127 0h1m35 0h2m56 0h1m4 0h1M235 370.4h2m127 0h1m4 0h1m289 0h2m38 0h1m15 0h2m36 0h2m40 0h1m84 0h2m40 0h1m56 0h7m95 0h2m251 0h1m12 0h2m18 0h3m57 0h2m124 0h2m137 0h1m33 0h2M248 410.5h2m5 0h2m18 0h1m14 0h1m18 0h2m21 0h2m114 0h2m181 0h2m284 0h1m78 0h1m28 0h3m30 0h2m161 0h2m3 0h2m26 0h2m97 0h2m40 0h1m7 0h2m201 0h3m17 0h1m104 0h2m5 0h1m22 0h2m33 0h1m35 0h2M541 450.7h1m79 0h2m219 0h2m303 0h2m91 0h1m5 0h2m3 0h2m130 0h2m64 0h1m5 0h2m69 0h2m94 0h2m99 0h2m19 0h2m5 0h2m44 0h2m46 0h2M224 490.9h1m71 0h2m1 0h4m18 0h2m3 0h3m8 0h4m43 0h2m186 0h1m75 0h5m6 0h2m114 0h1m5 0h2m28 0h2m125 0h3m19 0h1m30 0h2m42 0h2m26 0h2m38 0h1m9 0h1m4 0h1m43 0h2m72 0h2m15 0h1m27 0h2m6 0h3m30 0h2m25 0h1m36 0h2m3 0h2m243 0h1m2 0h1m147 0h2m89 0h2M1583 531.0h1m167 0h2m33 0h1m25 0h2m21 0h2m16 0h4m6 0h2m5 0h1M361 571.2h1m65 0h1m269 0h2m8 0h3m38 0h2m10 0h2m4 0h2m22 0h1m4 0h1m33 0h2m66 0h1m7 0h2m3 0h2m82 0h2m150 0h1m45 0h1m50 0h2m41 0h3m10 0h2m13 0h2m6 0h2m10 0h1m45 0h2m3 0h1m4 0h3m90 0h2m66 0h2m3 0h2m18 0h2m117 0h2m14 0h2m23 0h2m5 0h1m2 0h2m21 0h2m34 0h2m3 0h2m3 0h2m23 0h2m15 0h1m13 0h2m17 0h3m5 0h2M341 611.3h1m2 0h2m381 0h2m34 0h2m381 0h1m81 0h3m73 0h2m36 0h2m9 0h2m53 0h2m1 0h2m77 0h2m41 0h2m18 0h2m16 0h2m15 0h1m2 0h3m78 0h1m15 0h2m7 0h1m8 0h2m13 0h2m23 0h2m1 0h4m92 0h2m1 0h2m8 0h2M296 651.5h2m18 0h2m31 0h2m676 0h1m573 0h2m28 0h1m239 0h2m31 0h2M209 691.7h1m93 0h3m18 0h2m2 0h1m15 0h2m129 0h5m1 0h4m93 0h2m3 0h2m491 0h2m46 0h2m21 0h5m76 0h2m21 0h2m33 0h1m104 0h2m22 0h1m274 0h2m39 0h2m77 0h2m2 0h1m9 0h1m43 0h2m20 0h1M247 731.8h3m66 0h3m259 0h2m30 0h1m23 0h2m94 0h2m1 0h2m3 0h2m13 0h2m7 0h3m5 0h1m118 0h1m116 0h1m168 0h2m31 0h2m46 0h2m28 0h5m59 0h2m15 0h1m2 0h2M280 772.0h1m5 0h2m2 0h1m58 0h2m424 0h1m5 0h2m16 0h2m163 0h2m17 0h1m4 0h1m7 0h1m137 0h2m100 0h2m31 0h2m12 0h1m2 0h1m12 0h2m3 0h2m24 0h2m46 0h2m3 0h2m47 0h2m23 0h2m10 0h1m25 0h3m90 0h1m71 0h2M238 812.1h2m30 0h1m12 0h2m52 0h2m26 0h2m45 0h2m14 0h4m3 0h2m339 0h2m2 0h3m285 0h2m62 0h2m17 0h1m144 0h1m147 0h2m176 0h4m11 0h2m74 0h3m19 0h1m2 0h1"/>
<path stroke="#FF9475" d="M212 169.6h2m1 0h2m249 0h2m17 0h1m8 0h2m204 0h2m97 0h2m2 0h1m52 0h1m22 0h1m32 0h1m12 0h2m144 0h2m18 0h2m226 0h1m47 0h1m71 0h2m13 0h3m2 0h1m12 0h3m15 0h2m26 0h2m56 0h2m34 0h2m73 0h1m15 0h2m86 0h1m91 0h2M262 209.7h1m13 0h2m21 0h2m132 0h2m3 0h2m38 0h2m57 0h2m39 0h2m26 0h2m124 0h3m10 0h2m46 0h2m57 0h2m21 0h2m8 0h2m51 0h2m28 0h1m25 0h2m29 0h2m39 0h2m12 0h1m7 0h3m61 0h2m3 0h2m18 0h2m82 0h2m28 0h1m75 0h1m23 0h2m2 0h1m41 0h2m13 0h2m8 0h2m29 0h2m2 0h1m63 0h2m3 0h2m18 0h3m33 0h2m25 0h1m28 0h2m20 0h2m9 0h2m35 0h1m38 0h2m15 0h1m24 0h1m35 0h2m14 0h2m23 0h2M377 249.9h2m15 0h1m71 0h2m68 0h1m5 0h4m21 0h1m66 0h2m23 0h2m10 0h1m66 0h4m44 0h4m61 0h1m101 0h2m33 0h3m85 0h2m15 0h1m24 0h1m107 0h2m56 0h2m56 0h2m42 0h2m39 0h2m3 0h2m451 0h1M1179 290.1h1m45 0h1M278 330.2h2m64 0h2m82 0h2m152 0h1m159 0h3m97 0h2m17 0h1m71 0h2m34 0h5m46 0h2m140 0h2m53 0h1m83 0h1m172 0h1m93 0h2m1 0h2m15 0h1m76 0h2m89 0h2m62 0h2m74 0h2m6 0h2M266 370.4h2m2 0h1m4 0h1m19 0h1m139 0h2m138 0h3m65 0h1m17 0h3m32 0h1m3 0h2m343 0h2m49 0h3m63 0h2m61 0h1m25 0h2m3 0h2m46 0h2m24 0h2m46 0h2m16 0h2m8 0h7m163 0h2m59 0h2m51 0h2m189 0h2M242 410.5h1m61 0h2m2 0h1m2 0h2m3 0h2m10 0h1m118 0h1m37 0h1m117 0h2m74 0h2m43 0h1m32 0h1m134 0h2m21 0h2m16 0h2m25 0h1m17 0h1m2 0h2m5 0h1m10 0h2m34 0h2m18 0h1m5 0h2m12 0h1m56 0h2m17 0h1m2 0h1m32 0h3m7 0h1m2 0h2m11 0h2m18 0h3m15 0h3m157 0h2m13 0h1m171 0h1m131 0h1m74 0h2m5 0h2M461 450.7h2m66 0h2m240 0h2m22 0h1m86 0h2m34 0h2m76 0h1m135 0h2m114 0h2m18 0h1m183 0h3m40 0h2m19 0h2m2 0h1m116 0h2m163 0h2M420 490.9h3m40 0h2m24 0h2m8 0h2m26 0h2m124 0h3m44 0h2m33 0h2m97 0h2m224 0h3m45 0h1m18 0h2m3 0h2m91 0h1m12 0h2m28 0h1m30 0h2m1 0h5m13 0h2m15 0h2m16 0h2m267 0h2m14 0h2m8 0h2m17 0h1m116 0h1m73 0h2m46 0h1M1545 531.0h1m96 0h2m166 0h2m48 0h2M220 571.2h2m8 0h2m8 0h3m86 0h2m94 0h2m257 0h2m8 0h2m39 0h2m10 0h1m20 0h2m26 0h2m10 0h1m5 0h2m25 0h1m28 0h2m51 0h2m10 0h1m71 0h1m172 0h2m97 0h2m15 0h3m7 0h1m17 0h3m12 0h1m15 0h3m12 0h2m24 0h2m3 0h2m10 0h2m54 0h1m25 0h2m19 0h2m142 0h2m51 0h2m3 0h2m1 0h2m48 0h1m15 0h2m10 0h2m16 0h2m10 0h1m12 0h1m52 0h1m8 0h4M329 611.3h2m351 0h2m3 0h2m2 0h1m447 0h2m6 0h2m69 0h2m87 0h2m18 0h2m1 0h2m17 0h1m181 0h2m40 0h1m10 0h2m106 0h1m15 0h2m21 0h2m110 0h2m10 0h3M1045 651.5h2m833 0h3m20 0h1m2 0h2M290 691.7h1m27 0h1m7 0h2m1 0h2m15 0h3m3 0h2m226 0h3m437 0h2m8 0h2m104 0h1m20 0h2m18 0h2m33 0h1m10 0h2m5 0h1m47 0h3m58 0h1m9 0h3m18 0h2m3 0h2m8 0h3m5 0h2m241 0h1m17 0h1m33 0h2m5 0h2m46 0h1m78 0h2m16 0h2m38 0h1m4 0h5M250 731.8h2m112 0h1m138 0h1m107 0h2m94 0h2m15 0h1m91 0h5m2 0h1m5 0h2m381 0h1m20 0h2m33 0h1m15 0h2m69 0h2m11 0h2M291 772.0h2m26 0h2m26 0h2m8 0h2m384 0h2m21 0h2m2 0h1m30 0h2m3 0h2m23 0h1m154 0h2m237 0h1m24 0h1m3 0h2m10 0h3m56 0h2m43 0h5m51 0h1m7 0h3m17 0h1m66 0h2m7 0h1m35 0h4m16 0h2m76 0h1m7 0h1M230 812.1h2m36 0h2m20 0h1m23 0h2m48 0h1m45 0h2m11 0h2m2 0h1m144 0h1m2 0h2m1 0h2m183 0h2m288 0h2m228 0h1m8 0h2m145 0h2m36 0h2m52 0h2m86 0h2m19 0h4m74 0h2m5 0h1m96 0h2"/>
<path stroke="#FF8969" d="M443 169.6h2m8 0h3m48 0h2m279 0h1m15 0h2m54 0h2m193 0h1m45 0h1m12 0h2m51 0h1m351 0h2m124 0h3m15 0h2m28 0h2m18 0h1m57 0h1m8 0h2m31 0h2m23 0h2M229 209.7h1m78 0h1m40 0h2m16 0h2m41 0h2m18 0h2m49 0h2m20 0h1m5 0h2m20 0h1m14 0h1m64 0h2m21 0h4m18 0h2m1 0h2m11 0h4m39 0h2m30 0h1m5 0h2m13 0h2m1 0h2m12 0h1m2 0h2m6 0h2m15 0h3m13 0h3m17 0h2m69 0h3m27 0h6m48 0h2m26 0h1m40 0h2m1 0h2m3 0h2m3 0h2m13 0h2m41 0h2m24 0h2m38 0h3m8 0h2m30 0h1m38 0h2m17 0h1m12 0h1m2 0h2m15 0h5m39 0h2m16 0h2m51 0h1m4 0h1m33 0h2m18 0h2m48 0h2m8 0h1m55 0h2m3 0h1m5 0h2m25 0h1m12 0h3m15 0h2m23 0h2m1 0h4m9 0h2m3 0h2m54 0h4m5 0h3m38 0h2m1 0h2m23 0h2M445 249.9h2m5 0h1m10 0h2m89 0h1m70 0h1m61 0h2m3 0h2m31 0h2m15 0h1m23 0h2m33 0h2m43 0h1m10 0h2m41 0h2m23 0h2m34 0h2m5 0h1m94 0h3m23 0h2m10 0h2m23 0h1m88 0h2m14 0h2m61 0h2m28 0h1m19 0h3m56 0h2m95 0h3m144 0h2m54 0h2m48 0h1m5 0h2m8 0h2m102 0h2M1180 290.1h2m6 0h2m22 0h1m18 0h2M319 330.2h2m83 0h1m20 0h2m33 0h1m7 0h2m118 0h2m101 0h1m8 0h2m28 0h3m40 0h2m216 0h2m162 0h2m23 0h2m74 0h2m44 0h2m13 0h2m23 0h2m125 0h1m5 0h2m25 0h1m159 0h2m171 0h2M268 370.4h2m6 0h2m13 0h2m89 0h2m46 0h2m209 0h2m105 0h2m38 0h2m178 0h1m74 0h2m3 0h2m2 0h4m48 0h2m196 0h2m25 0h1m5 0h2m12 0h1m40 0h1m4 0h1m17 0h2m221 0h1m58 0h2m62 0h2m43 0h1m70 0h1M225 410.5h2m13 0h2m1 0h2m43 0h2m1 0h2m33 0h2m125 0h2m8 0h2m18 0h2m95 0h2m26 0h2m115 0h2m8 0h2m234 0h2m1 0h2m52 0h2m8 0h4m3 0h2m6 0h2m94 0h2m39 0h3m5 0h2m45 0h1m121 0h3m3 0h2m10 0h1m15 0h2m13 0h2m133 0h2m12 0h1m33 0h2m3 0h2m10 0h1m85 0h1m111 0h3M384 450.7h2m51 0h1m45 0h2m28 0h1m25 0h2m82 0h2m369 0h2m115 0h2m67 0h2m165 0h2m130 0h1m22 0h1m18 0h2m45 0h2M243 490.9h2m33 0h2m97 0h2m53 0h1m15 0h2m30 0h1m17 0h1m457 0h2m108 0h2m137 0h2m102 0h2m5 0h1m17 0h1m17 0h1m347 0h2m156 0h2m16 0h2M1837 531.0h1M301 571.2h2m67 0h1m41 0h2m9 0h2m5 0h2m257 0h3m18 0h2m38 0h2m10 0h1m73 0h3m15 0h2m13 0h1m10 0h2m18 0h2m31 0h2m219 0h1m14 0h1m75 0h1m15 0h2m67 0h2m8 0h2m10 0h1m14 0h3m13 0h2m18 0h3m5 0h2m2 0h1m11 0h2m41 0h4m11 0h2m61 0h2m53 0h1m61 0h2m58 0h1m12 0h1m53 0h2m56 0h2M694 611.3h3m60 0h1m2 0h2m360 0h2m3 0h2m5 0h2m109 0h1m289 0h3m172 0h1m152 0h2M347 651.5h2m673 0h1m7 0h2M227 691.7h2m51 0h1m7 0h2m41 0h1m2 0h2m68 0h1m80 0h1m5 0h2m535 0h2m23 0h2m51 0h2m24 0h2m36 0h2m3 0h2m33 0h2m9 0h2m12 0h1m5 0h5m20 0h2m49 0h2m41 0h2m10 0h1m5 0h2m10 0h1m15 0h2m284 0h1m188 0h2M209 731.8h1m152 0h2m200 0h1m5 0h2m20 0h1m116 0h1m22 0h1m4 0h1m4 0h1m78 0h2m8 0h1m10 0h2m15 0h2m357 0h2m3 0h3m33 0h2m8 0h2m30 0h1m33 0h2m8 0h2M336 772.0h1m5 0h2m393 0h1m10 0h2m13 0h2m11 0h5m22 0h1m103 0h1m228 0h1m32 0h1m58 0h2m21 0h2m31 0h2m6 0h2m13 0h4m9 0h2m43 0h2m8 0h2m54 0h1m14 0h1m13 0h2m18 0h2m8 0h2m6 0h2m31 0h2m45 0h1m68 0h2m18 0h2m21 0h2M243 812.1h2m3 0h2m76 0h2m86 0h1m23 0h2m307 0h1m12 0h3m3 0h4m300 0h1m78 0h2m123 0h4m171 0h1m144 0h2m21 0h2m104 0h2m19 0h5m52 0h3m11 0h4"/>
<path stroke="#FF7E5E" d="M207 209.7h2m16 0h2m20 0h1m4 0h1m4 0h1m27 0h1m42 0h1m28 0h2m3 0h2m55 0h1m78 0h1m7 0h2m3 0h2m41 0h1m55 0h1m17 0h3m2 0h1m37 0h1m5 0h2m23 0h2m72 0h2m5 0h2m57 0h2m15 0h2m31 0h2m8 0h1m5 0h2m21 0h2m8 0h4m102 0h1m10 0h2m25 0h1m28 0h2m11 0h2m10 0h2m14 0h2m50 0h1m75 0h1m12 0h5m1 0h2m3 0h2m10 0h1m2 0h2m31 0h5m17 0h1m25 0h2m36 0h1m45 0h1m35 0h3m37 0h3m13 0h2m13 0h2m41 0h2m8 0h2m10 0h6m18 0h2m20 0h3m7 0h1m14 0h1m4 0h1m7 0h1m15 0h2m20 0h1m9 0h1m7 0h2m33 0h1m2 0h1m35 0h3m28 0h2M404 249.9h1m30 0h2m16 0h2m153 0h2m26 0h2m10 0h1m5 0h2m2 0h1m4 0h1m43 0h2m10 0h1m2 0h2m19 0h2m2 0h1m20 0h3m32 0h1m25 0h2m71 0h1m66 0h2m120 0h2m6 0h2m2 0h1m38 0h2m10 0h3m15 0h3m45 0h1m12 0h2m15 0h1m20 0h2m18 0h1m7 0h2m31 0h3m32 0h3m10 0h2m33 0h1m135 0h2m18 0h2m26 0h2m16 0h2m26 0h2m15 0h2m74 0h1m12 0h2m19 0h2m10 0h2m51 0h1m52 0h1"/>
<path stroke="#FF7352" d="M253 209.7h4m59 0h2m6 0h2m33 0h3m2 0h1m12 0h2m20 0h1m22 0h1m19 0h1m7 0h3m7 0h3m22 0h1m43 0h2m1 0h2m8 0h2m11 0h2m74 0h2m15 0h1m117 0h2m2 0h1m15 0h2m10 0h1m45 0h3m18 0h2m23 0h2m13 0h2m74 0h2m3 0h2m5 0h1m34 0h2m18 0h2m61 0h3m20 0h2m11 0h4m46 0h1m7 0h2m77 0h2m30 0h1m20 0h3m35 0h2m23 0h1m14 0h1m26 0h2m3 0h2m21 0h2m88 0h1m56 0h2m23 0h2m25 0h1m27 0h1m10 0h2m44 0h2m10 0h2m4 0h2m15 0h2m44 0h2m3 0h3m14 0h1m5 0h2m15 0h1m19 0h4m4 0h1M402 249.9h2m13 0h3m27 0h1m98 0h1m79 0h2m28 0h2m11 0h2m11 0h2m18 0h2m25 0h1m2 0h1m15 0h2m23 0h2m33 0h3m12 0h1m15 0h2m1 0h2m10 0h2m47 0h2m10 0h2m28 0h1m28 0h2m118 0h2m45 0h1m10 0h2m13 0h2m31 0h3m7 0h2m36 0h2m4 0h2m22 0h1m41 0h2m15 0h3m7 0h3m32 0h1m30 0h2m141 0h2m12 0h1m45 0h1m65 0h1m19 0h1m46 0h2m10 0h2m8 0h1m4 0h1m61 0h2m64 0h2"/>
<path stroke="#FF5B3A" d="M207 169.6h5m7 0h14m2 0h5m2 0h36m2 0h34m4 0h1m4 0h11m2 0h29m2 0h4m6 0h4m3 0h26m2 0h3m2 0h5m1 0h20m4 0h6m3 0h10m2 0h17m1 0h8m2 0h8m2 0h23m2 0h26m7 0h34m2 0h10m1 0h56m4 0h18m2 0h5m1 0h2m3 0h35m1 0h4m1 0h42m1 0h13m7 0h2m1 0h23m2 0h10m2 0h10m3 0h20m1 0h32m6 0h5m4 0h6m2 0h16m2 0h2m1 0h25m2 0h8m2 0h15m7 0h7m1 0h14m1 0h7m2 0h5m1 0h2m1 0h15m4 0h6m4 0h6m2 0h5m6 0h7m2 0h28m5 0h5m1 0h10m3 0h80m5 0h4m2 0h8m2 0h26m4 0h23m3 0h2m6 0h7m3 0h22m6 0h17m6 0h27m8 0h5m1 0h7m2 0h13m3 0h2m1 0h2m5 0h5m3 0h15m2 0h3m2 0h18m5 0h5m1 0h12m7 0h31m2 0h23m3 0h8m5 0h5m2 0h18m3 0h9m3 0h3m2 0h10m1 0h14m1 0h2m2 0h11m2 0h5m1 0h22m2 0h26m2 0h5m3 0h6m2 0h12m1 0h13m2 0h3m4 0h3m2 0h16m2 0h10m1 0h33m7 0h15m3 0h3M214 209.7h3m2 0h5m6 0h2m8 0h2m3 0h2m11 0h2m3 0h2m6 0h4m3 0h3m10 0h4m6 0h2m15 0h1m2 0h2m3 0h2m1 0h2m3 0h8m9 0h3m2 0h1m12 0h1m22 0h2m3 0h2m6 0h2m7 0h5m9 0h2m17 0h1m8 0h4m6 0h2m5 0h5m30 0h1m12 0h3m25 0h3m16 0h2m15 0h2m14 0h4m18 0h2m13 0h3m10 0h5m25 0h3m12 0h6m3 0h4m3 0h2m11 0h5m7 0h1m2 0h2m16 0h2m2 0h1m10 0h3m2 0h5m12 0h1m8 0h7m7 0h1m4 0h1m12 0h1m19 0h3m2 0h3m6 0h5m28 0h2m10 0h5m3 0h4m1 0h2m10 0h1m4 0h5m6 0h7m1 0h2m5 0h5m2 0h3m2 0h1m5 0h2m10 0h1m4 0h2m7 0h2m3 0h5m13 0h2m2 0h3m8 0h5m7 0h1m5 0h2m18 0h2m3 0h2m1 0h2m2 0h1m5 0h2m7 0h1m5 0h2m20 0h1m22 0h1m4 0h1m4 0h1m2 0h3m2 0h3m8 0h4m11 0h2m5 0h1m5 0h7m5 0h8m4 0h3m5 0h3m5 0h2m3 0h8m30 0h2m14 0h2m15 0h2m5 0h1m3 0h2m7 0h3m5 0h2m10 0h3m1 0h2m10 0h2m11 0h2m3 0h2m32 0h2m3 0h2m15 0h3m5 0h2m10 0h1m10 0h2m11 0h2m3 0h2m3 0h5m15 0h10m2 0h2m13 0h5m13 0h2m3 0h2m1 0h2m2 0h4m5 0h4m28 0h1m9 0h3m18 0h2m33 0h1m28 0h2m23 0h2m3 0h3m2 0h2m3 0h2m1 0h2m18 0h2m5 0h1m12 0h7m14 0h9m10 0h1m8 0h2M389 249.9h3m3 0h7m3 0h10m13 0h2m7 0h5m6 0h4m3 0h5m10 0h3m5 0h2m8 0h1m7 0h2m18 0h5m1 0h2m3 0h5m2 0h2m5 0h1m5 0h7m1 0h2m15 0h1m5 0h4m1 0h2m5 0h2m1 0h15m2 0h15m3 0h6m4 0h10m1 0h4m11 0h5m5 0h8m2 0h3m2 0h3m2 0h6m5 0h2m2 0h10m1 0h2m5 0h2m4 0h5m12 0h2m1 0h9m1 0h3m5 0h2m2 0h11m4 0h5m1 0h5m3 0h4m5 0h6m2 0h2m1 0h2m2 0h1m2 0h8m2 0h1m5 0h4m1 0h2m2 0h1m2 0h21m4 0h5m5 0h3m8 0h8m4 0h8m2 0h4m5 0h4m1 0h4m1 0h5m4 0h6m2 0h5m3 0h3m2 0h5m2 0h5m3 0h17m9 0h3m2 0h3m2 0h20m1 0h8m2 0h5m3 0h10m2 0h11m7 0h2m6 0h5m2 0h7m1 0h7m1 0h14m3 0h8m8 0h7m2 0h3m3 0h7m2 0h3m3 0h7m1 0h2m3 0h7m2 0h3m2 0h3m1 0h4m3 0h3m4 0h6m4 0h3m3 0h3m4 0h1m2 0h2m3 0h5m2 0h5m5 0h1m2 0h5m1 0h2m2 0h3m2 0h10m1 0h8m5 0h7m3 0h2m3 0h2m15 0h10m3 0h5m8 0h3m2 0h5m2 0h8m2 0h1m2 0h5m3 0h2m8 0h1m4 0h1m2 0h5m2 0h1m4 0h6m10 0h3m2 0h5m2 0h13m3 0h10m3 0h7m35 0h6m2 0h3m2 0h12m3 0h3m2 0h8m2 0h11m4 0h13m3 0h3m2 0h2m1 0h7m3 0h8m4 0h11m4 0h18m1 0h14m8 0h5m1 0h25m3 0h10m5 0h5m4 0h6m8 0h7m2 0h51m3 0h8m5 0h20m2 0h10m3 0h2m1 0h13m2 0h3M207 330.2h3m10 0h2m11 0h2m23 0h4m3 0h10m10 0h1m20 0h2m1 0h2m13 0h2m8 0h5m43 0h2m2 0h1m3 0h2m7 0h3m73 0h5m38 0h4m43 0h3m4 0h3m2 0h1m2 0h2m46 0h16m15 0h5m22 0h3m3 0h4m3 0h1m2 0h8m7 0h8m2 0h2m4 0h9m5 0h8m2 0h8m1 0h7m2 0h6m60 0h1m2 0h10m3 0h2m3 0h5m56 0h10m3 0h10m2 0h12m1 0h2m1 0h4m8 0h15m2 0h4m2 0h9m14 0h16m73 0h3m4 0h8m1 0h28m9 0h6m2 0h2m1 0h5m2 0h3m5 0h7m1 0h19m3 0h6m2 0h7m1 0h2m3 0h4m5 0h3m1 0h2m3 0h7m5 0h2m3 0h7m110 0h25m18 0h16m10 0h2m15 0h1m8 0h2m7 0h3m12 0h3m1 0h2m12 0h1m2 0h3m9 0h18m3 0h2m2 0h1m5 0h2m3 0h2m11 0h2m3 0h2m16 0h4m8 0h2m1 0h2m2 0h3m8 0h3m52 0h13m5 0h1m4 0h3m3 0h4m1 0h2m6 0h5m4 0h3m5 0h2m18 0h1m5 0h2m18 0h2m13 0h8m4 0h1m2 0h5m3 0h23m17 0h5m1 0h4m5 0h4m2 0h3M207 370.4h28m2 0h3m25 0h1m12 0h2m19 0h2m20 0h13m248 0h1m12 0h2m3 0h1m7 0h33m5 0h12m6 0h3m9 0h3m2 0h15m1 0h2m3 0h13m2 0h31m2 0h3m2 0h21m7 0h3m5 0h2m3 0h2m5 0h20m16 0h8m2 0h5m2 0h3m2 0h1m3 0h7m3 0h4m3 0h10m2 0h6m3 0h2m2 0h1m4 0h6m2 0h2m16 0h30m1 0h10m7 0h22m39 0h1m2 0h2m4 0h4m1 0h5m5 0h10m2 0h11m5 0h5m2 0h2m21 0h33m2 0h15m1 0h4m1 0h28m2 0h10m1 0h24m3 0h3m2 0h13m10 0h21m15 0h10m10 0h10m5 0h13m5 0h8m2 0h10m1 0h4m3 0h8m9 0h3m11 0h2m1 0h2m8 0h13m2 0h2m86 0h8m2 0h21m2 0h11m4 0h1m9 0h1m8 0h15m12 0h1m2 0h22m1 0h8m2 0h15m10 0h6m4 0h8m2 0h6m4 0h3m2 0h1m2 0h10m3 0h2m3 0h2m3 0h7m3 0h1m30 0h2m1 0h15m15 0h10m3 0h5m9 0h3m18 0h12m1 0h10m2 0h1M209 410.5h16m2 0h2m1 0h10m7 0h1m15 0h5m28 0h2m20 0h1m114 0h2m5 0h2m14 0h4m20 0h3m87 0h2m10 0h1m15 0h2m5 0h1m20 0h2m8 0h5m53 0h2m4 0h20m178 0h4m3 0h2m5 0h1m7 0h2m588 0h11M253 450.7h2m2 0h3m18 0h2m5 0h1m9 0h1m7 0h1m7 0h3m2 0h2m5 0h6m5 0h3m378 0h2m191 0h2m255 0h2m111 0h1M271 490.9h5m9 0h1m4 0h1m22 0h3m7 0h3m5 0h6m4 0h24m14 0h5m2 0h6m58 0h2m4 0h2m2 0h3m18 0h2m31 0h2m150 0h3m8 0h2m23 0h5m5 0h2m1 0h2m41 0h2m3 0h2m11 0h2m20 0h1m104 0h2m10 0h5m7 0h1m13 0h5m15 0h5m5 0h2m3 0h5m3 0h2m61 0h5m4 0h2m10 0h3m4 0h3m2 0h5m49 0h3m2 0h2m1 0h2m5 0h3m2 0h1m9 0h5m1 0h2m122 0h2m5 0h1m22 0h1m2 0h5m3 0h2m3 0h9m8 0h1m2 0h2m1 0h4m1 0h7m5 0h2m6 0h2m6 0h5m2 0h2m5 0h5m11 0h6m2 0h5m2 0h18m1 0h47m1 0h7m1 0h5m2 0h15m7 0h6m5 0h4m3 0h2m5 0h1m2 0h3m7 0h11m9 0h4m2 0h7m1 0h5m4 0h8m3 0h2m3 0h8m2 0h17m1 0h30m2 0h47m7 0h10m5 0h6m2 0h2m1 0h4m5 0h19m2 0h13m2 0h18m2 0h11m4 0h14m4 0h11m4 0h3m2 0h6M323 531.0h5m1 0h42m1055 0h20m1 0h22m1 0h23m2 0h20m1 0h22m8 0h37m1 0h47m1 0h10m2 0h11m2 0h12m1 0h25m2 0h6m5 0h20m2 0h8m1 0h12m2 0h1m5 0h12m1 0h7m2 0h3m3 0h2m2 0h8m3 0h8m4 0h21m3 0h12m7 0h3m2 0h1m2 0h5m1 0h7m2 0h13m2 0h14M686 571.2h3m7 0h1m652 0h1m15 0h2m6 0h7m20 0h1m43 0h11m4 0h1m7 0h2m8 0h2m3 0h1m5 0h4m5 0h1m4 0h1m7 0h3m2 0h1m2 0h2m8 0h3m4 0h1m45 0h2m3 0h3m5 0h2m3 0h2m3 0h3m20 0h5m5 0h2m8 0h3m20 0h3m15 0h5m5 0h2m2 0h1m25 0h2m1 0h2m2 0h1m15 0h3m10 0h2m2 0h1m5 0h3m2 0h8m7 0h2m1 0h2m8 0h2m3 0h2m8 0h2m8 0h5m11 0h2m2 0h3m3 0h2m5 0h3m7 0h1m7 0h7m3 0h2m5 0h1M275 691.7h5m1 0h2m16 0h4m6 0h2m8 0h5m8 0h2m3 0h5m7 0h2m26 0h10m300 0h4m5 0h1m338 0h10m2 0h6m7 0h1m25 0h3m2 0h2m10 0h1m152 0h7m49 0h5m2 0h3m2 0h1m5 0h9m1 0h9m4 0h5m4 0h6m5 0h2m2 0h1m2 0h3m5 0h2m5 0h1m2 0h7m3 0h7m1 0h2m8 0h18m2 0h28m3 0h11m4 0h26m2 0h1m2 0h15m91 0h2m1 0h4m1 0h15m3 0h10m15 0h2m11 0h2m2 0h28m1 0h5m2 0h2m1 0h3m5 0h4m1 0h9m31 0h5m3 0h8m10 0h2m8 0h7m2 0h3m6 0h7m10 0h3m7 0h6m15 0h10m5 0h3M1015 731.8h2m617 0h3M318 772.0h1m60 0h2m28 0h3m1015 0h4m6 0h5m5 0h3m9 0h1m22 0h1m2 0h3m15 0h7m3 0h3m4 0h1m82 0h1m28 0h7m11 0h2m25 0h5m1 0h2m12 0h1m2 0h3m2 0h1m10 0h2M377 812.1h5m22 0h3m13 0h2m10 0h3m7 0h1m121 0h4m180 0h4m1 0h7m11 0h4m356 0h1m28 0h4m1 0h2m178 0h13m68 0h13m2 0h3m2 0h3m1 0h27m2 0h6m2 0h15m1 0h12m1 0h12m2 0h1m2 0h5m68 0h1m40 0h20m31 0h5m5 0h5m3 0h2m10 0h3m8 0h5m5 0h2m3 0h4M379 852.3h2m313 0h8m23 0h2m33 0h2m61 0h1m467 0h1m48 0h2m8 0h2m41 0h2m67 0h3m80 0h1m85 0h8m150 0h2"/>
<path stroke="#FF4D2E" d="M224 209.7h1m23 0h2m73 0h1m7 0h1m49 0h3m41 0h3m9 0h1m10 0h2m13 0h2m3 0h3m15 0h2m3 0h2m23 0h2m1 0h2m26 0h2m161 0h2m2 0h1m4 0h5m6 0h2m6 0h2m20 0h2m72 0h2m1 0h2m188 0h1m12 0h2m21 0h2m43 0h1m116 0h1m7 0h2m11 0h2m69 0h2m31 0h2m105 0h2m8 0h2m129 0h1m114 0h2m26 0h2m135 0h2"/>
<path stroke="#FF3E22" d="M250 209.7h2m94 0h3m35 0h5m34 0h2m7 0h1m2 0h2m6 0h4m6 0h2m10 0h1m27 0h1m5 0h4m15 0h1m8 0h2m7 0h1m167 0h1m12 0h2m5 0h1m10 0h2m26 0h2m61 0h3m3 0h2m227 0h2m30 0h1m4 0h1m136 0h3m10 0h2m6 0h2m76 0h3m68 0h1m48 0h1m5 0h2m7 0h1m18 0h2m30 0h1m12 0h2m1 0h2m73 0h1m134 0h2m44 0h2m82 0h2"/>
<path stroke="#FF0000" d="M692 571.2h2M288 611.3h7m14 0h20m5 0h2m6 0h2m5 0h2m31 0h13m38 0h2m12 0h1m73 0h1m30 0h2m123 0h2m5 0h3m2 0h2m1 0h2m18 0h7m10 0h4m12 0h2m189 0h2m18 0h2m75 0h2m89 0h2m186 0h15m30 0h5m1 0h9m5 0h3m3 0h7m1 0h15m4 0h1m2 0h5m8 0h23m1 0h19m1 0h4m6 0h2m5 0h3m7 0h23m25 0h3m38 0h2m6 0h2m43 0h11m12 0h3m48 0h8m2 0h2m1 0h2m139 0h14m2 0h26M354 651.5h2m402 0h2m142 0h1m144 0h1m91 0h2m199 0h2m53 0h1m33 0h23m3 0h17m114 0h8m42 0h1m2 0h1m33 0h2m23 0h4m148 0h2m8 0h2"/>
</g>
<path d="M207 631.5H1909M207 752.2H1909M289.2 149V873" stroke="#fff" stroke-width="1.1"/>
<path fill="none" stroke="#000" stroke-width="1.5" stroke-linejoin="miter" d="M207.5 113.0V110.8H209.3V113.0M211.2 113.0V110.8H212.6V113.0M214.1 113.0V110.9H215.7V113.0M214.9 110.9V110.2H217.5V113.0M211.9 110.8V109.3H216.2V110.2M208.4 110.8V108.6H214.1V109.3M219.2 113.0V110.5H220.7V113.0M224.6 113.0V110.4H226.5V113.0M222.6 113.0V109.7H225.5V110.4M220.0 110.5V109.0H224.1V109.7M228.2 113.0V110.9H229.7V113.0M231.2 113.0V110.8H232.8V113.0M234.3 113.0V110.8H235.9V113.0M232.0 110.8V109.7H235.1V110.8M229.0 110.9V108.9H233.6V109.7M222.0 109.0V108.0H231.3V108.9M211.2 108.6V105.6H226.6V108.0M241.5 113.0V110.9H242.9V113.0M239.9 113.0V110.2H242.2V110.9M238.0 113.0V109.1H241.1V110.2M244.6 113.0V110.5H246.7V113.0M239.5 109.1V108.4H245.6V110.5M248.7 113.0V110.3H250.9V113.0M249.8 110.3V109.6H253.4V113.0M242.6 108.4V107.0H251.6V109.6M255.1 113.0V111.0H256.4V113.0M259.9 113.0V110.5H261.5V113.0M258.2 113.0V109.8H260.7V110.5M255.8 111.0V109.1H259.5V109.8M263.1 113.0V110.5H264.4V113.0M266.0 113.0V110.4H267.4V113.0M263.7 110.5V109.6H266.7V110.4M257.6 109.1V108.0H265.2V109.6M247.1 107.0V106.1H261.4V108.0M218.9 105.6V103.6H254.2V106.1M268.9 113.0V110.5H270.9V113.0M272.8 113.0V110.7H274.6V113.0M276.5 113.0V110.5H278.1V113.0M273.7 110.7V109.6H277.3V110.5M269.9 110.5V108.6H275.5V109.6M281.8 113.0V111.0H283.2V113.0M279.9 113.0V110.3H282.5V111.0M284.8 113.0V110.6H286.4V113.0M281.2 110.3V108.7H285.6V110.6M289.9 113.0V110.6H291.5V113.0M287.9 113.0V109.9H290.7V110.6M283.4 108.7V108.0H289.3V109.9M294.7 113.0V110.5H296.1V113.0M293.2 113.0V109.8H295.4V110.5M294.3 109.8V109.1H298.1V113.0M286.4 108.0V106.9H296.2V109.1M272.7 108.6V105.3H291.3V106.9M301.4 113.0V110.2H303.1V113.0M300.1 113.0V109.5H302.2V110.2M307.0 113.0V110.9H308.4V113.0M307.7 110.9V110.0H309.9V113.0M305.3 113.0V109.3H308.8V110.0M301.2 109.5V108.4H307.0V109.3M311.9 113.0V110.4H313.7V113.0M312.8 110.4V109.7H315.3V113.0M318.9 113.0V110.4H320.8V113.0M317.3 113.0V109.7H319.8V110.4M314.0 109.7V109.0H318.6V109.7M304.1 108.4V106.6H316.3V109.0M282.0 105.3V102.8H310.2V106.6M323.0 113.0V110.6H325.1V113.0M326.9 113.0V110.7H328.5V113.0M327.7 110.7V109.6H330.4V113.0M324.1 110.6V108.9H329.1V109.6M334.6 113.0V110.8H336.0V113.0M332.8 113.0V109.6H335.3V110.8M337.4 113.0V110.2H339.2V113.0M341.2 113.0V110.7H342.5V113.0M338.3 110.2V109.5H341.9V110.7M334.0 109.6V108.1H340.1V109.5M346.7 113.0V110.7H348.6V113.0M344.4 113.0V109.7H347.6V110.7M337.1 108.1V106.8H346.0V109.7M326.6 108.9V106.1H341.5V106.8M350.6 113.0V110.7H352.4V113.0M354.1 113.0V110.5H355.9V113.0M351.5 110.7V109.5H355.0V110.5M357.9 113.0V110.3H359.7V113.0M358.8 110.3V109.6H361.1V113.0M353.3 109.5V108.7H360.0V109.6M362.7 113.0V110.5H364.5V113.0M363.6 110.5V109.8H366.9V113.0M369.1 113.0V110.4H370.5V113.0M365.2 109.8V109.0H369.8V110.4M356.6 108.7V107.7H367.5V109.0M334.0 106.1V103.6H362.1V107.7M297.6 102.8V98.2H349.1V103.6M236.6 103.6V90.9H323.3V98.2M379.8 113.0V110.4H381.3V113.0M378.5 113.0V109.7H380.5V110.4M383.3 113.0V110.2H385.4V113.0M379.5 109.7V109.0H384.4V110.2M387.0 113.0V110.7H388.8V113.0M392.4 113.0V110.3H394.1V113.0M390.9 113.0V109.6H393.3V110.3M387.9 110.7V108.7H392.1V109.6M396.4 113.0V110.5H398.8V113.0M390.0 108.7V108.0H397.6V110.5M381.9 109.0V107.3H393.8V108.0M400.7 113.0V110.1H402.6V113.0M401.7 110.1V109.4H405.0V113.0M406.8 113.0V110.9H408.2V113.0M407.5 110.9V110.2H409.6V113.0M411.4 113.0V110.3H413.4V113.0M408.5 110.2V108.8H412.4V110.3M403.3 109.4V108.1H410.5V108.8M417.3 113.0V110.8H419.0V113.0M415.1 113.0V109.6H418.1V110.8M422.7 113.0V110.6H424.6V113.0M420.5 113.0V109.4H423.7V110.6M425.8 113.0V110.5H427.2V113.0M422.1 109.4V108.7H426.5V110.5M416.6 109.6V108.0H424.3V108.7M406.9 108.1V106.5H420.5V108.0M387.9 107.3V101.0H413.7V106.5M428.9 113.0V110.6H430.2V113.0M431.4 113.0V110.8H432.8V113.0M429.6 110.6V109.7H432.1V110.8M434.3 113.0V110.7H435.9V113.0M430.8 109.7V109.0H435.1V110.7M437.3 113.0V110.6H439.0V113.0M438.1 110.6V109.9H440.6V113.0M433.0 109.0V108.1H439.4V109.9M441.9 113.0V110.2H443.6V113.0M449.2 113.0V110.6H450.7V113.0M447.6 113.0V109.9H450.0V110.6M445.8 113.0V109.2H448.8V109.9M442.7 110.2V108.4H447.3V109.2M452.3 113.0V111.0H453.6V113.0M454.6 113.0V110.8H456.0V113.0M452.9 111.0V109.5H455.3V110.8M458.0 113.0V110.3H459.7V113.0M458.9 110.3V109.6H461.1V113.0M454.1 109.5V108.8H460.0V109.6M445.0 108.4V107.3H457.1V108.8M436.2 108.1V104.0H451.0V107.3M462.7 113.0V110.3H464.4V113.0M466.1 113.0V110.4H467.5V113.0M463.6 110.3V109.6H466.8V110.4M471.4 113.0V110.6H473.0V113.0M469.4 113.0V109.6H472.2V110.6M474.5 113.0V110.2H476.1V113.0M470.8 109.6V108.9H475.3V110.2M465.2 109.6V107.4H473.1V108.9M478.0 113.0V110.7H479.4V113.0M478.7 110.7V110.0H480.9V113.0M482.4 113.0V110.8H484.2V113.0M479.8 110.0V108.8H483.3V110.8M486.0 113.0V110.7H487.7V113.0M486.9 110.7V109.3H489.9V113.0M492.2 113.0V110.1H494.3V113.0M488.4 109.3V108.4H493.3V110.1M481.6 108.8V107.2H490.8V108.4M469.1 107.4V105.0H486.2V107.2M496.1 113.0V110.5H497.6V113.0M499.3 113.0V110.7H500.9V113.0M496.9 110.5V109.2H500.1V110.7M504.3 113.0V110.5H506.4V113.0M502.4 113.0V109.8H505.3V110.5M498.5 109.2V108.5H503.9V109.8M508.4 113.0V110.9H510.0V113.0M511.3 113.0V110.7H512.9V113.0M509.2 110.9V110.0H512.1V110.7M515.0 113.0V109.9H516.9V113.0M516.0 109.9V109.2H518.9V113.0M510.6 110.0V108.5H517.4V109.2M501.2 108.5V105.9H514.0V108.5M477.7 105.0V104.3H507.6V105.9M520.9 113.0V110.6H522.3V113.0M523.2 113.0V111.0H524.6V113.0M523.9 111.0V110.3H526.3V113.0M525.1 110.3V109.1H528.2V113.0M521.6 110.6V108.4H526.6V109.1M530.3 113.0V110.8H531.8V113.0M533.3 113.0V110.7H535.1V113.0M534.2 110.7V110.0H536.7V113.0M531.0 110.8V109.1H535.5V110.0M538.4 113.0V110.4H539.8V113.0M539.1 110.4V109.7H541.7V113.0M546.0 113.0V110.7H547.9V113.0M543.8 113.0V110.0H547.0V110.7M540.4 109.7V108.0H545.4V110.0M554.5 113.0V110.8H556.3V113.0M552.4 113.0V109.9H555.4V110.8M550.1 113.0V109.2H553.9V109.9M542.9 108.0V107.3H552.0V109.2M533.2 109.1V106.1H547.4V107.3M524.1 108.4V105.4H540.3V106.1M499.6 104.3V105.0H529.4V105.4M443.2 104.0V100.9H517.0V105.0M401.5 101.0V95.6H488.6V100.9M279.7 90.9V79.3H445.5V95.6M564.3 113.0V110.5H566.2V113.0M568.1 113.0V110.4H569.6V113.0M568.9 110.4V109.7H570.9V113.0M572.3 113.0V110.3H574.3V113.0M569.9 109.7V109.0H573.3V110.3M565.3 110.5V108.1H571.6V109.0M576.3 113.0V110.9H578.0V113.0M582.2 113.0V110.3H584.2V113.0M580.0 113.0V109.6H583.2V110.3M577.2 110.9V108.9H581.6V109.6M587.3 113.0V110.6H588.6V113.0M585.7 113.0V109.9H588.0V110.6M579.4 108.9V108.2H586.8V109.9M590.1 113.0V110.1H592.3V113.0M591.2 110.1V109.4H594.5V113.0M583.1 108.2V107.5H592.9V109.4M568.4 108.1V106.0H588.0V107.5M596.1 113.0V110.4H597.5V113.0M596.8 110.4V109.7H599.4V113.0M601.8 113.0V110.3H603.7V113.0M598.1 109.7V109.0H602.7V110.3M605.5 113.0V110.9H607.2V113.0M606.3 110.9V109.7H608.7V113.0M600.4 109.0V107.6H607.5V109.7M578.2 106.0V105.3H604.0V107.6M610.6 113.0V110.1H612.3V113.0M611.5 110.1V109.4H613.8V113.0M612.6 109.4V108.7H615.6V113.0M617.5 113.0V110.6H618.9V113.0M620.3 113.0V110.6H622.2V113.0M618.2 110.6V109.9H621.3V110.6M625.1 113.0V110.4H626.7V113.0M623.9 113.0V109.7H625.9V110.4M619.7 109.9V108.1H624.9V109.7M614.1 108.7V106.9H622.3V108.1M631.1 113.0V110.0H633.1V113.0M632.1 110.0V109.3H635.2V113.0M629.0 113.0V108.6H633.6V109.3M637.1 113.0V110.8H638.8V113.0M637.9 110.8V109.9H640.2V113.0M641.9 113.0V110.7H643.7V113.0M645.3 113.0V110.5H646.6V113.0M642.8 110.7V109.6H646.0V110.5M647.6 113.0V110.5H649.0V113.0M644.4 109.6V108.8H648.3V110.5M639.1 109.9V108.1H646.4V108.8M631.3 108.6V107.0H642.7V108.1M618.2 106.9V104.5H637.0V107.0M591.1 105.3V102.2H627.6V104.5M652.6 113.0V110.7H654.0V113.0M653.3 110.7V110.0H655.6V113.0M651.1 113.0V109.3H654.4V110.0M658.5 113.0V110.6H659.8V113.0M656.9 113.0V109.9H659.1V110.6M652.8 109.3V108.6H658.0V109.9M660.8 113.0V110.3H662.3V113.0M665.8 113.0V110.9H667.3V113.0M664.1 113.0V109.8H666.5V110.9M661.5 110.3V109.1H665.3V109.8M669.1 113.0V110.5H671.2V113.0M670.1 110.5V109.3H673.2V113.0M663.4 109.1V108.2H671.7V109.3M674.9 113.0V110.7H676.3V113.0M675.6 110.7V109.9H678.3V113.0M680.2 113.0V110.7H681.6V113.0M676.9 109.9V109.2H680.9V110.7M667.5 108.2V107.5H678.9V109.2M655.4 108.6V106.4H673.2V107.5M683.6 113.0V110.4H685.4V113.0M684.5 110.4V109.4H687.1V113.0M688.9 113.0V110.4H690.4V113.0M689.6 110.4V109.7H691.9V113.0M685.8 109.4V108.7H690.8V109.7M693.9 113.0V110.4H695.4V113.0M696.8 113.0V110.6H698.3V113.0M694.6 110.4V109.7H697.6V110.6M700.1 113.0V110.9H701.7V113.0M703.4 113.0V110.2H705.4V113.0M700.9 110.9V109.4H704.4V110.2M696.1 109.7V108.5H702.6V109.4M688.3 108.7V106.9H699.4V108.5M706.7 113.0V111.0H708.0V113.0M707.3 111.0V110.1H709.6V113.0M711.5 113.0V110.9H713.1V113.0M708.4 110.1V109.4H712.3V110.9M714.9 113.0V110.2H716.8V113.0M718.6 113.0V110.4H720.9V113.0M715.8 110.2V108.8H719.7V110.4M723.0 113.0V110.9H724.6V113.0M726.2 113.0V110.5H727.6V113.0M723.8 110.9V109.4H726.9V110.5M717.8 108.8V107.6H725.3V109.4M710.4 109.4V106.4H721.6V107.6M693.8 106.9V104.7H716.0V106.4M664.3 106.4V101.9H704.9V104.7M729.1 113.0V110.4H731.1V113.0M733.1 113.0V110.9H734.5V113.0M730.1 110.4V109.7H733.8V110.9M735.5 113.0V110.3H737.4V113.0M732.0 109.7V109.0H736.4V110.3M739.4 113.0V110.5H741.1V113.0M740.3 110.5V109.8H743.0V113.0M746.2 113.0V111.0H747.5V113.0M744.7 113.0V110.2H746.9V111.0M749.3 113.0V110.7H751.0V113.0M745.8 110.2V109.5H750.2V110.7M741.7 109.8V107.9H748.0V109.5M734.2 109.0V107.1H744.8V107.9M754.8 113.0V110.7H756.4V113.0M752.7 113.0V110.0H755.6V110.7M759.8 113.0V110.8H761.6V113.0M758.0 113.0V109.7H760.7V110.8M754.2 110.0V109.0H759.3V109.7M739.5 107.1V106.3H756.7V109.0M763.7 113.0V109.8H766.2V113.0M765.0 109.8V109.1H768.7V113.0M773.6 113.0V110.1H775.9V113.0M771.1 113.0V109.4H774.7V110.1M778.1 113.0V110.4H780.4V113.0M772.9 109.4V108.7H779.3V110.4M766.8 109.1V107.3H776.1V108.7M782.2 113.0V110.9H783.8V113.0M787.4 113.0V110.3H789.1V113.0M785.7 113.0V109.6H788.2V110.3M783.0 110.9V108.9H787.0V109.6M771.4 107.3V105.7H785.0V108.9M748.1 106.3V103.4H778.2V105.7M684.6 101.9V101.2H763.2V103.4M790.9 113.0V110.5H792.3V113.0M794.0 113.0V110.8H795.8V113.0M791.6 110.5V109.8H794.9V110.8M798.7 113.0V111.0H800.0V113.0M797.3 113.0V109.9H799.4V111.0M793.2 109.8V108.5H798.3V109.9M801.6 113.0V110.4H803.0V113.0M804.6 113.0V110.4H806.6V113.0M802.3 110.4V109.3H805.6V110.4M795.8 108.5V107.1H804.0V109.3M808.1 113.0V110.7H810.0V113.0M811.8 113.0V110.3H813.6V113.0M812.7 110.3V109.6H815.6V113.0M809.0 110.7V108.9H814.1V109.6M799.9 107.1V106.4H811.6V108.9M819.8 113.0V110.2H821.9V113.0M817.6 113.0V109.3H820.9V110.2M823.9 113.0V110.5H826.0V113.0M819.2 109.3V108.6H825.0V110.5M827.7 113.0V110.5H829.3V113.0M831.2 113.0V110.8H832.8V113.0M828.5 110.5V109.8H832.0V110.8M822.1 108.6V107.9H830.2V109.8M805.7 106.4V105.1H826.2V107.9M834.3 113.0V110.4H836.0V113.0M838.9 113.0V110.4H840.3V113.0M837.5 113.0V109.7H839.6V110.4M842.1 113.0V110.7H843.4V113.0M838.6 109.7V109.0H842.7V110.7M835.1 110.4V108.3H840.6V109.0M845.8 113.0V110.7H847.2V113.0M844.5 113.0V110.0H846.5V110.7M848.4 113.0V111.0H849.9V113.0M849.2 111.0V110.3H851.7V113.0M845.5 110.0V109.3H850.4V110.3M853.1 113.0V110.6H854.4V113.0M856.2 113.0V111.0H857.6V113.0M853.8 110.6V109.9H856.9V111.0M848.0 109.3V108.6H855.3V109.9M859.0 113.0V110.6H860.5V113.0M859.8 110.6V109.9H861.8V113.0M860.8 109.9V109.2H863.7V113.0M851.7 108.6V107.6H862.3V109.2M837.9 108.3V105.5H857.0V107.6M865.5 113.0V110.5H867.2V113.0M868.6 113.0V110.4H870.1V113.0M866.3 110.5V109.7H869.3V110.4M872.0 113.0V110.6H873.6V113.0M875.1 113.0V110.0H876.9V113.0M876.0 110.0V109.3H878.9V113.0M872.8 110.6V108.6H877.5V109.3M867.8 109.7V107.9H875.1V108.6M847.4 105.5V103.6H871.5V107.9M816.0 105.1V102.9H859.5V103.6M880.7 113.0V110.7H882.3V113.0M881.5 110.7V109.9H884.4V113.0M886.3 113.0V110.9H887.7V113.0M882.9 109.9V109.1H887.0V110.9M889.1 113.0V110.1H890.9V113.0M884.9 109.1V108.4H890.0V110.1M892.8 113.0V110.7H894.4V113.0M893.6 110.7V109.5H896.4V113.0M899.4 113.0V110.7H900.8V113.0M898.3 113.0V110.0H900.1V110.7M902.5 113.0V110.8H904.2V113.0M899.2 110.0V109.2H903.4V110.8M905.9 113.0V110.5H907.6V113.0M901.3 109.2V108.5H906.8V110.5M895.0 109.5V107.8H904.0V108.5M887.5 108.4V106.2H899.5V107.8M908.7 113.0V110.6H910.3V113.0M909.5 110.6V109.9H912.0V113.0M913.7 113.0V110.2H915.8V113.0M910.7 109.9V109.2H914.7V110.2M917.6 113.0V110.9H918.9V113.0M918.3 110.9V110.2H920.2V113.0M921.7 113.0V110.7H923.1V113.0M919.2 110.2V109.3H922.4V110.7M927.8 113.0V111.1H929.2V113.0M926.6 113.0V109.9H928.5V111.1M924.7 113.0V109.2H927.5V109.9M920.8 109.3V107.8H926.1V109.2M912.7 109.2V107.1H923.5V107.8M893.5 106.2V105.5H918.1V107.1M933.1 113.0V110.2H934.8V113.0M931.1 113.0V109.5H934.0V110.2M936.2 113.0V110.6H938.1V113.0M932.5 109.5V108.8H937.1V110.6M940.0 113.0V110.5H941.4V113.0M942.6 113.0V110.7H943.9V113.0M940.7 110.5V109.5H943.3V110.7M934.8 108.8V108.1H942.0V109.5M949.3 113.0V110.2H950.8V113.0M948.0 113.0V109.5H950.0V110.2M946.0 113.0V108.8H949.0V109.5M954.6 113.0V110.6H956.5V113.0M952.6 113.0V109.9H955.5V110.6M947.5 108.8V108.1H954.1V109.9M958.3 113.0V110.5H960.0V113.0M959.2 110.5V109.6H962.0V113.0M963.7 113.0V111.0H965.1V113.0M967.0 113.0V110.6H968.7V113.0M964.4 111.0V109.7H967.8V110.6M960.6 109.6V108.9H966.1V109.7M950.8 108.1V105.8H963.4V108.9M938.4 108.1V105.1H957.1V105.8M970.1 113.0V110.4H971.9V113.0M971.0 110.4V109.4H974.0V113.0M978.2 113.0V110.2H980.0V113.0M976.0 113.0V109.5H979.1V110.2M972.5 109.4V108.7H977.6V109.5M981.8 113.0V110.2H983.5V113.0M982.6 110.2V109.5H985.4V113.0M975.0 108.7V107.8H984.0V109.5M989.4 113.0V110.3H991.3V113.0M987.6 113.0V109.5H990.4V110.3M993.3 113.0V110.7H994.6V113.0M989.0 109.5V108.8H993.9V110.7M979.5 107.8V105.8H991.5V108.8M995.8 113.0V110.4H997.3V113.0M996.5 110.4V109.7H998.6V113.0M1000.1 113.0V110.4H1001.7V113.0M1003.4 113.0V110.3H1004.9V113.0M1004.1 110.3V109.6H1006.8V113.0M1000.9 110.4V108.7H1005.4V109.6M997.6 109.7V108.0H1003.2V108.7M985.5 105.8V105.1H1000.4V108.0M947.7 105.1V102.5H992.9V105.1M905.8 105.5V101.8H970.3V102.5M832.9 102.9V99.5H922.4V101.8M728.0 101.2V98.7H877.5V99.5M604.7 102.2V86.7H803.0V98.7M1015.5 113.0V110.5H1017.0V113.0M1016.3 110.5V109.8H1018.8V113.0M1020.5 113.0V110.1H1022.5V113.0M1017.5 109.8V109.1H1021.5V110.1M1024.8 113.0V110.4H1027.2V113.0M1029.4 113.0V110.3H1031.5V113.0M1034.8 113.0V110.4H1036.6V113.0M1033.4 113.0V109.7H1035.7V110.4M1030.4 110.3V109.0H1034.6V109.7M1026.0 110.4V108.1H1032.5V109.0M1019.5 109.1V107.4H1029.3V108.1M1038.9 113.0V110.3H1040.7V113.0M1039.8 110.3V109.6H1042.7V113.0M1045.0 113.0V110.0H1047.4V113.0M1049.3 113.0V110.2H1050.9V113.0M1046.2 110.0V109.3H1050.1V110.2M1041.2 109.6V108.6H1048.2V109.3M1024.4 107.4V104.8H1044.7V108.6M1054.4 113.0V110.2H1056.2V113.0M1052.8 113.0V109.5H1055.3V110.2M1058.2 113.0V110.8H1059.7V113.0M1059.0 110.8V109.8H1061.0V113.0M1054.0 109.5V108.8H1060.0V109.8M1062.5 113.0V109.9H1064.6V113.0M1057.0 108.8V108.1H1063.6V109.9M1069.1 113.0V110.5H1071.3V113.0M1067.0 113.0V109.7H1070.2V110.5M1073.2 113.0V110.8H1074.7V113.0M1073.9 110.8V110.1H1076.4V113.0M1068.6 109.7V109.0H1075.2V110.1M1060.3 108.1V106.7H1071.9V109.0M1034.5 104.8V102.4H1066.1V106.7M1078.3 113.0V110.4H1079.7V113.0M1079.0 110.4V109.7H1081.1V113.0M1080.0 109.7V109.0H1083.0V113.0M1085.4 113.0V109.9H1087.6V113.0M1089.5 113.0V110.7H1090.9V113.0M1086.5 109.9V109.1H1090.2V110.7M1092.1 113.0V110.5H1093.6V113.0M1095.2 113.0V110.6H1096.8V113.0M1092.9 110.5V109.8H1096.0V110.6M1088.3 109.1V107.7H1094.4V109.8M1081.5 109.0V107.0H1091.4V107.7M1098.1 113.0V110.6H1099.9V113.0M1102.0 113.0V110.8H1103.6V113.0M1102.8 110.8V110.1H1105.0V113.0M1099.0 110.6V109.4H1103.9V110.1M1106.5 113.0V110.1H1108.3V113.0M1101.4 109.4V108.7H1107.4V110.1M1110.6 113.0V110.7H1112.2V113.0M1111.4 110.7V110.0H1113.8V113.0M1115.9 113.0V110.7H1117.8V113.0M1112.6 110.0V108.8H1116.8V110.7M1119.4 113.0V110.1H1121.3V113.0M1122.8 113.0V110.4H1124.2V113.0M1120.3 110.1V109.4H1123.5V110.4M1114.7 108.8V108.1H1121.9V109.4M1104.4 108.7V107.4H1118.3V108.1M1086.5 107.0V103.7H1111.4V107.4M1050.3 102.4V101.4H1098.9V103.7M1127.7 113.0V110.7H1129.4V113.0M1126.0 113.0V109.4H1128.6V110.7M1131.5 113.0V110.9H1133.1V113.0M1134.7 113.0V110.8H1136.5V113.0M1135.6 110.8V109.5H1138.6V113.0M1132.3 110.9V108.8H1137.1V109.5M1127.3 109.4V108.0H1134.7V108.8M1142.3 113.0V110.8H1144.0V113.0M1140.4 113.0V109.8H1143.1V110.8M1145.5 113.0V110.3H1147.0V113.0M1141.8 109.8V108.9H1146.3V110.3M1148.3 113.0V110.2H1150.0V113.0M1152.1 113.0V110.2H1153.8V113.0M1149.2 110.2V109.5H1153.0V110.2M1157.8 113.0V109.8H1160.0V113.0M1155.5 113.0V109.1H1158.9V109.8M1161.9 113.0V110.8H1163.7V113.0M1157.2 109.1V108.4H1162.8V110.8M1151.1 109.5V107.1H1160.0V108.4M1144.0 108.9V106.4H1155.5V107.1M1131.0 108.0V105.7H1149.8V106.4M1165.5 113.0V110.2H1167.4V113.0M1166.5 110.2V109.5H1169.3V113.0M1171.1 113.0V110.8H1172.9V113.0M1172.0 110.8V109.8H1174.6V113.0M1167.9 109.5V108.8H1173.3V109.8M1176.5 113.0V110.4H1178.8V113.0M1177.7 110.4V109.4H1181.2V113.0M1184.3 113.0V110.5H1185.7V113.0M1183.1 113.0V109.8H1185.0V110.5M1187.7 113.0V110.6H1189.8V113.0M1188.7 110.6V109.4H1191.7V113.0M1184.0 109.8V108.7H1190.2V109.4M1179.4 109.4V107.0H1187.1V108.7M1170.6 108.8V105.5H1183.3V107.0M1193.9 113.0V110.2H1195.5V113.0M1196.8 113.0V110.2H1198.4V113.0M1194.7 110.2V109.5H1197.6V110.2M1200.1 113.0V110.8H1201.5V113.0M1203.5 113.0V109.7H1205.7V113.0M1200.8 110.8V108.9H1204.6V109.7M1196.1 109.5V107.6H1202.7V108.9M1209.8 113.0V110.7H1211.5V113.0M1208.0 113.0V109.7H1210.7V110.7M1213.2 113.0V110.3H1214.8V113.0M1216.7 113.0V110.5H1218.9V113.0M1214.0 110.3V109.6H1217.8V110.5M1209.3 109.7V108.7H1215.9V109.6M1221.2 113.0V110.4H1223.3V113.0M1225.0 113.0V110.5H1226.5V113.0M1222.2 110.4V109.2H1225.7V110.5M1228.5 113.0V110.0H1230.9V113.0M1224.0 109.2V108.0H1229.7V110.0M1212.6 108.7V106.0H1226.8V108.0M1199.4 107.6V105.3H1219.7V106.0M1176.9 105.5V103.8H1209.6V105.3M1235.0 113.0V110.7H1236.6V113.0M1233.0 113.0V110.0H1235.8V110.7M1240.3 113.0V110.6H1242.2V113.0M1238.2 113.0V109.9H1241.2V110.6M1234.4 110.0V108.9H1239.7V109.9M1245.6 113.0V110.2H1247.3V113.0M1244.0 113.0V109.5H1246.5V110.2M1237.1 108.9V108.2H1245.2V109.5M1249.2 113.0V110.6H1251.5V113.0M1250.3 110.6V109.6H1253.9V113.0M1257.9 113.0V110.9H1259.4V113.0M1256.0 113.0V110.2H1258.6V110.9M1252.1 109.6V108.2H1257.3V110.2M1263.0 113.0V110.7H1264.4V113.0M1261.0 113.0V110.0H1263.7V110.7M1254.7 108.2V107.0H1262.4V110.0M1241.1 108.2V106.3H1258.6V107.0M1193.3 103.8V99.8H1249.8V106.3M1140.4 105.7V99.1H1221.6V99.8M1079.3 101.4V98.0H1175.2V99.1M1267.0 113.0V110.9H1268.3V113.0M1265.6 113.0V110.2H1267.6V110.9M1272.1 113.0V110.6H1273.6V113.0M1270.2 113.0V109.9H1272.8V110.6M1266.6 110.2V109.1H1271.5V109.9M1275.5 113.0V110.4H1277.7V113.0M1279.5 113.0V110.7H1281.0V113.0M1282.7 113.0V110.4H1284.7V113.0M1283.7 110.4V109.7H1286.8V113.0M1280.2 110.7V108.8H1285.2V109.7M1276.6 110.4V108.1H1282.7V108.8M1269.1 109.1V106.5H1279.7V108.1M1288.4 113.0V110.7H1290.1V113.0M1294.1 113.0V111.0H1295.4V113.0M1292.3 113.0V110.0H1294.8V111.0M1289.3 110.7V109.3H1293.5V110.0M1298.6 113.0V110.3H1300.3V113.0M1296.7 113.0V109.6H1299.4V110.3M1291.4 109.3V108.2H1298.1V109.6M1274.4 106.5V105.2H1294.7V108.2M1301.9 113.0V110.6H1303.9V113.0M1302.9 110.6V109.6H1306.0V113.0M1310.2 113.0V110.4H1311.8V113.0M1308.2 113.0V109.7H1311.0V110.4M1304.5 109.6V108.8H1309.6V109.7M1315.0 113.0V111.0H1316.4V113.0M1313.5 113.0V110.0H1315.7V111.0M1317.9 113.0V110.4H1319.4V113.0M1314.6 110.0V109.3H1318.6V110.4M1307.0 108.8V107.1H1316.6V109.3M1323.3 113.0V110.5H1324.6V113.0M1321.4 113.0V109.6H1323.9V110.5M1326.3 113.0V110.8H1328.1V113.0M1322.7 109.6V108.9H1327.2V110.8M1329.9 113.0V110.6H1331.7V113.0M1330.8 110.6V109.9H1333.7V113.0M1324.9 108.9V107.4H1332.3V109.9M1311.8 107.1V106.4H1328.6V107.4M1284.5 105.2V102.0H1320.2V106.4M1337.8 113.0V110.8H1339.2V113.0M1335.9 113.0V110.1H1338.5V110.8M1340.5 113.0V110.6H1342.3V113.0M1337.2 110.1V109.3H1341.4V110.6M1344.4 113.0V110.1H1346.5V113.0M1348.5 113.0V110.2H1350.4V113.0M1345.4 110.1V109.3H1349.4V110.2M1339.3 109.3V107.9H1347.4V109.3M1354.6 113.0V110.7H1356.0V113.0M1352.8 113.0V110.0H1355.3V110.7M1357.9 113.0V110.3H1359.8V113.0M1354.0 110.0V109.2H1358.8V110.3M1361.8 113.0V110.1H1363.7V113.0M1365.2 113.0V110.6H1366.7V113.0M1362.8 110.1V109.1H1366.0V110.6M1356.4 109.2V107.7H1364.4V109.1M1343.4 107.9V106.8H1360.4V107.7M1368.3 113.0V110.9H1369.7V113.0M1371.4 113.0V110.2H1373.7V113.0M1369.0 110.9V109.5H1372.5V110.2M1375.6 113.0V110.7H1377.2V113.0M1379.2 113.0V110.4H1381.4V113.0M1380.3 110.4V109.3H1383.5V113.0M1376.4 110.7V108.6H1381.9V109.3M1387.7 113.0V110.8H1389.3V113.0M1385.7 113.0V109.7H1388.5V110.8M1379.1 108.6V107.9H1387.1V109.7M1370.8 109.5V106.3H1383.1V107.9M1390.7 113.0V110.3H1392.5V113.0M1396.3 113.0V110.9H1397.9V113.0M1394.6 113.0V110.2H1397.1V110.9M1391.6 110.3V109.2H1395.9V110.2M1400.0 113.0V110.1H1401.9V113.0M1403.6 113.0V110.9H1405.1V113.0M1400.9 110.1V109.2H1404.4V110.9M1406.6 113.0V110.3H1408.7V113.0M1402.7 109.2V108.5H1407.6V110.3M1411.0 113.0V110.3H1413.1V113.0M1415.2 113.0V110.3H1417.4V113.0M1412.1 110.3V109.6H1416.3V110.3M1405.1 108.5V107.0H1414.2V109.6M1393.7 109.2V105.9H1409.7V107.0M1377.0 106.3V103.1H1401.7V105.9M1351.9 106.8V102.4H1389.3V103.1M1301.6 102.0V98.0H1371.0V102.4M1127.1 98.0V91.3H1336.3V98.0M703.0 86.7V74.7H1232.1V91.3M362.5 79.3V68.3H968.0V74.7M1426.3 113.0V110.5H1428.3V113.0M1430.5 113.0V110.8H1432.2V113.0M1427.3 110.5V109.6H1431.4V110.8M1434.4 113.0V111.1H1435.8V113.0M1433.4 113.0V110.0H1435.1V111.1M1429.3 109.6V108.9H1434.2V110.0M1439.1 113.0V110.4H1440.7V113.0M1437.6 113.0V109.7H1439.9V110.4M1431.8 108.9V107.2H1438.7V109.7M1442.2 113.0V110.4H1443.8V113.0M1443.0 110.4V109.7H1445.9V113.0M1448.0 113.0V110.6H1449.5V113.0M1444.4 109.7V109.0H1448.7V110.6M1435.3 107.2V106.5H1446.6V109.0M1450.7 113.0V110.8H1452.0V113.0M1453.7 113.0V110.4H1456.2V113.0M1451.3 110.8V109.2H1455.0V110.4M1458.7 113.0V110.7H1460.8V113.0M1453.2 109.2V108.5H1459.7V110.7M1462.3 113.0V110.6H1464.1V113.0M1463.2 110.6V109.9H1466.2V113.0M1467.7 113.0V111.0H1469.1V113.0M1464.7 109.9V109.1H1468.4V111.0M1456.5 108.5V107.5H1466.6V109.1M1440.9 106.5V104.4H1461.5V107.5M1471.0 113.0V110.3H1473.0V113.0M1476.6 113.0V110.9H1478.3V113.0M1475.0 113.0V110.2H1477.5V110.9M1472.0 110.3V108.5H1476.2V110.2M1480.1 113.0V110.4H1482.0V113.0M1485.3 113.0V110.9H1486.6V113.0M1483.8 113.0V110.0H1485.9V110.9M1481.1 110.4V109.0H1484.9V110.0M1474.1 108.5V107.8H1483.0V109.0M1490.5 113.0V110.7H1492.5V113.0M1488.4 113.0V109.5H1491.5V110.7M1494.1 113.0V110.5H1495.8V113.0M1490.0 109.5V108.8H1494.9V110.5M1500.4 113.0V110.2H1502.2V113.0M1498.2 113.0V109.5H1501.3V110.2M1492.4 108.8V108.1H1499.7V109.5M1478.5 107.8V105.0H1496.1V108.1M1503.8 113.0V110.2H1505.4V113.0M1508.7 113.0V111.0H1510.0V113.0M1507.1 113.0V110.3H1509.3V111.0M1504.6 110.2V109.5H1508.2V110.3M1514.1 113.0V110.8H1515.7V113.0M1512.1 113.0V109.4H1514.9V110.8M1506.4 109.5V108.6H1513.5V109.4M1519.0 113.0V110.7H1520.4V113.0M1517.4 113.0V110.0H1519.7V110.7M1521.8 113.0V110.4H1523.8V113.0M1518.5 110.0V109.1H1522.8V110.4M1525.8 113.0V110.5H1527.1V113.0M1528.4 113.0V110.5H1529.8V113.0M1526.4 110.5V109.6H1529.1V110.5M1531.4 113.0V110.3H1533.5V113.0M1535.4 113.0V110.3H1537.0V113.0M1532.5 110.3V109.6H1536.2V110.3M1527.8 109.6V108.8H1534.3V109.6M1520.7 109.1V106.5H1531.0V108.8M1510.0 108.6V105.6H1525.9V106.5M1487.0 105.0V98.6H1518.7V105.6M1449.3 104.4V96.9H1502.7V98.6M1545.3 113.0V110.0H1547.2V113.0M1548.9 113.0V110.3H1550.5V113.0M1546.3 110.0V109.3H1549.7V110.3M1554.3 113.0V110.2H1556.1V113.0M1552.4 113.0V109.5H1555.2V110.2M1548.0 109.3V108.5H1553.8V109.5M1561.8 113.0V110.9H1563.2V113.0M1560.3 113.0V110.2H1562.5V110.9M1558.2 113.0V109.5H1561.4V110.2M1565.2 113.0V110.5H1567.3V113.0M1559.8 109.5V108.8H1566.2V110.5M1550.9 108.5V107.3H1563.0V108.8M1569.1 113.0V110.3H1571.1V113.0M1573.3 113.0V110.8H1574.7V113.0M1575.8 113.0V110.2H1577.4V113.0M1576.6 110.2V109.5H1579.1V113.0M1574.0 110.8V108.8H1577.9V109.5M1570.1 110.3V108.1H1575.9V108.8M1557.0 107.3V104.5H1573.0V108.1M1580.5 113.0V110.7H1582.1V113.0M1584.0 113.0V110.6H1585.4V113.0M1581.3 110.7V109.9H1584.7V110.6M1586.7 113.0V110.3H1588.6V113.0M1590.5 113.0V110.5H1592.1V113.0M1587.7 110.3V109.5H1591.3V110.5M1595.9 113.0V110.9H1597.4V113.0M1594.0 113.0V109.5H1596.6V110.9M1589.5 109.5V108.3H1595.3V109.5M1583.0 109.9V107.6H1592.4V108.3M1599.1 113.0V110.7H1601.1V113.0M1603.3 113.0V110.5H1605.3V113.0M1600.1 110.7V109.0H1604.3V110.5M1607.2 113.0V110.2H1608.9V113.0M1608.0 110.2V109.5H1610.6V113.0M1602.2 109.0V108.3H1609.3V109.5M1612.8 113.0V109.9H1615.0V113.0M1617.0 113.0V110.6H1618.7V113.0M1620.2 113.0V111.1H1621.6V113.0M1617.8 110.6V109.9H1620.9V111.1M1622.9 113.0V111.1H1624.2V113.0M1619.3 109.9V108.6H1623.6V111.1M1613.9 109.9V107.9H1621.5V108.6M1605.8 108.3V106.6H1617.7V107.9M1587.7 107.6V104.3H1611.7V106.6M1565.0 104.5V102.1H1599.7V104.3M1627.8 113.0V110.3H1629.7V113.0M1626.0 113.0V109.6H1628.8V110.3M1631.6 113.0V110.9H1633.0V113.0M1636.3 113.0V110.4H1637.6V113.0M1634.5 113.0V109.7H1637.0V110.4M1632.3 110.9V109.0H1635.7V109.7M1627.4 109.6V108.3H1634.0V109.0M1641.2 113.0V110.9H1642.9V113.0M1639.2 113.0V110.2H1642.1V110.9M1644.3 113.0V110.3H1645.9V113.0M1640.6 110.2V109.3H1645.1V110.3M1630.7 108.3V107.0H1642.8V109.3M1647.9 113.0V110.4H1649.7V113.0M1648.8 110.4V109.7H1651.1V113.0M1652.9 113.0V110.5H1654.3V113.0M1650.0 109.7V109.0H1653.6V110.5M1657.6 113.0V110.1H1659.4V113.0M1655.6 113.0V109.4H1658.5V110.1M1651.8 109.0V107.8H1657.0V109.4M1661.1 113.0V110.2H1663.0V113.0M1665.8 113.0V110.6H1667.4V113.0M1664.4 113.0V109.9H1666.6V110.6M1662.1 110.2V109.2H1665.5V109.9M1654.4 107.8V106.7H1663.8V109.2M1636.8 107.0V105.6H1659.1V106.7M1671.0 113.0V110.8H1672.6V113.0M1669.4 113.0V110.1H1671.8V110.8M1676.9 113.0V110.4H1678.4V113.0M1674.8 113.0V109.7H1677.7V110.4M1676.2 109.7V109.0H1680.1V113.0M1670.6 110.1V108.3H1678.2V109.0M1682.5 113.0V110.5H1684.7V113.0M1686.4 113.0V110.4H1687.9V113.0M1683.6 110.5V109.5H1687.1V110.4M1674.4 108.3V107.2H1685.3V109.5M1647.9 105.6V103.3H1679.9V107.2M1689.2 113.0V110.3H1690.8V113.0M1690.0 110.3V109.6H1693.0V113.0M1695.2 113.0V110.5H1697.3V113.0M1691.5 109.6V108.9H1696.3V110.5M1699.4 113.0V110.4H1701.4V113.0M1703.4 113.0V110.3H1705.3V113.0M1700.4 110.4V109.6H1704.4V110.3M1709.1 113.0V110.3H1710.8V113.0M1710.0 110.3V109.6H1712.9V113.0M1707.4 113.0V108.9H1711.4V109.6M1714.8 113.0V110.3H1716.5V113.0M1709.4 108.9V108.2H1715.7V110.3M1702.4 109.6V107.5H1712.5V108.2M1693.9 108.9V106.8H1707.5V107.5M1717.9 113.0V110.3H1719.6V113.0M1721.3 113.0V111.0H1722.8V113.0M1722.1 111.0V110.3H1724.4V113.0M1718.8 110.3V109.6H1723.2V110.3M1726.1 113.0V110.7H1727.6V113.0M1726.9 110.7V110.0H1729.1V113.0M1721.0 109.6V107.7H1728.0V110.0M1730.4 113.0V110.7H1732.2V113.0M1734.0 113.0V110.5H1735.5V113.0M1731.3 110.7V109.1H1734.7V110.5M1737.7 113.0V110.7H1739.7V113.0M1741.7 113.0V110.2H1743.9V113.0M1738.7 110.7V109.5H1742.8V110.2M1733.0 109.1V108.4H1740.7V109.5M1724.5 107.7V106.7H1736.9V108.4M1700.7 106.8V102.5H1730.7V106.7M1663.9 103.3V100.7H1715.7V102.5M1747.8 113.0V110.3H1749.4V113.0M1745.9 113.0V109.6H1748.6V110.3M1750.6 113.0V110.3H1752.1V113.0M1751.4 110.3V109.6H1754.0V113.0M1752.7 109.6V108.9H1755.9V113.0M1747.2 109.6V108.2H1754.3V108.9M1757.4 113.0V110.9H1758.8V113.0M1758.1 110.9V110.2H1760.4V113.0M1764.0 113.0V110.9H1765.4V113.0M1762.2 113.0V110.2H1764.7V110.9M1759.2 110.2V109.1H1763.5V110.2M1769.4 113.0V109.9H1771.5V113.0M1767.4 113.0V109.2H1770.4V109.9M1761.3 109.1V108.4H1768.9V109.2M1775.6 113.0V110.7H1777.4V113.0M1773.6 113.0V109.5H1776.5V110.7M1778.6 113.0V110.6H1780.1V113.0M1779.3 110.6V109.7H1782.0V113.0M1775.0 109.5V108.6H1780.6V109.7M1765.1 108.4V106.0H1777.8V108.6M1750.8 108.2V105.3H1771.5V106.0M1783.6 113.0V110.8H1785.3V113.0M1787.0 113.0V111.0H1788.3V113.0M1787.7 111.0V109.8H1789.6V113.0M1788.6 109.8V109.1H1791.6V113.0M1784.4 110.8V108.3H1790.1V109.1M1795.5 113.0V110.0H1797.6V113.0M1793.7 113.0V109.3H1796.6V110.0M1799.9 113.0V110.3H1801.6V113.0M1800.7 110.3V109.6H1803.1V113.0M1795.1 109.3V108.5H1801.9V109.6M1805.1 113.0V110.6H1806.8V113.0M1810.6 113.0V110.5H1812.2V113.0M1811.4 110.5V109.6H1814.1V113.0M1808.8 113.0V108.9H1812.8V109.6M1805.9 110.6V108.2H1810.8V108.9M1798.5 108.5V106.4H1808.4V108.2M1787.3 108.3V105.7H1803.4V106.4M1761.1 105.3V104.1H1795.4V105.7M1817.8 113.0V110.2H1819.3V113.0M1815.9 113.0V109.5H1818.6V110.2M1820.7 113.0V110.5H1822.4V113.0M1817.2 109.5V108.8H1821.6V110.5M1824.2 113.0V110.7H1826.2V113.0M1828.0 113.0V110.8H1829.6V113.0M1825.2 110.7V109.3H1828.8V110.8M1819.4 108.8V107.9H1827.0V109.3M1830.6 113.0V110.5H1832.1V113.0M1831.4 110.5V109.8H1833.9V113.0M1835.6 113.0V110.1H1837.7V113.0M1839.8 113.0V110.8H1841.4V113.0M1836.6 110.1V108.9H1840.6V110.8M1832.7 109.8V108.2H1838.6V108.9M1823.2 107.9V107.2H1835.6V108.2M1842.9 113.0V110.6H1844.5V113.0M1846.0 113.0V110.2H1847.6V113.0M1849.5 113.0V110.6H1851.4V113.0M1846.8 110.2V109.1H1850.5V110.6M1843.7 110.6V108.2H1848.6V109.1M1853.2 113.0V110.4H1854.9V113.0M1854.0 110.4V109.7H1857.1V113.0M1859.0 113.0V110.3H1860.5V113.0M1855.6 109.7V109.0H1859.7V110.3M1846.2 108.2V107.5H1857.7V109.0M1829.4 107.2V105.4H1851.9V107.5M1864.1 113.0V110.8H1865.9V113.0M1862.1 113.0V110.1H1865.0V110.8M1867.2 113.0V111.0H1868.8V113.0M1874.1 113.0V110.4H1875.8V113.0M1872.4 113.0V109.7H1874.9V110.4M1870.6 113.0V109.0H1873.7V109.7M1868.0 111.0V108.3H1872.1V109.0M1863.5 110.1V107.6H1870.1V108.3M1877.3 113.0V110.5H1879.2V113.0M1881.0 113.0V110.5H1882.5V113.0M1878.2 110.5V109.1H1881.8V110.5M1866.8 107.6V106.9H1880.0V109.1M1885.6 113.0V110.8H1887.5V113.0M1884.2 113.0V109.8H1886.6V110.8M1891.2 113.0V110.6H1892.6V113.0M1889.6 113.0V109.9H1891.9V110.6M1885.4 109.8V108.8H1890.8V109.9M1894.4 113.0V110.3H1896.1V113.0M1895.2 110.3V109.6H1897.6V113.0M1899.2 113.0V110.8H1900.6V113.0M1896.4 109.6V108.9H1899.9V110.8M1904.0 113.0V110.8H1905.3V113.0M1902.1 113.0V110.0H1904.6V110.8M1906.4 113.0V110.8H1907.8V113.0M1903.4 110.0V109.3H1907.1V110.8M1898.2 108.9V107.5H1905.2V109.3M1888.1 108.8V106.7H1901.7V107.5M1873.4 106.9V103.4H1894.9V106.7M1840.7 105.4V99.8H1884.1V103.4M1782.3 104.1V97.7H1857.0V99.8M1682.1 100.7V93.4H1819.5V97.7M1582.0 102.1V91.0H1751.8V93.4M1476.0 96.9V77.8H1666.7V91.0M665.0 68.3V33.3H1571.2V77.8"/><rect x="207.0" y="111.3" width="164.0" height="2.9" fill="#000"/><rect x="377.7" y="111.3" width="179.3" height="2.9" fill="#000"/><rect x="563.5" y="111.3" width="444.5" height="2.9" fill="#000"/><rect x="1015.0" y="111.3" width="403.4" height="2.9" fill="#000"/><rect x="1425.5" y="111.3" width="112.3" height="2.9" fill="#000"/><rect x="1544.6" y="111.3" width="364.0" height="2.9" fill="#000"/>
<rect x="207.0" y="117.7" width="164.0" height="24.1" fill="#DF536B"/><rect x="377.7" y="117.7" width="179.3" height="24.1" fill="#CD0BBC"/><rect x="563.5" y="117.7" width="444.5" height="24.1" fill="#28E2E5"/><rect x="1015.0" y="117.7" width="403.4" height="24.1" fill="#2297E6"/><rect x="1425.5" y="117.7" width="112.3" height="24.1" fill="#61D04F"/><rect x="1544.6" y="117.7" width="364.0" height="24.1" fill="#DF536B"/>
<path fill="none" stroke="#333" stroke-width="1.4" d="M1911.4 169.6H1940.0V209.8H1911.4M1911.4 249.9H1928.0V290.1H1911.4M1940.0 189.7H1942.2V270.0H1928.0M1911.4 370.4H1932.5V410.6H1911.4M1911.4 330.2H1934.7V390.5H1932.5M1934.7 360.4H1940.8V450.7H1911.4M1942.2 229.8H1946.2V405.5H1940.8M1911.4 490.9H1921.2V531.0H1911.4M1911.4 611.4H1925.2V651.5H1911.4M1911.4 571.2H1930.6V631.4H1925.2M1930.6 601.3H1932.7V691.7H1911.4M1921.2 511.0H1939.3V646.5H1932.7M1911.4 772.0H1929.5V812.2H1911.4M1929.5 792.1H1935.9V852.3H1911.4M1911.4 731.8H1937.2V822.2H1935.9M1939.3 578.7H1948.9V777.0H1937.2M1946.2 317.7H1980.0V677.9H1948.9"/>
<defs><linearGradient id="cb" x1="0" y1="0" x2="0" y2="1"><stop offset="0.000" stop-color="#FF0000"/><stop offset="0.050" stop-color="#FF3E22"/><stop offset="0.100" stop-color="#FF5B3A"/><stop offset="0.150" stop-color="#FF7352"/><stop offset="0.200" stop-color="#FF8969"/><stop offset="0.250" stop-color="#FF9E81"/><stop offset="0.300" stop-color="#FFB299"/><stop offset="0.350" stop-color="#FFC6B2"/><stop offset="0.400" stop-color="#FFD9CB"/><stop offset="0.450" stop-color="#FFECE5"/><stop offset="0.500" stop-color="#FFFFFF"/><stop offset="0.550" stop-color="#F2E7FF"/><stop offset="0.600" stop-color="#E3D0FF"/><stop offset="0.650" stop-color="#D4B9FF"/><stop offset="0.700" stop-color="#C4A2FF"/><stop offset="0.750" stop-color="#B38BFF"/><stop offset="0.800" stop-color="#A074FF"/><stop offset="0.850" stop-color="#8A5DFF"/><stop offset="0.900" stop-color="#7145FF"/><stop offset="0.950" stop-color="#502BFF"/><stop offset="1.000" stop-color="#0000FF"/></linearGradient></defs><rect x="1969" y="43.8" width="42.2" height="214.7" fill="url(#cb)"/><path d="M1969 97.4h8.5m25.2 0h8.5" stroke="#fff" stroke-width="1"/><path d="M1969 204.3h8.5m25.2 0h8.5" stroke="#fff" stroke-width="1"/>
<g stroke="#8E8E8E" stroke-width="1.6">
<rect x="354.8" y="941.0" width="167.5" height="46.3" fill="#EECBF8"/>
<rect x="354.8" y="989.5" width="167.5" height="531.5" fill="#5A57F8"/>
<rect x="354.8" y="1523.0" width="167.5" height="46.0" fill="#05BD78"/>
<rect x="354.8" y="1571.0" width="167.5" height="46.0" fill="#FC9F40"/>
<rect x="354.8" y="1619.0" width="167.5" height="45.5" fill="#FFBE80"/>
<rect x="354.8" y="1666.7" width="167.5" height="289.8" fill="#FF8080"/>
<rect x="354.8" y="1958.5" width="167.5" height="45.5" fill="#CCF7E6"/>
<rect x="582.8" y="940.0" width="167.2" height="438.0" fill="#B855D8"/>
<rect x="582.8" y="1380.0" width="167.2" height="61.0" fill="#EECBF8"/>
<rect x="582.8" y="1443.0" width="167.2" height="29.4" fill="#5A57F8"/>
<rect x="582.8" y="1474.5" width="167.2" height="154.5" fill="#05BD78"/>
<rect x="582.8" y="1631.0" width="167.2" height="91.4" fill="#45F0B0"/>
<rect x="582.8" y="1724.5" width="167.2" height="61.3" fill="#FC9F40"/>
<rect x="582.8" y="1788.0" width="167.2" height="28.7" fill="#066845"/>
<rect x="582.8" y="1819.0" width="167.2" height="28.6" fill="#FFBE80"/>
<rect x="582.8" y="1850.0" width="167.2" height="60.6" fill="#F86295"/>
<rect x="582.8" y="1913.0" width="167.2" height="60.6" fill="#8C90CF"/>
<rect x="582.8" y="1975.6" width="167.2" height="28.4" fill="#8FBEFB"/>
<rect x="811.4" y="940.7" width="167.3" height="239.0" fill="#B855D8"/>
<rect x="811.4" y="1181.7" width="167.3" height="435.0" fill="#EECBF8"/>
<rect x="811.4" y="1619.5" width="167.3" height="163.8" fill="#5A57F8"/>
<rect x="811.4" y="1786.0" width="167.3" height="40.8" fill="#05BD78"/>
<rect x="811.4" y="1830.0" width="167.3" height="27.5" fill="#45F0B0"/>
<rect x="811.4" y="1861.0" width="167.3" height="4.5" fill="#FC9F40"/>
<rect x="811.4" y="1869.5" width="167.3" height="8.9" fill="#066845"/>
<rect x="811.4" y="1882.0" width="167.3" height="36.0" fill="#FFBE80"/>
<rect x="811.4" y="1919.8" width="167.3" height="3.2" fill="#fff"/>
<rect x="811.4" y="1926.0" width="167.3" height="17.8" fill="#F86295"/>
<rect x="811.4" y="1945.7" width="167.3" height="2.5" fill="#fff"/>
<rect x="811.4" y="1949.8" width="167.3" height="2.5" fill="#fff"/>
<rect x="811.4" y="1954.0" width="167.3" height="2.5" fill="#fff"/>
<rect x="811.4" y="1957.5" width="167.3" height="1.5" fill="#fff"/>
<rect x="811.4" y="1960.4" width="167.3" height="5.2" fill="#CCF7E6"/>
<rect x="811.4" y="1969.7" width="167.3" height="12.6" fill="#A0FCA0"/>
<rect x="811.4" y="1986.6" width="167.3" height="4.0" fill="#C0BEFB"/>
<rect x="811.4" y="1994.6" width="167.3" height="4.4" fill="#8FBEFB"/>
<rect x="811.4" y="2001.6" width="167.3" height="3.4" fill="#3B0058" stroke="none"/>
<rect x="1039.2" y="936.5" width="167.6" height="194.0" fill="#B855D8"/>
<rect x="1039.2" y="1132.5" width="167.6" height="268.3" fill="#EECBF8"/>
<rect x="1039.2" y="1403.0" width="167.6" height="62.0" fill="#5A57F8"/>
<rect x="1039.2" y="1468.0" width="167.6" height="102.7" fill="#05BD78"/>
<rect x="1039.2" y="1574.5" width="167.6" height="44.2" fill="#45F0B0"/>
<rect x="1039.2" y="1622.5" width="167.6" height="97.8" fill="#FC9F40"/>
<rect x="1039.2" y="1725.0" width="167.6" height="59.3" fill="#066845"/>
<rect x="1039.2" y="1788.4" width="167.6" height="49.6" fill="#FFBE80"/>
<rect x="1039.2" y="1842.0" width="167.6" height="17.4" fill="#FF8080"/>
<rect x="1039.2" y="1863.5" width="167.6" height="17.3" fill="#F86295"/>
<rect x="1039.2" y="1885.0" width="167.6" height="17.4" fill="#F64BD6"/>
<rect x="1039.2" y="1906.0" width="167.6" height="28.2" fill="#8C90CF"/>
<rect x="1039.2" y="1938.2" width="167.6" height="6.3" fill="#FEE0E0"/>
<rect x="1039.2" y="1949.0" width="167.6" height="6.2" fill="#CCF7E6"/>
<rect x="1039.2" y="1959.8" width="167.6" height="11.4" fill="#A0FCA0"/>
<rect x="1039.2" y="1975.9" width="167.6" height="6.4" fill="#F64040"/>
<rect x="1039.2" y="1986.6" width="167.6" height="6.4" fill="#8FBEFB"/>
<rect x="1039.2" y="1995.6" width="167.6" height="4.4" fill="#FFC0DE"/>
<rect x="1039.2" y="2001.0" width="167.6" height="4.0" fill="#A00008" stroke="none"/>
<rect x="1267.4" y="939.4" width="167.9" height="224.0" fill="#B855D8"/>
<rect x="1267.4" y="1165.4" width="167.9" height="334.6" fill="#5A57F8"/>
<rect x="1267.4" y="1503.3" width="167.9" height="108.5" fill="#45F0B0"/>
<rect x="1267.4" y="1615.4" width="167.9" height="80.6" fill="#FC9F40"/>
<rect x="1267.4" y="1700.0" width="167.9" height="24.4" fill="#F86295"/>
<rect x="1267.4" y="1727.6" width="167.9" height="108.6" fill="#F64BD6"/>
<rect x="1267.4" y="1840.2" width="167.9" height="23.6" fill="#8C90CF"/>
<rect x="1267.4" y="1867.9" width="167.9" height="52.4" fill="#FEE0E0"/>
<rect x="1267.4" y="1924.4" width="167.9" height="23.6" fill="#CCF7E6"/>
<rect x="1267.4" y="1952.0" width="167.9" height="23.6" fill="#F64040"/>
<rect x="1267.4" y="1979.3" width="167.9" height="24.7" fill="#D3D3D3"/>
<rect x="1495.6" y="936.5" width="167.4" height="253.2" fill="#B855D8"/>
<rect x="1495.6" y="1192.0" width="167.4" height="124.8" fill="#EECBF8"/>
<rect x="1495.6" y="1319.5" width="167.4" height="157.7" fill="#5A57F8"/>
<rect x="1495.6" y="1480.4" width="167.4" height="78.6" fill="#05BD78"/>
<rect x="1495.6" y="1562.3" width="167.4" height="53.7" fill="#45F0B0"/>
<rect x="1495.6" y="1619.7" width="167.4" height="24.8" fill="#FC9F40"/>
<rect x="1495.6" y="1648.2" width="167.4" height="66.0" fill="#066845"/>
<rect x="1495.6" y="1717.9" width="167.4" height="19.1" fill="#FFBE80"/>
<rect x="1495.6" y="1740.8" width="167.4" height="31.5" fill="#FF8080"/>
<rect x="1495.6" y="1775.3" width="167.4" height="24.7" fill="#F86295"/>
<rect x="1495.6" y="1803.8" width="167.4" height="37.1" fill="#F64BD6"/>
<rect x="1495.6" y="1844.6" width="167.4" height="20.4" fill="#8C90CF"/>
<rect x="1495.6" y="1868.7" width="167.4" height="41.8" fill="#FEE0E0"/>
<rect x="1495.6" y="1913.9" width="167.4" height="8.5" fill="#CCF7E6"/>
<rect x="1495.6" y="1925.0" width="167.4" height="3.0" fill="#fff"/>
<rect x="1495.6" y="1931.0" width="167.4" height="20.0" fill="#C0BEFB"/>
<rect x="1495.6" y="1954.6" width="167.4" height="25.2" fill="#F64040"/>
<rect x="1495.6" y="1983.5" width="167.4" height="8.2" fill="#D3D3D3"/>
<rect x="1495.6" y="1994.6" width="167.4" height="10.1" fill="#966020"/>
<path d="M354.8 941.0V2004.0M522.3 941.0V2004.0" fill="none"/>
<path d="M582.8 940.0V2004.0M750.0 940.0V2004.0" fill="none"/>
<path d="M811.4 940.7V2005.0M978.7 940.7V2005.0" fill="none"/>
<path d="M1039.2 936.5V2005.0M1206.8 936.5V2005.0" fill="none"/>
<path d="M1267.4 939.4V2004.0M1435.3 939.4V2004.0" fill="none"/>
<path d="M1495.6 936.5V2004.7M1663.0 936.5V2004.7" fill="none"/>
</g>
<g stroke="#5C5C99" stroke-width="1.6" stroke-linejoin="round"><path d="M391.3 2227.5L391.3 2120.4A111.8 107.1 0 0 1 440.3 2323.8Z" fill="#CBDFF8"/><path d="M391.3 2227.5L440.3 2323.8A111.8 107.1 0 0 1 314.3 2305.2Z" fill="#99CCFF"/><path d="M391.3 2227.5L314.3 2305.2A111.8 107.1 0 0 1 293.7 2279.7Z" fill="#6699CC"/><path d="M391.3 2227.5L293.7 2279.7A111.8 107.1 0 0 1 391.3 2120.4Z" fill="#666699"/></g>
<g stroke="#5C5C99" stroke-width="1.6" stroke-linejoin="round"><path d="M630.5 2232.3L630.5 2125.6A112.4 106.7 0 0 1 699.7 2316.4Z" fill="#CBDFF8"/><path d="M630.5 2232.3L699.7 2316.4A112.4 106.7 0 0 1 520.9 2208.7Z" fill="#99CCFF"/><path d="M630.5 2232.3L520.9 2208.7A112.4 106.7 0 0 1 588.0 2133.5Z" fill="#6699CC"/><path d="M630.5 2232.3L588.0 2133.5A112.4 106.7 0 0 1 630.5 2125.6Z" fill="#666699"/></g>
<g stroke="#5C5C99" stroke-width="1.6" stroke-linejoin="round"><path d="M873.0 2233.8L873.0 2125.1A112.0 108.7 0 0 1 899.9 2339.3Z" fill="#CBDFF8"/><path d="M873.0 2233.8L899.9 2339.3A112.0 108.7 0 0 1 799.5 2151.8Z" fill="#99CCFF"/><path d="M873.0 2233.8L799.5 2151.8A112.0 108.7 0 0 1 843.4 2129.0Z" fill="#6699CC"/><path d="M873.0 2233.8L843.4 2129.0A112.0 108.7 0 0 1 873.0 2125.1Z" fill="#666699"/></g>
<g stroke="#5C5C99" stroke-width="1.6" stroke-linejoin="round"><path d="M1121.4 2231.8L1121.4 2123.5A114.4 108.3 0 0 1 1233.5 2253.4Z" fill="#CBDFF8"/><path d="M1121.4 2231.8L1233.5 2253.4A114.4 108.3 0 0 1 1014.4 2270.1Z" fill="#99CCFF"/><path d="M1121.4 2231.8L1014.4 2270.1A114.4 108.3 0 0 1 1038.3 2157.4Z" fill="#6699CC"/><path d="M1121.4 2231.8L1038.3 2157.4A114.4 108.3 0 0 1 1121.4 2123.5Z" fill="#666699"/></g>
<g stroke="#5C5C99" stroke-width="1.6" stroke-linejoin="round"><path d="M1364.2 2231.5L1364.2 2123.2A111.8 108.3 0 0 1 1472.5 2204.6Z" fill="#CBDFF8"/><path d="M1364.2 2231.5L1472.5 2204.6A111.8 108.3 0 0 1 1270.9 2291.1Z" fill="#99CCFF"/><path d="M1364.2 2231.5L1270.9 2291.1A111.8 108.3 0 0 1 1252.8 2240.4Z" fill="#6699CC"/><path d="M1364.2 2231.5L1252.8 2240.4A111.8 108.3 0 0 1 1364.2 2123.2Z" fill="#666699"/></g>
<g stroke="#5C5C99" stroke-width="1.6" stroke-linejoin="round"><path d="M1608.3 2225.3L1608.3 2119.9A114.0 105.4 0 0 1 1719.7 2203.0Z" fill="#CBDFF8"/><path d="M1608.3 2225.3L1719.7 2203.0A114.0 105.4 0 0 1 1595.4 2330.0Z" fill="#99CCFF"/><path d="M1608.3 2225.3L1595.4 2330.0A114.0 105.4 0 0 1 1494.5 2231.2Z" fill="#6699CC"/><path d="M1608.3 2225.3L1494.5 2231.2A114.0 105.4 0 0 1 1608.3 2119.9Z" fill="#666699"/></g>
<g stroke="#707070" stroke-width="2" stroke-linejoin="round"><path d="M390.3 2489.3L390.3 2377.5A111.6 111.8 0 1 1 305.9 2416.1Z" fill="#FCE6D9"/><path d="M390.3 2489.3L305.9 2416.1A111.6 111.8 0 0 1 359.5 2381.8Z" fill="#FFC000"/><path d="M390.3 2489.3L359.5 2381.8A111.6 111.8 0 0 1 390.3 2377.5Z" fill="#C55A11"/></g>
<g stroke="#707070" stroke-width="2" stroke-linejoin="round"><path d="M640.4 2485.0L640.4 2375.5A111.8 109.5 0 1 1 540.0 2436.8Z" fill="#FCE6D9"/><path d="M640.4 2485.0L540.0 2436.8A111.8 109.5 0 0 1 620.0 2377.3Z" fill="#FFC000"/><path d="M640.4 2485.0L620.0 2377.3A111.8 109.5 0 0 1 640.4 2375.5Z" fill="#C55A11"/></g>
<g stroke="#707070" stroke-width="2" stroke-linejoin="round"><path d="M879.1 2485.0L879.1 2376.3A111.6 108.7 0 1 1 829.8 2387.5Z" fill="#FCE6D9"/><path d="M879.1 2485.0L829.8 2387.5A111.6 108.7 0 0 1 873.3 2376.4Z" fill="#FFC000"/><path d="M879.1 2485.0L873.3 2376.4A111.6 108.7 0 0 1 879.1 2376.3Z" fill="#C55A11"/></g>
<g stroke="#707070" stroke-width="2" stroke-linejoin="round"><path d="M1117.5 2483.2L1117.5 2375.5A110.4 107.7 0 1 1 1027.3 2421.1Z" fill="#FCE6D9"/><path d="M1117.5 2483.2L1027.3 2421.1A110.4 107.7 0 0 1 1100.6 2376.8Z" fill="#FFC000"/><path d="M1117.5 2483.2L1100.6 2376.8A110.4 107.7 0 0 1 1117.5 2375.5Z" fill="#C55A11"/></g>
<g stroke="#707070" stroke-width="2" stroke-linejoin="round"><path d="M1373.1 2483.1L1373.1 2374.8A111.3 108.3 0 1 1 1261.9 2479.1Z" fill="#FCE6D9"/><path d="M1373.1 2483.1L1261.9 2479.1A111.3 108.3 0 0 1 1336.7 2380.8Z" fill="#FFC000"/><path d="M1373.1 2483.1L1336.7 2380.8A111.3 108.3 0 0 1 1373.1 2374.8Z" fill="#C55A11"/></g>
<g stroke="#707070" stroke-width="2" stroke-linejoin="round"><path d="M1619.9 2482.6L1619.9 2373.6A112.5 109.0 0 1 1 1507.4 2483.6Z" fill="#FCE6D9"/><path d="M1619.9 2482.6L1507.4 2483.6A112.5 109.0 0 0 1 1563.8 2388.1Z" fill="#FFC000"/><path d="M1619.9 2482.6L1563.8 2388.1A112.5 109.0 0 0 1 1619.9 2373.6Z" fill="#C55A11"/></g>
<rect x="115.7" y="2170.3" width="21.3" height="21.2" fill="#CBDFF8" stroke="#585C94" stroke-width="1.6"/>
<text x="148.2" y="2190.7" font-size="25.5" fill="#585C94" textLength="64.2" lengthAdjust="spacingAndGlyphs">&lt;0.01</text>
<rect x="115.7" y="2196.7" width="21.3" height="22.0" fill="#99CCFF" stroke="#585C94" stroke-width="1.6"/>
<text x="148.2" y="2218.4" font-size="25.5" fill="#585C94" textLength="74.4" lengthAdjust="spacingAndGlyphs">0.01–1</text>
<rect x="115.7" y="2226.0" width="21.3" height="22.4" fill="#6699CC" stroke="#585C94" stroke-width="1.6"/>
<text x="148.2" y="2247.5" font-size="25.5" fill="#585C94" textLength="37.8" lengthAdjust="spacingAndGlyphs">1–5</text>
<rect x="115.7" y="2254.5" width="21.3" height="23.1" fill="#666699" stroke="#585C94" stroke-width="1.6"/>
<text x="148.2" y="2276.5" font-size="25.5" fill="#585C94" textLength="25.6" lengthAdjust="spacingAndGlyphs">≥5</text>
<rect x="140.4" y="2429.3" width="15.5" height="15.4" fill="#FCE6D9" stroke="#707070" stroke-width="2.2"/>
<text x="170.2" y="2445.2" font-size="25.5" fill="#595959" textLength="64.2" lengthAdjust="spacingAndGlyphs">&lt;0.01</text>
<rect x="140.4" y="2463.8" width="15.5" height="15.5" fill="#FFC000" stroke="#707070" stroke-width="2.2"/>
<text x="170.2" y="2479.7" font-size="25.5" fill="#595959" textLength="75.2" lengthAdjust="spacingAndGlyphs">0.01–1</text>
<rect x="140.4" y="2498.4" width="15.5" height="15.4" fill="#C55A11" stroke="#707070" stroke-width="2.2"/>
<text x="170.2" y="2514.3" font-size="25.5" fill="#595959" textLength="21.1" lengthAdjust="spacingAndGlyphs">≥1</text>
<text x="286.0" y="20.5" font-size="25" text-anchor="middle">I</text>
<text x="468.0" y="20.5" font-size="25" text-anchor="middle">II</text>
<text x="770.0" y="20.5" font-size="25" text-anchor="middle">III</text>
<text x="1176.5" y="20.5" font-size="25" text-anchor="middle">IV</text>
<text x="1480.5" y="20.5" font-size="25" text-anchor="middle">V</text>
<text x="1735.0" y="20.5" font-size="25" text-anchor="middle">VI</text>
<text x="194.0" y="178.4" font-size="25.3" text-anchor="end" textLength="128.6" lengthAdjust="spacingAndGlyphs">Ruxolitinib</text>
<text x="194.0" y="218.6" font-size="25.3" text-anchor="end" textLength="131.0" lengthAdjust="spacingAndGlyphs">Nelarabine</text>
<text x="194.0" y="258.7" font-size="25.3" text-anchor="end" textLength="111.0" lengthAdjust="spacingAndGlyphs">Dasatinib</text>
<text x="194.0" y="298.9" font-size="25.3" text-anchor="end" textLength="101.3" lengthAdjust="spacingAndGlyphs">Ibrutinib</text>
<text x="194.0" y="339.0" font-size="25.3" text-anchor="end" textLength="99.0" lengthAdjust="spacingAndGlyphs">CHZ868</text>
<text x="194.0" y="379.2" font-size="25.3" text-anchor="end" textLength="130.0" lengthAdjust="spacingAndGlyphs">Trametinib</text>
<text x="194.0" y="419.4" font-size="25.3" text-anchor="end" textLength="136.0" lengthAdjust="spacingAndGlyphs">Venetoclax</text>
<text x="194.0" y="459.5" font-size="25.3" text-anchor="end" textLength="124.0" lengthAdjust="spacingAndGlyphs">Vorinostat</text>
<text x="194.0" y="499.7" font-size="25.3" text-anchor="end" textLength="194.0" lengthAdjust="spacingAndGlyphs">Dexamethasone</text>
<text x="194.0" y="539.8" font-size="25.3" text-anchor="end" textLength="158.1" lengthAdjust="spacingAndGlyphs">Prednisolone</text>
<text x="194.0" y="580.0" font-size="25.3" text-anchor="end" textLength="131.8" lengthAdjust="spacingAndGlyphs">Cytarabine</text>
<text x="194.0" y="620.2" font-size="25.3" text-anchor="end" textLength="193.5" lengthAdjust="spacingAndGlyphs">Mercaptopurine</text>
<text x="187.3" y="660.3" font-size="25.3" text-anchor="end" textLength="149.0" lengthAdjust="spacingAndGlyphs">Thioguanine</text>
<text x="194.0" y="700.5" font-size="25.3" text-anchor="end" textLength="177.4" lengthAdjust="spacingAndGlyphs"><tspan font-size="18">L</tspan>-asparaginase</text>
<text x="194.0" y="740.6" font-size="25.3" text-anchor="end" textLength="139.1" lengthAdjust="spacingAndGlyphs">Bortezomib</text>
<text x="194.0" y="780.8" font-size="25.3" text-anchor="end" textLength="162.3" lengthAdjust="spacingAndGlyphs">Daunorubicin</text>
<text x="194.0" y="821.0" font-size="25.3" text-anchor="end" textLength="127.7" lengthAdjust="spacingAndGlyphs">Vincristine</text>
<text x="194.0" y="861.1" font-size="25.3" text-anchor="end" textLength="158.1" lengthAdjust="spacingAndGlyphs">Panobinostat</text>
<text x="1972.5" y="19.2" font-size="22.5" textLength="52.4" lengthAdjust="spacingAndGlyphs">LC<tspan font-size="16.5" dy="6.5">50</tspan></text>
<text x="2021.0" y="52.6" font-size="25" textLength="52.0" lengthAdjust="spacingAndGlyphs">1.00</text>
<text x="2021.0" y="106.0" font-size="25" textLength="52.0" lengthAdjust="spacingAndGlyphs">0.75</text>
<text x="2021.0" y="159.6" font-size="25" textLength="52.0" lengthAdjust="spacingAndGlyphs">0.50</text>
<text x="2021.0" y="212.9" font-size="25" textLength="52.0" lengthAdjust="spacingAndGlyphs">0.25</text>
<text x="2021.0" y="266.6" font-size="25" textLength="16.0" lengthAdjust="spacingAndGlyphs">0</text>
<text x="0.0" y="0.0" font-size="27" text-anchor="middle" transform="translate(2014.7,484) rotate(90)" textLength="56.0" lengthAdjust="spacingAndGlyphs">Drug</text>
<text x="0.0" y="0.0" font-size="27" text-anchor="middle" transform="translate(2014.6,1576.6) rotate(90)" textLength="100.6" lengthAdjust="spacingAndGlyphs">Subtype</text>
<text x="0.0" y="0.0" font-size="27" text-anchor="middle" transform="translate(2014.4,2230.8) rotate(90)" textLength="138.8" lengthAdjust="spacingAndGlyphs">Day 15 MRD</text>
<text x="0.0" y="0.0" font-size="27" text-anchor="middle" transform="translate(2014.4,2483.7) rotate(90)" textLength="145.3" lengthAdjust="spacingAndGlyphs">Day 42 MRD</text>
<text x="440.6" y="925.5" font-size="25" text-anchor="middle">I</text>
<text x="668.6" y="925.5" font-size="25" text-anchor="middle">II</text>
<text x="896.0" y="926.4" font-size="25" text-anchor="middle">III</text>
<text x="1124.7" y="928.5" font-size="25" text-anchor="middle">IV</text>
<text x="1352.4" y="926.4" font-size="25" text-anchor="middle">V</text>
<text x="1580.8" y="927.8" font-size="25" text-anchor="middle">VI</text>
<rect x="105.0" y="956.4" width="38.0" height="13.6" fill="#EECBF8" stroke="#8E8E8E" stroke-width="1.6"/>
<text x="166.6" y="972.3" font-size="25.3" font-style="italic" textLength="149.2" lengthAdjust="spacingAndGlyphs">ETV6-RUNX1</text>
<path d="M330.5 963.5H395.5" fill="none" stroke="#484848" stroke-width="1"/>
<rect x="186.5" y="1275.0" width="37.0" height="13.5" fill="#5A57F8" stroke="#8E8E8E" stroke-width="1.6"/>
<text x="237.7" y="1288.5" font-size="25.3" textLength="64.7" lengthAdjust="spacingAndGlyphs">T cell</text>
<text x="237.7" y="1319.0" font-size="25.3" textLength="43.5" lengthAdjust="spacingAndGlyphs">ALL</text>
<path d="M320.5 1280.5H385.5" fill="none" stroke="#484848" stroke-width="1"/>
<rect x="164.0" y="1546.3" width="38.0" height="13.5" fill="#05BD78" stroke="#8E8E8E" stroke-width="1.6"/>
<text x="222.3" y="1560.6" font-size="25.3" textLength="86.6" lengthAdjust="spacingAndGlyphs">B other</text>
<path d="M320.5 1550.5H385.5" fill="none" stroke="#484848" stroke-width="1"/>
<rect x="188.5" y="1592.3" width="37.8" height="13.0" fill="#FC9F40" stroke="#8E8E8E" stroke-width="1.6"/>
<text x="243.4" y="1606.5" font-size="25.3" font-style="italic" textLength="66.3" lengthAdjust="spacingAndGlyphs">DUX4</text>
<path d="M320.5 1596.5H385.5" fill="none" stroke="#484848" stroke-width="1"/>
<rect x="114.5" y="1637.8" width="38.5" height="13.2" fill="#FFBE80" stroke="#8E8E8E" stroke-width="1.6"/>
<text x="178.4" y="1652.4" font-size="25.3" font-style="italic" textLength="128.0" lengthAdjust="spacingAndGlyphs">TCF3-PBX1</text>
<path d="M320.5 1642.5H385.5" fill="none" stroke="#484848" stroke-width="1"/>
<rect x="121.9" y="1804.5" width="37.8" height="13.5" fill="#FF8080" stroke="#8E8E8E" stroke-width="1.6"/>
<text x="184.5" y="1819.0" font-size="25.3" font-style="italic" textLength="117.0" lengthAdjust="spacingAndGlyphs">BCR-ABL1</text>
<path d="M320.5 1808.5H385.5" fill="none" stroke="#484848" stroke-width="1"/>
<rect x="159.3" y="1970.3" width="37.7" height="13.4" fill="#CCF7E6" stroke="#8E8E8E" stroke-width="1.6"/>
<text x="221.0" y="1985.8" font-size="25.3" textLength="83.8" lengthAdjust="spacingAndGlyphs">iAMP21</text>
<path d="M314.5 1975.5H379.5" fill="none" stroke="#484848" stroke-width="1"/>
<path d="M1630.5 1071.5H1695.5" fill="none" stroke="#484848" stroke-width="1"/>
<rect x="1715.3" y="1065.6" width="38.5" height="13.4" fill="#B855D8" stroke="#8E8E8E" stroke-width="1.6"/>
<text x="1766.0" y="1079.7" font-size="25.3" textLength="157.5" lengthAdjust="spacingAndGlyphs">Hyperdiploid</text>
<path d="M1624.5 1590.5H1689.5" fill="none" stroke="#484848" stroke-width="1"/>
<rect x="1730.0" y="1584.5" width="38.6" height="13.5" fill="#45F0B0" stroke="#8E8E8E" stroke-width="1.6"/>
<text x="1779.0" y="1599.3" font-size="25.3" textLength="92.6" lengthAdjust="spacingAndGlyphs"><tspan font-style="italic">PAX5</tspan>alt</text>
<path d="M1626.5 1680.5H1692.5" fill="none" stroke="#484848" stroke-width="1"/>
<rect x="1730.0" y="1674.0" width="38.6" height="13.0" fill="#066845" stroke="#8E8E8E" stroke-width="1.6"/>
<text x="1779.0" y="1689.0" font-size="25.3" textLength="82.6" lengthAdjust="spacingAndGlyphs"><tspan font-style="italic">KMT2A</tspan></text>
<path d="M1636.5 1787.5H1701.5" fill="none" stroke="#484848" stroke-width="1"/>
<rect x="1730.0" y="1779.7" width="38.6" height="13.3" fill="#F86295" stroke="#8E8E8E" stroke-width="1.6"/>
<text x="1779.0" y="1794.6" font-size="25.3" textLength="76.7" lengthAdjust="spacingAndGlyphs"><tspan font-style="italic">CRLF2</tspan></text>
<path d="M1637.5 1821.5H1702.5" fill="none" stroke="#484848" stroke-width="1"/>
<rect x="1730.0" y="1816.0" width="38.6" height="13.0" fill="#F64BD6" stroke="#8E8E8E" stroke-width="1.6"/>
<text x="1779.0" y="1830.5" font-size="25.3" textLength="41.9" lengthAdjust="spacingAndGlyphs">ETP</text>
<path d="M1637.5 1853.5H1702.5" fill="none" stroke="#484848" stroke-width="1"/>
<rect x="1730.0" y="1850.0" width="38.6" height="13.0" fill="#8C90CF" stroke="#8E8E8E" stroke-width="1.6"/>
<text x="1779.0" y="1864.2" font-size="25.3" textLength="200.0" lengthAdjust="spacingAndGlyphs"><tspan font-style="italic">ETV6-RUNX1</tspan>-like</text>
<path d="M1639.5 1890.5H1705.5" fill="none" stroke="#484848" stroke-width="1"/>
<rect x="1730.0" y="1883.5" width="38.6" height="13.3" fill="#FEE0E0" stroke="#8E8E8E" stroke-width="1.6"/>
<text x="1779.0" y="1898.3" font-size="25.3" textLength="167.5" lengthAdjust="spacingAndGlyphs"><tspan font-style="italic">BCR-ABL1</tspan>-like</text>
<path d="M1639.5 1941.5H1705.5" fill="none" stroke="#484848" stroke-width="1"/>
<rect x="1730.0" y="1932.8" width="38.6" height="12.9" fill="#C0BEFB" stroke="#8E8E8E" stroke-width="1.6"/>
<text x="1779.0" y="1947.6" font-size="25.3" textLength="153.8" lengthAdjust="spacingAndGlyphs">Near haploid</text>
<path d="M1638.5 1968.5H1703.5" fill="none" stroke="#484848" stroke-width="1"/>
<rect x="1730.0" y="1961.3" width="38.6" height="13.0" fill="#F64040" stroke="#8E8E8E" stroke-width="1.6"/>
<text x="1779.0" y="1975.4" font-size="25.3" textLength="96.3" lengthAdjust="spacingAndGlyphs"><tspan font-style="italic">ZNF384</tspan></text>
<path d="M1639.5 1988.5H1705.5" fill="none" stroke="#484848" stroke-width="1"/>
<rect x="1730.0" y="1989.0" width="38.6" height="13.0" fill="#D3D3D3" stroke="#8E8E8E" stroke-width="1.6"/>
<text x="1779.0" y="2004.7" font-size="25.3" textLength="133.4" lengthAdjust="spacingAndGlyphs"><tspan font-style="italic">PAX5</tspan> P80R</text>
<rect x="497.0" y="2052.0" width="37.9" height="14.2" fill="#8FBEFB" stroke="#8E8E8E" stroke-width="1.6"/>
<text x="547.0" y="2066.6" font-size="25.3" textLength="83.4" lengthAdjust="spacingAndGlyphs"><tspan font-style="italic">NUTM1</tspan></text>
<rect x="657.2" y="2052.0" width="38.7" height="14.2" fill="#3B0058" stroke="none" stroke-width="1.6"/>
<text x="709.7" y="2066.6" font-size="25.3" textLength="128.8" lengthAdjust="spacingAndGlyphs"><tspan font-style="italic">BCL2</tspan>/<tspan font-style="italic">MYC</tspan></text>
<rect x="861.3" y="2052.0" width="38.2" height="14.2" fill="#A0FCA0" stroke="#8E8E8E" stroke-width="1.6"/>
<text x="913.7" y="2066.6" font-size="25.3" textLength="82.6" lengthAdjust="spacingAndGlyphs"><tspan font-style="italic">MEF2D</tspan></text>
<rect x="1023.5" y="2052.0" width="39.0" height="14.2" fill="#FFC0DE" stroke="#8E8E8E" stroke-width="1.6"/>
<text x="1076.3" y="2066.6" font-size="25.3" textLength="201.7" lengthAdjust="spacingAndGlyphs">Low hypodiploid</text>
<rect x="1317.9" y="2052.0" width="38.6" height="14.2" fill="#A00008" stroke="none" stroke-width="1.6"/>
<text x="1369.5" y="2066.6" font-size="25.3" textLength="144.3" lengthAdjust="spacingAndGlyphs"><tspan font-style="italic">IKZF1</tspan> N159Y</text>
<rect x="1565.4" y="2052.0" width="38.6" height="14.2" fill="#966020" stroke="#8E8E8E" stroke-width="1.6"/>
<text x="1619.0" y="2066.6" font-size="25.3" textLength="116.4" lengthAdjust="spacingAndGlyphs"><tspan font-style="italic">TCF3-HLF</tspan></text>
<path d="M599.5 1989.5H540.5V2030.5" fill="none" stroke="#484848" stroke-width="1"/>
<path d="M827.5 2003.5H763.5V2030.5" fill="none" stroke="#484848" stroke-width="1"/>
<path d="M952.5 1973.5H981.5V2030.5" fill="none" stroke="#484848" stroke-width="1"/>
<path d="M1062.5 1998.5H1037.5V2032.5" fill="none" stroke="#484848" stroke-width="1"/>
<path d="M1197.5 2004.5V2030.5H1336.5V2039.5" fill="none" stroke="#484848" stroke-width="1"/>
<path d="M1582.5 2000.5V2036.5" fill="none" stroke="#484848" stroke-width="1"/>
</svg></body></html>
